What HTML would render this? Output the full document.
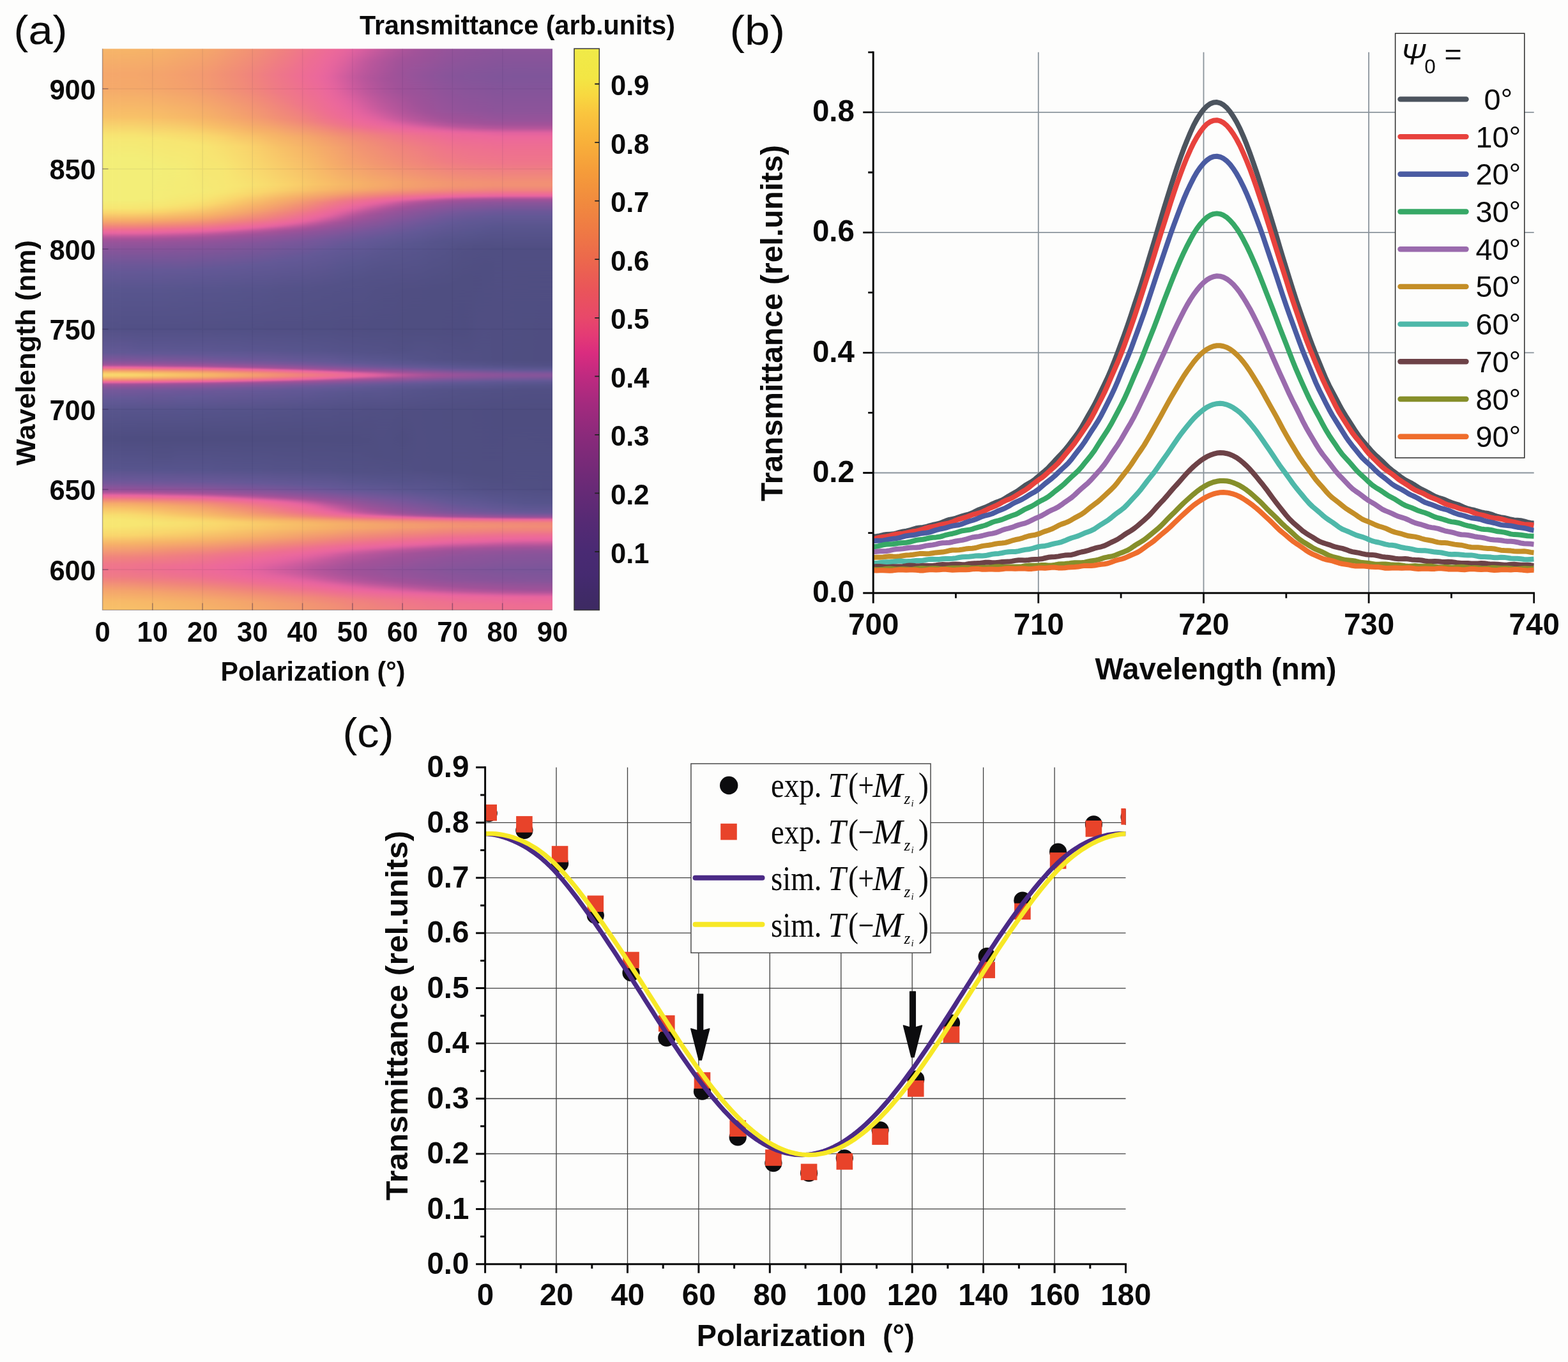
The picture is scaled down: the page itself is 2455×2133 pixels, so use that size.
<!DOCTYPE html>
<html lang="en">
<head>
<meta charset="utf-8">
<title>Transmittance figure</title>
<style>
html,body{margin:0;padding:0;background:#fdfdfc;}
body{width:2455px;height:2133px;overflow:hidden;}
svg{display:block;}
text{font-family:"Liberation Sans",sans-serif;fill:#0a0a0a;white-space:pre;}
.b{font-weight:bold;}
.s{font-family:"Liberation Serif",serif;}
.i{font-style:italic;}
</style>
</head>
<body>
<svg width="2455" height="2133" viewBox="0 0 2455 2133">
<rect width="2455" height="2133" fill="#fdfdfc"/>
<defs>
<linearGradient id="h0" x1="0" y1="0" x2="0" y2="1"><stop offset="0" stop-color="#f6b568"/><stop offset=".0443" stop-color="#f5a76b"/><stop offset=".07" stop-color="#f5a96a"/><stop offset=".1214" stop-color="#f8c168"/><stop offset=".1529" stop-color="#f7e371"/><stop offset=".1614" stop-color="#f6e874"/><stop offset=".1943" stop-color="#f3ee78"/><stop offset=".27" stop-color="#f3ee78"/><stop offset=".2843" stop-color="#f7e672"/><stop offset=".2929" stop-color="#f9d46c"/><stop offset=".3043" stop-color="#f6b268"/><stop offset=".3086" stop-color="#f4a46c"/><stop offset=".3157" stop-color="#f18879"/><stop offset=".3229" stop-color="#ee6e92"/><stop offset=".3257" stop-color="#ec699b"/><stop offset=".3286" stop-color="#e564a0"/><stop offset=".3357" stop-color="#b7569b"/><stop offset=".34" stop-color="#a45299"/><stop offset=".3457" stop-color="#97539a"/><stop offset=".3571" stop-color="#88549a"/><stop offset=".3857" stop-color="#6c5798"/><stop offset=".3986" stop-color="#645896"/><stop offset=".43" stop-color="#58558e"/><stop offset=".4971" stop-color="#525086"/><stop offset=".5414" stop-color="#625895"/><stop offset=".5557" stop-color="#7f559a"/><stop offset=".56" stop-color="#90539a"/><stop offset=".5629" stop-color="#a15299"/><stop offset=".5643" stop-color="#b1559a"/><stop offset=".5671" stop-color="#e563a0"/><stop offset=".5686" stop-color="#ed6b98"/><stop offset=".57" stop-color="#ef758b"/><stop offset=".5714" stop-color="#f0857c"/><stop offset=".5743" stop-color="#f4a66b"/><stop offset=".5757" stop-color="#f6b568"/><stop offset=".5786" stop-color="#f9ce6a"/><stop offset=".58" stop-color="#f9d56c"/><stop offset=".5829" stop-color="#f9d46c"/><stop offset=".5857" stop-color="#f8bf68"/><stop offset=".5886" stop-color="#f4a16d"/><stop offset=".59" stop-color="#f29075"/><stop offset=".5929" stop-color="#ee6f91"/><stop offset=".5943" stop-color="#e9669d"/><stop offset=".5971" stop-color="#b1559a"/><stop offset=".5986" stop-color="#9f5299"/><stop offset=".6029" stop-color="#88549a"/><stop offset=".6086" stop-color="#75579a"/><stop offset=".6243" stop-color="#635896"/><stop offset=".6443" stop-color="#57548c"/><stop offset=".6943" stop-color="#4e4d81"/><stop offset=".7486" stop-color="#57548d"/><stop offset=".7686" stop-color="#6b5798"/><stop offset=".7757" stop-color="#78569a"/><stop offset=".7843" stop-color="#90539a"/><stop offset=".7886" stop-color="#a25299"/><stop offset=".7914" stop-color="#b9569b"/><stop offset=".7943" stop-color="#dc609f"/><stop offset=".7957" stop-color="#e8659e"/><stop offset=".7971" stop-color="#ec699a"/><stop offset=".8" stop-color="#ef738d"/><stop offset=".8043" stop-color="#f18b78"/><stop offset=".81" stop-color="#f5a96a"/><stop offset=".8186" stop-color="#f8c268"/><stop offset=".8314" stop-color="#f8df6f"/><stop offset=".84" stop-color="#f7e773"/><stop offset=".8514" stop-color="#f7e672"/><stop offset=".8671" stop-color="#f9d66c"/><stop offset=".8829" stop-color="#f6b168"/><stop offset=".9057" stop-color="#f0847c"/><stop offset=".9186" stop-color="#ef768a"/><stop offset=".9271" stop-color="#ef748c"/><stop offset=".94" stop-color="#ef7a86"/><stop offset=".9471" stop-color="#f0857c"/><stop offset=".9643" stop-color="#f4a36c"/><stop offset=".9843" stop-color="#f7ba68"/><stop offset="1" stop-color="#f8c168"/></linearGradient>
<linearGradient id="h1" x1="0" y1="0" x2="0" y2="1"><stop offset="0" stop-color="#f6b568"/><stop offset=".0443" stop-color="#f5a76b"/><stop offset=".07" stop-color="#f5a96a"/><stop offset=".1214" stop-color="#f8c168"/><stop offset=".1529" stop-color="#f7e371"/><stop offset=".1614" stop-color="#f6e874"/><stop offset=".1943" stop-color="#f3ee78"/><stop offset=".27" stop-color="#f3ee78"/><stop offset=".2843" stop-color="#f7e672"/><stop offset=".2929" stop-color="#f9d46c"/><stop offset=".3043" stop-color="#f6b268"/><stop offset=".3086" stop-color="#f4a46c"/><stop offset=".3157" stop-color="#f18879"/><stop offset=".3229" stop-color="#ee6e92"/><stop offset=".3257" stop-color="#ec699b"/><stop offset=".3286" stop-color="#e564a0"/><stop offset=".3357" stop-color="#b7569b"/><stop offset=".34" stop-color="#a45299"/><stop offset=".3457" stop-color="#97539a"/><stop offset=".3571" stop-color="#88549a"/><stop offset=".3857" stop-color="#6c5798"/><stop offset=".3986" stop-color="#645896"/><stop offset=".43" stop-color="#58558e"/><stop offset=".4971" stop-color="#525086"/><stop offset=".5414" stop-color="#625895"/><stop offset=".5557" stop-color="#7f559a"/><stop offset=".56" stop-color="#90539a"/><stop offset=".5629" stop-color="#a15299"/><stop offset=".5643" stop-color="#b1559a"/><stop offset=".5657" stop-color="#c85a9d"/><stop offset=".5671" stop-color="#e463a0"/><stop offset=".5686" stop-color="#ed6a98"/><stop offset=".57" stop-color="#ef748c"/><stop offset=".5714" stop-color="#f0847c"/><stop offset=".5743" stop-color="#f4a66b"/><stop offset=".5757" stop-color="#f6b468"/><stop offset=".5786" stop-color="#f9cd6a"/><stop offset=".58" stop-color="#f9d46c"/><stop offset=".5814" stop-color="#f9d66c"/><stop offset=".5829" stop-color="#f9d36b"/><stop offset=".5857" stop-color="#f8be68"/><stop offset=".5886" stop-color="#f4a16d"/><stop offset=".59" stop-color="#f18f75"/><stop offset=".5929" stop-color="#ee6e92"/><stop offset=".5943" stop-color="#e9669e"/><stop offset=".5971" stop-color="#b1559a"/><stop offset=".5986" stop-color="#9f5299"/><stop offset=".6029" stop-color="#88549a"/><stop offset=".6086" stop-color="#75579a"/><stop offset=".6243" stop-color="#635896"/><stop offset=".6443" stop-color="#57548c"/><stop offset=".6943" stop-color="#4e4d81"/><stop offset=".7486" stop-color="#57548d"/><stop offset=".7686" stop-color="#6b5798"/><stop offset=".7757" stop-color="#78569a"/><stop offset=".7843" stop-color="#90539a"/><stop offset=".7886" stop-color="#a25299"/><stop offset=".7914" stop-color="#b8569b"/><stop offset=".7943" stop-color="#da609f"/><stop offset=".7957" stop-color="#e7659e"/><stop offset=".7971" stop-color="#ec699a"/><stop offset=".8" stop-color="#ef738d"/><stop offset=".8043" stop-color="#f18a78"/><stop offset=".81" stop-color="#f5a96b"/><stop offset=".8186" stop-color="#f8c168"/><stop offset=".83" stop-color="#f8dc6e"/><stop offset=".8386" stop-color="#f7e672"/><stop offset=".85" stop-color="#f7e772"/><stop offset=".8671" stop-color="#f9d66c"/><stop offset=".8829" stop-color="#f6b068"/><stop offset=".9057" stop-color="#f0837d"/><stop offset=".9186" stop-color="#ef768a"/><stop offset=".9271" stop-color="#ef738d"/><stop offset=".94" stop-color="#ef7a86"/><stop offset=".9471" stop-color="#f0847c"/><stop offset=".9657" stop-color="#f4a46c"/><stop offset=".9843" stop-color="#f7ba68"/><stop offset="1" stop-color="#f8c168"/></linearGradient>
<linearGradient id="h2" x1="0" y1="0" x2="0" y2="1"><stop offset="0" stop-color="#f6b568"/><stop offset=".0443" stop-color="#f5a76b"/><stop offset=".07" stop-color="#f5a96a"/><stop offset=".1214" stop-color="#f8c168"/><stop offset=".1529" stop-color="#f7e371"/><stop offset=".1614" stop-color="#f6e874"/><stop offset=".1943" stop-color="#f3ee78"/><stop offset=".27" stop-color="#f3ee78"/><stop offset=".2843" stop-color="#f7e672"/><stop offset=".2929" stop-color="#f9d46c"/><stop offset=".3043" stop-color="#f6b268"/><stop offset=".3086" stop-color="#f4a46c"/><stop offset=".3157" stop-color="#f18879"/><stop offset=".3229" stop-color="#ee6e92"/><stop offset=".3257" stop-color="#ec699b"/><stop offset=".3286" stop-color="#e564a0"/><stop offset=".3357" stop-color="#b7569b"/><stop offset=".34" stop-color="#a45299"/><stop offset=".3457" stop-color="#97539a"/><stop offset=".3571" stop-color="#88549a"/><stop offset=".3857" stop-color="#6c5798"/><stop offset=".3986" stop-color="#645896"/><stop offset=".43" stop-color="#58558e"/><stop offset=".4971" stop-color="#525086"/><stop offset=".5414" stop-color="#625895"/><stop offset=".5557" stop-color="#7f559a"/><stop offset=".56" stop-color="#8f539a"/><stop offset=".5629" stop-color="#a05299"/><stop offset=".5643" stop-color="#b0559a"/><stop offset=".5657" stop-color="#c75a9d"/><stop offset=".5671" stop-color="#e463a0"/><stop offset=".5686" stop-color="#ed6a98"/><stop offset=".57" stop-color="#ef748c"/><stop offset=".5714" stop-color="#f0847c"/><stop offset=".5743" stop-color="#f4a56b"/><stop offset=".5757" stop-color="#f6b368"/><stop offset=".5786" stop-color="#f9cc6a"/><stop offset=".58" stop-color="#f9d36b"/><stop offset=".5814" stop-color="#f9d56c"/><stop offset=".5829" stop-color="#f9d26b"/><stop offset=".5857" stop-color="#f7bd68"/><stop offset=".5886" stop-color="#f4a06d"/><stop offset=".59" stop-color="#f18e76"/><stop offset=".5929" stop-color="#ee6e92"/><stop offset=".5943" stop-color="#e8669e"/><stop offset=".5971" stop-color="#b0559a"/><stop offset=".5986" stop-color="#9f5299"/><stop offset=".6029" stop-color="#88549a"/><stop offset=".6086" stop-color="#75579a"/><stop offset=".6243" stop-color="#635896"/><stop offset=".6443" stop-color="#57548c"/><stop offset=".6943" stop-color="#4e4d81"/><stop offset=".7486" stop-color="#57548d"/><stop offset=".7686" stop-color="#6b5798"/><stop offset=".7757" stop-color="#78569a"/><stop offset=".7843" stop-color="#90539a"/><stop offset=".7886" stop-color="#a15299"/><stop offset=".7914" stop-color="#b8569b"/><stop offset=".7957" stop-color="#e7659f"/><stop offset=".7971" stop-color="#ec699b"/><stop offset=".8" stop-color="#ee738d"/><stop offset=".8043" stop-color="#f18a79"/><stop offset=".81" stop-color="#f5a86b"/><stop offset=".8186" stop-color="#f8c068"/><stop offset=".83" stop-color="#f8db6e"/><stop offset=".84" stop-color="#f7e672"/><stop offset=".85" stop-color="#f7e672"/><stop offset=".8671" stop-color="#f9d56c"/><stop offset=".8814" stop-color="#f6b368"/><stop offset=".9057" stop-color="#f0837d"/><stop offset=".9186" stop-color="#ef768a"/><stop offset=".9271" stop-color="#ef738d"/><stop offset=".94" stop-color="#ef7a86"/><stop offset=".9471" stop-color="#f0847c"/><stop offset=".9657" stop-color="#f4a46c"/><stop offset=".9843" stop-color="#f7b968"/><stop offset="1" stop-color="#f8c168"/></linearGradient>
<linearGradient id="h3" x1="0" y1="0" x2="0" y2="1"><stop offset="0" stop-color="#f6b468"/><stop offset=".0443" stop-color="#f5a76b"/><stop offset=".07" stop-color="#f5a96a"/><stop offset=".1214" stop-color="#f8c168"/><stop offset=".1529" stop-color="#f7e371"/><stop offset=".1614" stop-color="#f6e873"/><stop offset=".1943" stop-color="#f3ee78"/><stop offset=".27" stop-color="#f3ee78"/><stop offset=".2843" stop-color="#f7e572"/><stop offset=".2929" stop-color="#f9d46c"/><stop offset=".3043" stop-color="#f6b168"/><stop offset=".3086" stop-color="#f4a46c"/><stop offset=".3157" stop-color="#f18879"/><stop offset=".3229" stop-color="#ee6e92"/><stop offset=".3257" stop-color="#ec699b"/><stop offset=".3286" stop-color="#e564a0"/><stop offset=".3357" stop-color="#b7569b"/><stop offset=".34" stop-color="#a45299"/><stop offset=".3457" stop-color="#97539a"/><stop offset=".3571" stop-color="#88549a"/><stop offset=".3857" stop-color="#6c5798"/><stop offset=".3986" stop-color="#645896"/><stop offset=".43" stop-color="#58558e"/><stop offset=".4971" stop-color="#525086"/><stop offset=".5343" stop-color="#5c5691"/><stop offset=".5429" stop-color="#635896"/><stop offset=".5529" stop-color="#76569a"/><stop offset=".5571" stop-color="#83559a"/><stop offset=".5614" stop-color="#96539a"/><stop offset=".5629" stop-color="#9f5299"/><stop offset=".5643" stop-color="#ae549a"/><stop offset=".5657" stop-color="#c3599d"/><stop offset=".5671" stop-color="#e062a0"/><stop offset=".5686" stop-color="#ec699a"/><stop offset=".57" stop-color="#ee728e"/><stop offset=".5714" stop-color="#f0817f"/><stop offset=".5743" stop-color="#f4a36c"/><stop offset=".5757" stop-color="#f6b168"/><stop offset=".5786" stop-color="#f8c969"/><stop offset=".58" stop-color="#f9d06b"/><stop offset=".5814" stop-color="#f9d26b"/><stop offset=".5829" stop-color="#f9cf6b"/><stop offset=".5857" stop-color="#f7bb68"/><stop offset=".5886" stop-color="#f39e6e"/><stop offset=".59" stop-color="#f18c77"/><stop offset=".5914" stop-color="#ef7b85"/><stop offset=".5929" stop-color="#ee6d93"/><stop offset=".5943" stop-color="#e7659f"/><stop offset=".5971" stop-color="#ae549a"/><stop offset=".5986" stop-color="#9d5299"/><stop offset=".6029" stop-color="#87549a"/><stop offset=".6086" stop-color="#74579a"/><stop offset=".6229" stop-color="#645896"/><stop offset=".6443" stop-color="#57548c"/><stop offset=".6943" stop-color="#4e4d81"/><stop offset=".7486" stop-color="#57548d"/><stop offset=".7686" stop-color="#6a5898"/><stop offset=".7757" stop-color="#77569a"/><stop offset=".7843" stop-color="#8f539a"/><stop offset=".7886" stop-color="#a05299"/><stop offset=".7914" stop-color="#b5559b"/><stop offset=".7957" stop-color="#e5649f"/><stop offset=".7971" stop-color="#ec689c"/><stop offset=".8" stop-color="#ee718f"/><stop offset=".8043" stop-color="#f0877a"/><stop offset=".81" stop-color="#f4a56b"/><stop offset=".8143" stop-color="#f6b368"/><stop offset=".82" stop-color="#f8c068"/><stop offset=".83" stop-color="#f9d86d"/><stop offset=".8414" stop-color="#f7e672"/><stop offset=".8486" stop-color="#f7e672"/><stop offset=".8657" stop-color="#f9d66c"/><stop offset=".8814" stop-color="#f6b268"/><stop offset=".9057" stop-color="#f0827e"/><stop offset=".9186" stop-color="#ef748c"/><stop offset=".9286" stop-color="#ee728e"/><stop offset=".94" stop-color="#ef7888"/><stop offset=".9486" stop-color="#f0857c"/><stop offset=".9657" stop-color="#f4a26c"/><stop offset=".9843" stop-color="#f7b868"/><stop offset="1" stop-color="#f8bf68"/></linearGradient>
<linearGradient id="h4" x1="0" y1="0" x2="0" y2="1"><stop offset="0" stop-color="#f6b368"/><stop offset=".0457" stop-color="#f4a56b"/><stop offset=".07" stop-color="#f5a86b"/><stop offset=".1214" stop-color="#f8c068"/><stop offset=".16" stop-color="#f7e773"/><stop offset=".2014" stop-color="#f3ee78"/><stop offset=".2671" stop-color="#f3ee78"/><stop offset=".2843" stop-color="#f7e471"/><stop offset=".2914" stop-color="#f9d66c"/><stop offset=".3043" stop-color="#f6b069"/><stop offset=".3086" stop-color="#f4a26c"/><stop offset=".3157" stop-color="#f0877a"/><stop offset=".3214" stop-color="#ee728e"/><stop offset=".3257" stop-color="#ec689c"/><stop offset=".3286" stop-color="#e463a0"/><stop offset=".3343" stop-color="#bd579c"/><stop offset=".34" stop-color="#a35299"/><stop offset=".3471" stop-color="#94539a"/><stop offset=".3571" stop-color="#88549a"/><stop offset=".3857" stop-color="#6b5798"/><stop offset=".3986" stop-color="#635896"/><stop offset=".43" stop-color="#58558e"/><stop offset=".4971" stop-color="#525086"/><stop offset=".5343" stop-color="#5c5691"/><stop offset=".5429" stop-color="#635896"/><stop offset=".5529" stop-color="#76579a"/><stop offset=".5571" stop-color="#82559a"/><stop offset=".5614" stop-color="#95539a"/><stop offset=".5643" stop-color="#ab549a"/><stop offset=".5657" stop-color="#c0589c"/><stop offset=".5671" stop-color="#dc609f"/><stop offset=".5686" stop-color="#ec689b"/><stop offset=".57" stop-color="#ee718f"/><stop offset=".5729" stop-color="#f29075"/><stop offset=".5743" stop-color="#f4a06d"/><stop offset=".5771" stop-color="#f7bb68"/><stop offset=".58" stop-color="#f9cd6a"/><stop offset=".5814" stop-color="#f9cf6b"/><stop offset=".5829" stop-color="#f8cb6a"/><stop offset=".5857" stop-color="#f7b868"/><stop offset=".5886" stop-color="#f39c6f"/><stop offset=".59" stop-color="#f18a78"/><stop offset=".5929" stop-color="#ed6c95"/><stop offset=".5943" stop-color="#e6649f"/><stop offset=".5957" stop-color="#c65a9d"/><stop offset=".5971" stop-color="#ac549a"/><stop offset=".5986" stop-color="#9c5299"/><stop offset=".6029" stop-color="#86549a"/><stop offset=".6086" stop-color="#73579a"/><stop offset=".6143" stop-color="#6b5798"/><stop offset=".6429" stop-color="#57548d"/><stop offset=".6943" stop-color="#4e4d80"/><stop offset=".7486" stop-color="#57548c"/><stop offset=".7686" stop-color="#6a5898"/><stop offset=".7757" stop-color="#76569a"/><stop offset=".7843" stop-color="#8e539a"/><stop offset=".7886" stop-color="#9e5299"/><stop offset=".7914" stop-color="#b2559a"/><stop offset=".7957" stop-color="#e363a0"/><stop offset=".7971" stop-color="#ea679d"/><stop offset=".8" stop-color="#ee6f91"/><stop offset=".8043" stop-color="#f0857b"/><stop offset=".81" stop-color="#f4a26c"/><stop offset=".8143" stop-color="#f6b068"/><stop offset=".8214" stop-color="#f8c068"/><stop offset=".8314" stop-color="#f9d76c"/><stop offset=".8414" stop-color="#f7e471"/><stop offset=".8471" stop-color="#f7e672"/><stop offset=".8657" stop-color="#f9d46c"/><stop offset=".88" stop-color="#f6b368"/><stop offset=".8886" stop-color="#f4a16d"/><stop offset=".9057" stop-color="#f08080"/><stop offset=".9186" stop-color="#ef738d"/><stop offset=".9286" stop-color="#ee718f"/><stop offset=".9414" stop-color="#ef7987"/><stop offset=".95" stop-color="#f0857b"/><stop offset=".9671" stop-color="#f4a36c"/><stop offset=".9843" stop-color="#f7b768"/><stop offset="1" stop-color="#f8be68"/></linearGradient>
<linearGradient id="h5" x1="0" y1="0" x2="0" y2="1"><stop offset="0" stop-color="#f6b268"/><stop offset=".0457" stop-color="#f4a46c"/><stop offset=".07" stop-color="#f4a66b"/><stop offset=".1229" stop-color="#f8bf68"/><stop offset=".16" stop-color="#f7e672"/><stop offset=".21" stop-color="#f3ee78"/><stop offset=".2671" stop-color="#f4ed77"/><stop offset=".28" stop-color="#f7e773"/><stop offset=".2843" stop-color="#f8e170"/><stop offset=".2914" stop-color="#f9d36b"/><stop offset=".3029" stop-color="#f6b268"/><stop offset=".3086" stop-color="#f4a06d"/><stop offset=".3157" stop-color="#f0857b"/><stop offset=".3214" stop-color="#ee7090"/><stop offset=".3243" stop-color="#ed6a99"/><stop offset=".3286" stop-color="#e162a0"/><stop offset=".3343" stop-color="#bb579b"/><stop offset=".3386" stop-color="#a75399"/><stop offset=".3443" stop-color="#98539a"/><stop offset=".3543" stop-color="#8a549a"/><stop offset=".3943" stop-color="#655897"/><stop offset=".43" stop-color="#58558e"/><stop offset=".4971" stop-color="#525086"/><stop offset=".5343" stop-color="#5c5691"/><stop offset=".5429" stop-color="#625895"/><stop offset=".5557" stop-color="#7c569a"/><stop offset=".5614" stop-color="#93539a"/><stop offset=".5643" stop-color="#a8539a"/><stop offset=".5657" stop-color="#bc579b"/><stop offset=".5671" stop-color="#d75f9f"/><stop offset=".5686" stop-color="#eb679d"/><stop offset=".57" stop-color="#ee6f91"/><stop offset=".5729" stop-color="#f18d77"/><stop offset=".5743" stop-color="#f39d6f"/><stop offset=".5771" stop-color="#f7b868"/><stop offset=".58" stop-color="#f8c969"/><stop offset=".5814" stop-color="#f8cb6a"/><stop offset=".5829" stop-color="#f8c769"/><stop offset=".5857" stop-color="#f6b568"/><stop offset=".5886" stop-color="#f39970"/><stop offset=".59" stop-color="#f1887a"/><stop offset=".5929" stop-color="#ed6b96"/><stop offset=".5943" stop-color="#e463a0"/><stop offset=".5957" stop-color="#c2599c"/><stop offset=".5971" stop-color="#a9539a"/><stop offset=".5986" stop-color="#9b5299"/><stop offset=".6" stop-color="#92539a"/><stop offset=".6043" stop-color="#80559a"/><stop offset=".6086" stop-color="#73579a"/><stop offset=".6143" stop-color="#6a5898"/><stop offset=".6429" stop-color="#57548c"/><stop offset=".6943" stop-color="#4e4d80"/><stop offset=".7271" stop-color="#525085"/><stop offset=".75" stop-color="#57548d"/><stop offset=".77" stop-color="#6b5798"/><stop offset=".7757" stop-color="#75579a"/><stop offset=".7843" stop-color="#8c549a"/><stop offset=".7886" stop-color="#9d5299"/><stop offset=".7914" stop-color="#af549a"/><stop offset=".7929" stop-color="#bd579c"/><stop offset=".7957" stop-color="#de619f"/><stop offset=".7971" stop-color="#e9669e"/><stop offset=".8" stop-color="#ee6e93"/><stop offset=".8043" stop-color="#f0827e"/><stop offset=".81" stop-color="#f49f6e"/><stop offset=".8171" stop-color="#f6b368"/><stop offset=".8329" stop-color="#f9d66c"/><stop offset=".8414" stop-color="#f7e271"/><stop offset=".8471" stop-color="#f7e471"/><stop offset=".8657" stop-color="#f9d26b"/><stop offset=".88" stop-color="#f6b168"/><stop offset=".8943" stop-color="#f29373"/><stop offset=".9057" stop-color="#f07f81"/><stop offset=".92" stop-color="#ee718f"/><stop offset=".9286" stop-color="#ee7090"/><stop offset=".9429" stop-color="#ef7987"/><stop offset=".9514" stop-color="#f0867b"/><stop offset=".9686" stop-color="#f4a36c"/><stop offset=".9857" stop-color="#f7b668"/><stop offset="1" stop-color="#f7bd68"/></linearGradient>
<linearGradient id="h6" x1="0" y1="0" x2="0" y2="1"><stop offset="0" stop-color="#f6b069"/><stop offset=".0457" stop-color="#f4a26d"/><stop offset=".07" stop-color="#f4a46c"/><stop offset=".1229" stop-color="#f7bd68"/><stop offset=".1514" stop-color="#f8dd6f"/><stop offset=".1629" stop-color="#f7e672"/><stop offset=".2129" stop-color="#f3ed77"/><stop offset=".2629" stop-color="#f4ec77"/><stop offset=".2771" stop-color="#f6e773"/><stop offset=".2829" stop-color="#f8e170"/><stop offset=".29" stop-color="#f9d36b"/><stop offset=".3029" stop-color="#f6af69"/><stop offset=".3071" stop-color="#f4a26c"/><stop offset=".3143" stop-color="#f18879"/><stop offset=".3214" stop-color="#ee6f91"/><stop offset=".3243" stop-color="#ec699a"/><stop offset=".3271" stop-color="#e5649f"/><stop offset=".3343" stop-color="#b8569b"/><stop offset=".3386" stop-color="#a45299"/><stop offset=".3457" stop-color="#94539a"/><stop offset=".3557" stop-color="#88549a"/><stop offset=".3843" stop-color="#6c5798"/><stop offset=".3957" stop-color="#645896"/><stop offset=".43" stop-color="#58558d"/><stop offset=".4971" stop-color="#525086"/><stop offset=".5343" stop-color="#5c5691"/><stop offset=".5429" stop-color="#625895"/><stop offset=".5557" stop-color="#7b569a"/><stop offset=".5614" stop-color="#92539a"/><stop offset=".5643" stop-color="#a55399"/><stop offset=".5657" stop-color="#b7569b"/><stop offset=".5686" stop-color="#e9669e"/><stop offset=".57" stop-color="#ee6d93"/><stop offset=".5729" stop-color="#f18a78"/><stop offset=".5757" stop-color="#f5a96b"/><stop offset=".5786" stop-color="#f8be68"/><stop offset=".58" stop-color="#f8c468"/><stop offset=".5814" stop-color="#f8c669"/><stop offset=".5829" stop-color="#f8c368"/><stop offset=".5857" stop-color="#f6b268"/><stop offset=".5886" stop-color="#f29672"/><stop offset=".59" stop-color="#f0857b"/><stop offset=".5929" stop-color="#ed6a98"/><stop offset=".5943" stop-color="#e062a0"/><stop offset=".5957" stop-color="#be589c"/><stop offset=".5971" stop-color="#a65399"/><stop offset=".6" stop-color="#90539a"/><stop offset=".6043" stop-color="#7f559a"/><stop offset=".6086" stop-color="#72579a"/><stop offset=".6143" stop-color="#6a5898"/><stop offset=".6429" stop-color="#57548c"/><stop offset=".6943" stop-color="#4e4d80"/><stop offset=".7271" stop-color="#525085"/><stop offset=".75" stop-color="#57548d"/><stop offset=".77" stop-color="#6a5898"/><stop offset=".7771" stop-color="#78569a"/><stop offset=".7871" stop-color="#95539a"/><stop offset=".79" stop-color="#a15299"/><stop offset=".7914" stop-color="#ac549a"/><stop offset=".7929" stop-color="#b8569b"/><stop offset=".7971" stop-color="#e6659f"/><stop offset=".7986" stop-color="#ec699b"/><stop offset=".8014" stop-color="#ee718f"/><stop offset=".8071" stop-color="#f18e76"/><stop offset=".8114" stop-color="#f4a16d"/><stop offset=".8143" stop-color="#f5a96a"/><stop offset=".8257" stop-color="#f8c168"/><stop offset=".8343" stop-color="#f9d56c"/><stop offset=".8443" stop-color="#f7e271"/><stop offset=".85" stop-color="#f8e170"/><stop offset=".8629" stop-color="#f9d46c"/><stop offset=".8786" stop-color="#f6b368"/><stop offset=".8929" stop-color="#f29373"/><stop offset=".9043" stop-color="#f07f81"/><stop offset=".9229" stop-color="#ee6e92"/><stop offset=".9329" stop-color="#ee6f91"/><stop offset=".9414" stop-color="#ef768a"/><stop offset=".9514" stop-color="#f0847c"/><stop offset=".97" stop-color="#f4a36c"/><stop offset=".9857" stop-color="#f6b568"/><stop offset="1" stop-color="#f7bb68"/></linearGradient>
<linearGradient id="h7" x1="0" y1="0" x2="0" y2="1"><stop offset="0" stop-color="#f5ae69"/><stop offset=".0457" stop-color="#f4a06d"/><stop offset=".07" stop-color="#f4a26c"/><stop offset=".1229" stop-color="#f7bb68"/><stop offset=".1529" stop-color="#f8dc6e"/><stop offset=".1657" stop-color="#f7e672"/><stop offset=".2143" stop-color="#f4ed77"/><stop offset=".2586" stop-color="#f4ec76"/><stop offset=".2757" stop-color="#f7e672"/><stop offset=".2814" stop-color="#f8e070"/><stop offset=".2871" stop-color="#f9d66c"/><stop offset=".3014" stop-color="#f6b168"/><stop offset=".3071" stop-color="#f4a06d"/><stop offset=".3143" stop-color="#f0867b"/><stop offset=".3214" stop-color="#ee6e93"/><stop offset=".3243" stop-color="#ec689c"/><stop offset=".3271" stop-color="#e463a0"/><stop offset=".3329" stop-color="#bd579c"/><stop offset=".3386" stop-color="#a25299"/><stop offset=".3457" stop-color="#93539a"/><stop offset=".3557" stop-color="#87549a"/><stop offset=".3957" stop-color="#645896"/><stop offset=".43" stop-color="#57558d"/><stop offset=".4971" stop-color="#525086"/><stop offset=".5343" stop-color="#5b5690"/><stop offset=".5429" stop-color="#615895"/><stop offset=".5557" stop-color="#7a569a"/><stop offset=".5614" stop-color="#90539a"/><stop offset=".5643" stop-color="#a25299"/><stop offset=".5657" stop-color="#b4559b"/><stop offset=".5686" stop-color="#e7659f"/><stop offset=".5714" stop-color="#ef7888"/><stop offset=".5729" stop-color="#f0887a"/><stop offset=".5757" stop-color="#f4a56b"/><stop offset=".5786" stop-color="#f7bb68"/><stop offset=".58" stop-color="#f8c068"/><stop offset=".5829" stop-color="#f8bf68"/><stop offset=".5857" stop-color="#f6af69"/><stop offset=".5886" stop-color="#f29373"/><stop offset=".59" stop-color="#f0837d"/><stop offset=".5914" stop-color="#ef738d"/><stop offset=".5929" stop-color="#ec699a"/><stop offset=".5943" stop-color="#db609f"/><stop offset=".5957" stop-color="#b9569b"/><stop offset=".5971" stop-color="#a35299"/><stop offset=".6" stop-color="#8f539a"/><stop offset=".6057" stop-color="#79569a"/><stop offset=".61" stop-color="#6e5799"/><stop offset=".6214" stop-color="#635896"/><stop offset=".6414" stop-color="#57548d"/><stop offset=".6943" stop-color="#4e4d80"/><stop offset=".75" stop-color="#57548d"/><stop offset=".7714" stop-color="#6c5798"/><stop offset=".78" stop-color="#7e569a"/><stop offset=".7886" stop-color="#99539a"/><stop offset=".79" stop-color="#a05299"/><stop offset=".7929" stop-color="#b4559b"/><stop offset=".7971" stop-color="#e463a0"/><stop offset=".7986" stop-color="#eb679d"/><stop offset=".8014" stop-color="#ee6f91"/><stop offset=".8071" stop-color="#f18b78"/><stop offset=".8143" stop-color="#f4a66b"/><stop offset=".8286" stop-color="#f8c368"/><stop offset=".8371" stop-color="#f9d76c"/><stop offset=".8443" stop-color="#f8e170"/><stop offset=".85" stop-color="#f8df70"/><stop offset=".8614" stop-color="#f9d36b"/><stop offset=".8686" stop-color="#f8c869"/><stop offset=".8786" stop-color="#f6b168"/><stop offset=".8914" stop-color="#f29472"/><stop offset=".9029" stop-color="#f07f81"/><stop offset=".9214" stop-color="#ee6e93"/><stop offset=".9314" stop-color="#ee6e93"/><stop offset=".94" stop-color="#ee738d"/><stop offset=".9529" stop-color="#f0847c"/><stop offset=".97" stop-color="#f4a16d"/><stop offset=".9857" stop-color="#f6b368"/><stop offset="1" stop-color="#f7b968"/></linearGradient>
<linearGradient id="h8" x1="0" y1="0" x2="0" y2="1"><stop offset="0" stop-color="#f5ab6a"/><stop offset=".0457" stop-color="#f39d6e"/><stop offset=".07" stop-color="#f4a06d"/><stop offset=".1229" stop-color="#f7b868"/><stop offset=".1529" stop-color="#f8da6e"/><stop offset=".1686" stop-color="#f7e672"/><stop offset=".2143" stop-color="#f4ec76"/><stop offset=".2571" stop-color="#f4eb76"/><stop offset=".2729" stop-color="#f7e672"/><stop offset=".28" stop-color="#f8de6f"/><stop offset=".2857" stop-color="#f9d56c"/><stop offset=".3" stop-color="#f6b168"/><stop offset=".3057" stop-color="#f4a26d"/><stop offset=".3129" stop-color="#f18979"/><stop offset=".32" stop-color="#ee7090"/><stop offset=".3229" stop-color="#ed6a99"/><stop offset=".3271" stop-color="#e062a0"/><stop offset=".3329" stop-color="#b9569b"/><stop offset=".3371" stop-color="#a65399"/><stop offset=".3443" stop-color="#94539a"/><stop offset=".3529" stop-color="#89549a"/><stop offset=".3943" stop-color="#645896"/><stop offset=".43" stop-color="#57548d"/><stop offset=".4971" stop-color="#525086"/><stop offset=".5343" stop-color="#5b5690"/><stop offset=".5429" stop-color="#615795"/><stop offset=".5557" stop-color="#79569a"/><stop offset=".5614" stop-color="#8f539a"/><stop offset=".5643" stop-color="#a05299"/><stop offset=".5657" stop-color="#b0559a"/><stop offset=".5686" stop-color="#e5649f"/><stop offset=".57" stop-color="#ed6b97"/><stop offset=".5729" stop-color="#f0857c"/><stop offset=".5743" stop-color="#f29473"/><stop offset=".5757" stop-color="#f4a26c"/><stop offset=".5786" stop-color="#f7b768"/><stop offset=".58" stop-color="#f7bd68"/><stop offset=".5829" stop-color="#f7bc68"/><stop offset=".5857" stop-color="#f5ac6a"/><stop offset=".5886" stop-color="#f29075"/><stop offset=".5914" stop-color="#ee718f"/><stop offset=".5929" stop-color="#ec689c"/><stop offset=".5943" stop-color="#d65f9f"/><stop offset=".5957" stop-color="#b6569b"/><stop offset=".5971" stop-color="#a15299"/><stop offset=".6" stop-color="#8e539a"/><stop offset=".6057" stop-color="#78569a"/><stop offset=".61" stop-color="#6d5799"/><stop offset=".6214" stop-color="#635896"/><stop offset=".6429" stop-color="#56548c"/><stop offset=".6943" stop-color="#4e4d80"/><stop offset=".75" stop-color="#57548c"/><stop offset=".7714" stop-color="#6b5798"/><stop offset=".78" stop-color="#7d569a"/><stop offset=".7886" stop-color="#97539a"/><stop offset=".7914" stop-color="#a65399"/><stop offset=".7929" stop-color="#b1559a"/><stop offset=".7971" stop-color="#e062a0"/><stop offset=".7986" stop-color="#e9669e"/><stop offset=".8014" stop-color="#ee6d93"/><stop offset=".8071" stop-color="#f0887a"/><stop offset=".8143" stop-color="#f4a26c"/><stop offset=".83" stop-color="#f8c268"/><stop offset=".8386" stop-color="#f9d76c"/><stop offset=".8443" stop-color="#f8df6f"/><stop offset=".85" stop-color="#f8de6f"/><stop offset=".8586" stop-color="#f9d56c"/><stop offset=".8671" stop-color="#f8c869"/><stop offset=".8771" stop-color="#f6b268"/><stop offset=".8914" stop-color="#f29274"/><stop offset=".9029" stop-color="#ef7d83"/><stop offset=".9214" stop-color="#ee6d94"/><stop offset=".9314" stop-color="#ee6d94"/><stop offset=".94" stop-color="#ee718f"/><stop offset=".9543" stop-color="#f0857b"/><stop offset=".9686" stop-color="#f39d6f"/><stop offset=".9843" stop-color="#f6b068"/><stop offset="1" stop-color="#f7b868"/></linearGradient>
<linearGradient id="h9" x1="0" y1="0" x2="0" y2="1"><stop offset="0" stop-color="#f5a96a"/><stop offset=".0457" stop-color="#f39b70"/><stop offset=".0714" stop-color="#f39e6e"/><stop offset=".1229" stop-color="#f6b668"/><stop offset=".1357" stop-color="#f8c268"/><stop offset=".1529" stop-color="#f9d86d"/><stop offset=".1714" stop-color="#f7e672"/><stop offset=".2543" stop-color="#f5eb75"/><stop offset=".27" stop-color="#f7e672"/><stop offset=".2786" stop-color="#f8dd6e"/><stop offset=".2843" stop-color="#f9d46c"/><stop offset=".2986" stop-color="#f6b268"/><stop offset=".3043" stop-color="#f4a36c"/><stop offset=".3129" stop-color="#f0867b"/><stop offset=".32" stop-color="#ee6e92"/><stop offset=".3229" stop-color="#ec699b"/><stop offset=".3257" stop-color="#e563a0"/><stop offset=".3314" stop-color="#be589c"/><stop offset=".3371" stop-color="#a35299"/><stop offset=".3443" stop-color="#93539a"/><stop offset=".3543" stop-color="#86549a"/><stop offset=".3943" stop-color="#635896"/><stop offset=".43" stop-color="#57548d"/><stop offset=".4971" stop-color="#525085"/><stop offset=".5343" stop-color="#5b5690"/><stop offset=".5429" stop-color="#615794"/><stop offset=".5557" stop-color="#78569a"/><stop offset=".5614" stop-color="#8d539a"/><stop offset=".5643" stop-color="#9e5299"/><stop offset=".5657" stop-color="#ad549a"/><stop offset=".5671" stop-color="#c4599d"/><stop offset=".5686" stop-color="#e162a0"/><stop offset=".57" stop-color="#ed6a99"/><stop offset=".5729" stop-color="#f0827e"/><stop offset=".5757" stop-color="#f39f6e"/><stop offset=".5786" stop-color="#f6b468"/><stop offset=".58" stop-color="#f7b968"/><stop offset=".5829" stop-color="#f7b868"/><stop offset=".5857" stop-color="#f5a96a"/><stop offset=".5886" stop-color="#f18d76"/><stop offset=".5914" stop-color="#ee6f91"/><stop offset=".5929" stop-color="#ea679d"/><stop offset=".5943" stop-color="#d15d9e"/><stop offset=".5957" stop-color="#b3559b"/><stop offset=".5971" stop-color="#9f5299"/><stop offset=".6" stop-color="#8c549a"/><stop offset=".6057" stop-color="#77569a"/><stop offset=".61" stop-color="#6d5799"/><stop offset=".62" stop-color="#635896"/><stop offset=".6429" stop-color="#56548b"/><stop offset=".6943" stop-color="#4e4d80"/><stop offset=".75" stop-color="#57548c"/><stop offset=".7714" stop-color="#6a5898"/><stop offset=".78" stop-color="#7c569a"/><stop offset=".7886" stop-color="#96539a"/><stop offset=".7914" stop-color="#a25299"/><stop offset=".7929" stop-color="#ad549a"/><stop offset=".7986" stop-color="#e7659f"/><stop offset=".8" stop-color="#ec689b"/><stop offset=".8029" stop-color="#ee718f"/><stop offset=".8071" stop-color="#f0847c"/><stop offset=".8114" stop-color="#f29672"/><stop offset=".8157" stop-color="#f4a16d"/><stop offset=".8314" stop-color="#f8c168"/><stop offset=".84" stop-color="#f9d76d"/><stop offset=".8457" stop-color="#f8dd6f"/><stop offset=".8586" stop-color="#f9d36b"/><stop offset=".8671" stop-color="#f8c569"/><stop offset=".8771" stop-color="#f6b069"/><stop offset=".89" stop-color="#f29373"/><stop offset=".9029" stop-color="#ef7b85"/><stop offset=".9214" stop-color="#ed6c95"/><stop offset=".9314" stop-color="#ed6c96"/><stop offset=".94" stop-color="#ee7090"/><stop offset=".9557" stop-color="#f0857b"/><stop offset=".9686" stop-color="#f39b6f"/><stop offset=".9843" stop-color="#f6af69"/><stop offset="1" stop-color="#f7b668"/></linearGradient>
<linearGradient id="h10" x1="0" y1="0" x2="0" y2="1"><stop offset="0" stop-color="#f4a66b"/><stop offset=".0457" stop-color="#f39871"/><stop offset=".0714" stop-color="#f39a70"/><stop offset=".1229" stop-color="#f6b268"/><stop offset=".14" stop-color="#f8c368"/><stop offset=".1543" stop-color="#f9d66c"/><stop offset=".1743" stop-color="#f7e471"/><stop offset=".2529" stop-color="#f5e975"/><stop offset=".2643" stop-color="#f7e672"/><stop offset=".2786" stop-color="#f9d86d"/><stop offset=".2971" stop-color="#f6b168"/><stop offset=".3029" stop-color="#f4a26c"/><stop offset=".31" stop-color="#f18c77"/><stop offset=".3214" stop-color="#ed6a99"/><stop offset=".3229" stop-color="#eb679d"/><stop offset=".3257" stop-color="#e062a0"/><stop offset=".3314" stop-color="#b9569b"/><stop offset=".3357" stop-color="#a55399"/><stop offset=".3429" stop-color="#93539a"/><stop offset=".35" stop-color="#89549a"/><stop offset=".3929" stop-color="#635896"/><stop offset=".43" stop-color="#57548c"/><stop offset=".4971" stop-color="#525085"/><stop offset=".5371" stop-color="#5c5691"/><stop offset=".5457" stop-color="#635896"/><stop offset=".5529" stop-color="#705799"/><stop offset=".5586" stop-color="#80559a"/><stop offset=".5643" stop-color="#9c5299"/><stop offset=".5657" stop-color="#a9539a"/><stop offset=".5671" stop-color="#bd579c"/><stop offset=".5686" stop-color="#da609f"/><stop offset=".57" stop-color="#ec689c"/><stop offset=".5714" stop-color="#ee718f"/><stop offset=".5743" stop-color="#f18d77"/><stop offset=".5757" stop-color="#f39b70"/><stop offset=".5786" stop-color="#f6af69"/><stop offset=".58" stop-color="#f6b568"/><stop offset=".5829" stop-color="#f6b468"/><stop offset=".5857" stop-color="#f4a56c"/><stop offset=".5871" stop-color="#f39871"/><stop offset=".5886" stop-color="#f18a79"/><stop offset=".5914" stop-color="#ee6d93"/><stop offset=".5929" stop-color="#e8659e"/><stop offset=".5957" stop-color="#af549a"/><stop offset=".5971" stop-color="#9d5299"/><stop offset=".6" stop-color="#8b549a"/><stop offset=".6057" stop-color="#75579a"/><stop offset=".61" stop-color="#6c5798"/><stop offset=".6186" stop-color="#635896"/><stop offset=".6429" stop-color="#56538b"/><stop offset=".6943" stop-color="#4e4d80"/><stop offset=".75" stop-color="#56548c"/><stop offset=".7714" stop-color="#695898"/><stop offset=".7814" stop-color="#7e569a"/><stop offset=".79" stop-color="#99539a"/><stop offset=".7914" stop-color="#a05299"/><stop offset=".7943" stop-color="#b4559b"/><stop offset=".7986" stop-color="#e363a0"/><stop offset=".8" stop-color="#ea679d"/><stop offset=".8029" stop-color="#ee6e92"/><stop offset=".8086" stop-color="#f0867b"/><stop offset=".8129" stop-color="#f29572"/><stop offset=".8186" stop-color="#f4a26c"/><stop offset=".8329" stop-color="#f8c068"/><stop offset=".8414" stop-color="#f9d76c"/><stop offset=".8457" stop-color="#f8db6e"/><stop offset=".8557" stop-color="#f9d46c"/><stop offset=".8757" stop-color="#f6b168"/><stop offset=".8886" stop-color="#f29373"/><stop offset=".9029" stop-color="#ef7987"/><stop offset=".9214" stop-color="#ed6b97"/><stop offset=".9329" stop-color="#ed6b97"/><stop offset=".9414" stop-color="#ee6f91"/><stop offset=".95" stop-color="#ef7987"/><stop offset=".9571" stop-color="#f0857b"/><stop offset=".9671" stop-color="#f29672"/><stop offset=".9829" stop-color="#f5ab6a"/><stop offset="1" stop-color="#f6b468"/></linearGradient>
<linearGradient id="h11" x1="0" y1="0" x2="0" y2="1"><stop offset="0" stop-color="#f4a26d"/><stop offset=".0457" stop-color="#f29373"/><stop offset=".0714" stop-color="#f29672"/><stop offset=".1229" stop-color="#f5ae69"/><stop offset=".1414" stop-color="#f8c068"/><stop offset=".1571" stop-color="#f9d56c"/><stop offset=".1743" stop-color="#f8e070"/><stop offset=".2114" stop-color="#f6e773"/><stop offset=".25" stop-color="#f6e874"/><stop offset=".2586" stop-color="#f7e672"/><stop offset=".2743" stop-color="#f9d76c"/><stop offset=".2943" stop-color="#f6b168"/><stop offset=".3014" stop-color="#f4a06d"/><stop offset=".31" stop-color="#f0877a"/><stop offset=".3171" stop-color="#ee718f"/><stop offset=".3214" stop-color="#ec689c"/><stop offset=".3243" stop-color="#e262a0"/><stop offset=".33" stop-color="#ba579b"/><stop offset=".3343" stop-color="#a65399"/><stop offset=".3414" stop-color="#94539a"/><stop offset=".3486" stop-color="#89549a"/><stop offset=".3914" stop-color="#635896"/><stop offset=".43" stop-color="#57548c"/><stop offset=".4971" stop-color="#525085"/><stop offset=".5371" stop-color="#5b5690"/><stop offset=".5457" stop-color="#635896"/><stop offset=".5529" stop-color="#6e5799"/><stop offset=".5586" stop-color="#7d569a"/><stop offset=".5643" stop-color="#99539a"/><stop offset=".5657" stop-color="#a35299"/><stop offset=".5671" stop-color="#b6569b"/><stop offset=".57" stop-color="#e9669e"/><stop offset=".5714" stop-color="#ee6d93"/><stop offset=".5743" stop-color="#f1887a"/><stop offset=".5757" stop-color="#f29572"/><stop offset=".5786" stop-color="#f5aa6a"/><stop offset=".58" stop-color="#f6af69"/><stop offset=".5829" stop-color="#f6af69"/><stop offset=".5843" stop-color="#f5a96a"/><stop offset=".5871" stop-color="#f29373"/><stop offset=".5886" stop-color="#f0857b"/><stop offset=".5914" stop-color="#ed6b96"/><stop offset=".5929" stop-color="#e564a0"/><stop offset=".5943" stop-color="#c4599d"/><stop offset=".5957" stop-color="#aa539a"/><stop offset=".5971" stop-color="#9a5299"/><stop offset=".6" stop-color="#89549a"/><stop offset=".6057" stop-color="#74579a"/><stop offset=".61" stop-color="#6a5898"/><stop offset=".6429" stop-color="#56538b"/><stop offset=".6943" stop-color="#4e4d80"/><stop offset=".75" stop-color="#56538b"/><stop offset=".7714" stop-color="#685897"/><stop offset=".7814" stop-color="#7c569a"/><stop offset=".79" stop-color="#96539a"/><stop offset=".7929" stop-color="#a35299"/><stop offset=".7943" stop-color="#ae549a"/><stop offset=".8" stop-color="#e6649f"/><stop offset=".8014" stop-color="#ec689c"/><stop offset=".8043" stop-color="#ee6f91"/><stop offset=".81" stop-color="#f0867b"/><stop offset=".8186" stop-color="#f39c6f"/><stop offset=".83" stop-color="#f6b368"/><stop offset=".8414" stop-color="#f9d36b"/><stop offset=".8457" stop-color="#f9d86d"/><stop offset=".8514" stop-color="#f9d66c"/><stop offset=".8571" stop-color="#f9cf6b"/><stop offset=".8729" stop-color="#f6b468"/><stop offset=".88" stop-color="#f4a46c"/><stop offset=".8943" stop-color="#f0857c"/><stop offset=".9014" stop-color="#ef7888"/><stop offset=".91" stop-color="#ee6f91"/><stop offset=".9214" stop-color="#ec699a"/><stop offset=".9329" stop-color="#ed6a99"/><stop offset=".9429" stop-color="#ee6e92"/><stop offset=".9514" stop-color="#ef7987"/><stop offset=".9586" stop-color="#f0857c"/><stop offset=".9671" stop-color="#f29373"/><stop offset=".9829" stop-color="#f5a96a"/><stop offset="1" stop-color="#f6b168"/></linearGradient>
<linearGradient id="h12" x1="0" y1="0" x2="0" y2="1"><stop offset="0" stop-color="#f39d6f"/><stop offset=".0457" stop-color="#f18f75"/><stop offset=".0729" stop-color="#f29274"/><stop offset=".1243" stop-color="#f5ab6a"/><stop offset=".14" stop-color="#f7ba68"/><stop offset=".1571" stop-color="#f9d06b"/><stop offset=".1743" stop-color="#f8dc6e"/><stop offset=".2171" stop-color="#f7e672"/><stop offset=".2486" stop-color="#f7e773"/><stop offset=".2571" stop-color="#f7e371"/><stop offset=".27" stop-color="#f9d66c"/><stop offset=".2829" stop-color="#f8c168"/><stop offset=".2957" stop-color="#f5a86b"/><stop offset=".3086" stop-color="#f0867b"/><stop offset=".3157" stop-color="#ee718f"/><stop offset=".32" stop-color="#ec699b"/><stop offset=".3229" stop-color="#e463a0"/><stop offset=".3286" stop-color="#bb579b"/><stop offset=".3343" stop-color="#a15299"/><stop offset=".3414" stop-color="#91539a"/><stop offset=".3486" stop-color="#87549a"/><stop offset=".39" stop-color="#635896"/><stop offset=".4286" stop-color="#56548c"/><stop offset=".4971" stop-color="#515085"/><stop offset=".5371" stop-color="#5b5690"/><stop offset=".5457" stop-color="#625895"/><stop offset=".5543" stop-color="#6f5799"/><stop offset=".5614" stop-color="#87549a"/><stop offset=".5657" stop-color="#9f5299"/><stop offset=".5671" stop-color="#b0559a"/><stop offset=".57" stop-color="#e6649f"/><stop offset=".5714" stop-color="#ed6b96"/><stop offset=".5743" stop-color="#f0837d"/><stop offset=".5786" stop-color="#f4a56c"/><stop offset=".58" stop-color="#f5aa6a"/><stop offset=".5829" stop-color="#f5a96a"/><stop offset=".5843" stop-color="#f4a46c"/><stop offset=".5871" stop-color="#f18e76"/><stop offset=".59" stop-color="#ef738d"/><stop offset=".5914" stop-color="#ed6a99"/><stop offset=".5929" stop-color="#de619f"/><stop offset=".5943" stop-color="#bc579c"/><stop offset=".5957" stop-color="#a55299"/><stop offset=".5971" stop-color="#97539a"/><stop offset=".6" stop-color="#87549a"/><stop offset=".6057" stop-color="#72579a"/><stop offset=".61" stop-color="#695898"/><stop offset=".6429" stop-color="#55538a"/><stop offset=".6943" stop-color="#4e4d80"/><stop offset=".75" stop-color="#56538b"/><stop offset=".7729" stop-color="#695898"/><stop offset=".7814" stop-color="#7a569a"/><stop offset=".79" stop-color="#93539a"/><stop offset=".7943" stop-color="#a8539a"/><stop offset=".7971" stop-color="#c1589c"/><stop offset=".8" stop-color="#e062a0"/><stop offset=".8029" stop-color="#ec699a"/><stop offset=".8057" stop-color="#ee718f"/><stop offset=".8114" stop-color="#f0857b"/><stop offset=".8186" stop-color="#f29572"/><stop offset=".8329" stop-color="#f6b468"/><stop offset=".8414" stop-color="#f9cf6b"/><stop offset=".8457" stop-color="#f9d56c"/><stop offset=".8557" stop-color="#f9ce6a"/><stop offset=".8714" stop-color="#f6b468"/><stop offset=".8786" stop-color="#f4a46c"/><stop offset=".8929" stop-color="#f0847c"/><stop offset=".9" stop-color="#ef7789"/><stop offset=".9086" stop-color="#ee6e92"/><stop offset=".9214" stop-color="#ec689c"/><stop offset=".9343" stop-color="#ec689b"/><stop offset=".9443" stop-color="#ee6e93"/><stop offset=".96" stop-color="#f0847c"/><stop offset=".97" stop-color="#f29572"/><stop offset=".9843" stop-color="#f5a86b"/><stop offset="1" stop-color="#f6af69"/></linearGradient>
<linearGradient id="h13" x1="0" y1="0" x2="0" y2="1"><stop offset="0" stop-color="#f39871"/><stop offset=".0457" stop-color="#f18b78"/><stop offset=".0743" stop-color="#f18e76"/><stop offset=".1243" stop-color="#f4a66b"/><stop offset=".15" stop-color="#f8c168"/><stop offset=".1729" stop-color="#f9d86d"/><stop offset=".2443" stop-color="#f7e572"/><stop offset=".2543" stop-color="#f8e170"/><stop offset=".2643" stop-color="#f9d76c"/><stop offset=".2786" stop-color="#f8c068"/><stop offset=".2943" stop-color="#f4a56c"/><stop offset=".3071" stop-color="#f0857b"/><stop offset=".3143" stop-color="#ee718f"/><stop offset=".3186" stop-color="#ec699b"/><stop offset=".3214" stop-color="#e564a0"/><stop offset=".3271" stop-color="#bc579c"/><stop offset=".3329" stop-color="#a25299"/><stop offset=".34" stop-color="#91539a"/><stop offset=".3486" stop-color="#85559a"/><stop offset=".3886" stop-color="#635896"/><stop offset=".4286" stop-color="#56548b"/><stop offset=".4971" stop-color="#515085"/><stop offset=".5371" stop-color="#5a5690"/><stop offset=".5471" stop-color="#635896"/><stop offset=".5543" stop-color="#6e5799"/><stop offset=".56" stop-color="#7f559a"/><stop offset=".5657" stop-color="#9c5299"/><stop offset=".5671" stop-color="#aa539a"/><stop offset=".5686" stop-color="#c0589c"/><stop offset=".57" stop-color="#df61a0"/><stop offset=".5714" stop-color="#ec699a"/><stop offset=".5729" stop-color="#ee728e"/><stop offset=".5757" stop-color="#f18b78"/><stop offset=".5786" stop-color="#f49f6e"/><stop offset=".58" stop-color="#f4a56c"/><stop offset=".5829" stop-color="#f4a46c"/><stop offset=".5843" stop-color="#f39e6e"/><stop offset=".5871" stop-color="#f18a79"/><stop offset=".59" stop-color="#ee7090"/><stop offset=".5914" stop-color="#eb689c"/><stop offset=".5929" stop-color="#d65e9f"/><stop offset=".5943" stop-color="#b6569b"/><stop offset=".5957" stop-color="#a15299"/><stop offset=".5986" stop-color="#8c549a"/><stop offset=".6043" stop-color="#75579a"/><stop offset=".61" stop-color="#685897"/><stop offset=".6429" stop-color="#55538a"/><stop offset=".6943" stop-color="#4e4d80"/><stop offset=".75" stop-color="#55538a"/><stop offset=".7729" stop-color="#685897"/><stop offset=".7829" stop-color="#7b569a"/><stop offset=".7914" stop-color="#96539a"/><stop offset=".7943" stop-color="#a25299"/><stop offset=".7971" stop-color="#b8569b"/><stop offset=".8014" stop-color="#e563a0"/><stop offset=".8029" stop-color="#ea679d"/><stop offset=".8057" stop-color="#ee6d93"/><stop offset=".8129" stop-color="#f0847c"/><stop offset=".82" stop-color="#f29274"/><stop offset=".8343" stop-color="#f6b368"/><stop offset=".8429" stop-color="#f9ce6a"/><stop offset=".8471" stop-color="#f9d26b"/><stop offset=".8557" stop-color="#f8ca6a"/><stop offset=".87" stop-color="#f6b368"/><stop offset=".8771" stop-color="#f4a46c"/><stop offset=".8914" stop-color="#f0847c"/><stop offset=".9" stop-color="#ef758b"/><stop offset=".9057" stop-color="#ee6e92"/><stop offset=".9229" stop-color="#e9669d"/><stop offset=".9371" stop-color="#ec689c"/><stop offset=".9471" stop-color="#ee6e92"/><stop offset=".9614" stop-color="#f0837d"/><stop offset=".9714" stop-color="#f29473"/><stop offset=".9843" stop-color="#f4a56b"/><stop offset="1" stop-color="#f5ad69"/></linearGradient>
<linearGradient id="h14" x1="0" y1="0" x2="0" y2="1"><stop offset="0" stop-color="#f29473"/><stop offset=".0457" stop-color="#f0867b"/><stop offset=".0743" stop-color="#f18a79"/><stop offset=".1229" stop-color="#f4a06d"/><stop offset=".1429" stop-color="#f6b368"/><stop offset=".1571" stop-color="#f8c569"/><stop offset=".1743" stop-color="#f9d46c"/><stop offset=".2443" stop-color="#f7e271"/><stop offset=".26" stop-color="#f9d76c"/><stop offset=".2729" stop-color="#f8c168"/><stop offset=".2914" stop-color="#f4a46c"/><stop offset=".3057" stop-color="#f0837d"/><stop offset=".3171" stop-color="#ec699b"/><stop offset=".32" stop-color="#e5649f"/><stop offset=".3257" stop-color="#bc579c"/><stop offset=".3314" stop-color="#a25299"/><stop offset=".3386" stop-color="#91539a"/><stop offset=".3471" stop-color="#84559a"/><stop offset=".3871" stop-color="#635896"/><stop offset=".4286" stop-color="#56538b"/><stop offset=".4971" stop-color="#515085"/><stop offset=".5371" stop-color="#5a558f"/><stop offset=".5471" stop-color="#625895"/><stop offset=".5543" stop-color="#6c5798"/><stop offset=".56" stop-color="#7d569a"/><stop offset=".5657" stop-color="#99539a"/><stop offset=".5671" stop-color="#a45299"/><stop offset=".5686" stop-color="#b8569b"/><stop offset=".57" stop-color="#d55e9f"/><stop offset=".5714" stop-color="#eb679d"/><stop offset=".5729" stop-color="#ee6e92"/><stop offset=".5757" stop-color="#f0867b"/><stop offset=".5771" stop-color="#f29174"/><stop offset=".58" stop-color="#f49f6e"/><stop offset=".5829" stop-color="#f39f6e"/><stop offset=".5843" stop-color="#f39970"/><stop offset=".5871" stop-color="#f0857b"/><stop offset=".59" stop-color="#ee6d94"/><stop offset=".5914" stop-color="#e8669e"/><stop offset=".5943" stop-color="#b0559a"/><stop offset=".5957" stop-color="#9d5299"/><stop offset=".5971" stop-color="#92539a"/><stop offset=".6" stop-color="#83559a"/><stop offset=".6043" stop-color="#73579a"/><stop offset=".61" stop-color="#675897"/><stop offset=".6429" stop-color="#55538a"/><stop offset=".6943" stop-color="#4e4d80"/><stop offset=".75" stop-color="#55538a"/><stop offset=".7729" stop-color="#665897"/><stop offset=".7829" stop-color="#79569a"/><stop offset=".7914" stop-color="#93539a"/><stop offset=".7957" stop-color="#a75399"/><stop offset=".7986" stop-color="#be589c"/><stop offset=".8029" stop-color="#e6649f"/><stop offset=".8043" stop-color="#ec689c"/><stop offset=".8071" stop-color="#ee6e93"/><stop offset=".8157" stop-color="#f0847c"/><stop offset=".83" stop-color="#f4a26d"/><stop offset=".8357" stop-color="#f6b368"/><stop offset=".8429" stop-color="#f8ca6a"/><stop offset=".8471" stop-color="#f9cf6b"/><stop offset=".8543" stop-color="#f8c969"/><stop offset=".8686" stop-color="#f6b368"/><stop offset=".8757" stop-color="#f4a46c"/><stop offset=".89" stop-color="#f0847c"/><stop offset=".8986" stop-color="#ef748c"/><stop offset=".9143" stop-color="#ec689c"/><stop offset=".9229" stop-color="#e7659f"/><stop offset=".9329" stop-color="#e7659e"/><stop offset=".94" stop-color="#ec689c"/><stop offset=".9486" stop-color="#ee6e93"/><stop offset=".9643" stop-color="#f0857b"/><stop offset=".9729" stop-color="#f29373"/><stop offset=".9843" stop-color="#f4a36c"/><stop offset="1" stop-color="#f5aa6a"/></linearGradient>
<linearGradient id="h15" x1="0" y1="0" x2="0" y2="1"><stop offset="0" stop-color="#f18f76"/><stop offset=".0471" stop-color="#f0817f"/><stop offset=".0757" stop-color="#f0857b"/><stop offset=".1229" stop-color="#f39b70"/><stop offset=".1457" stop-color="#f6b268"/><stop offset=".1557" stop-color="#f8bf68"/><stop offset=".1743" stop-color="#f9ce6a"/><stop offset=".2429" stop-color="#f8df6f"/><stop offset=".2571" stop-color="#f9d66c"/><stop offset=".2786" stop-color="#f6b268"/><stop offset=".2886" stop-color="#f4a26c"/><stop offset=".3029" stop-color="#f0847c"/><stop offset=".3114" stop-color="#ee6f91"/><stop offset=".3157" stop-color="#ec689b"/><stop offset=".3186" stop-color="#e5649f"/><stop offset=".3243" stop-color="#bc579c"/><stop offset=".33" stop-color="#a15299"/><stop offset=".3386" stop-color="#8e539a"/><stop offset=".3486" stop-color="#80559a"/><stop offset=".3857" stop-color="#625895"/><stop offset=".4286" stop-color="#56538b"/><stop offset=".4971" stop-color="#514f84"/><stop offset=".5371" stop-color="#59558f"/><stop offset=".5543" stop-color="#6b5798"/><stop offset=".5614" stop-color="#80559a"/><stop offset=".5643" stop-color="#8d549a"/><stop offset=".5671" stop-color="#a05299"/><stop offset=".5686" stop-color="#b1559a"/><stop offset=".5714" stop-color="#e7659f"/><stop offset=".5729" stop-color="#ed6c96"/><stop offset=".5757" stop-color="#f0817f"/><stop offset=".5771" stop-color="#f18c77"/><stop offset=".58" stop-color="#f39a70"/><stop offset=".5829" stop-color="#f39970"/><stop offset=".5857" stop-color="#f18b78"/><stop offset=".59" stop-color="#ed6b97"/><stop offset=".5914" stop-color="#e563a0"/><stop offset=".5929" stop-color="#c5599d"/><stop offset=".5943" stop-color="#aa539a"/><stop offset=".5957" stop-color="#9a5299"/><stop offset=".5971" stop-color="#8f539a"/><stop offset=".6" stop-color="#80559a"/><stop offset=".6043" stop-color="#71579a"/><stop offset=".61" stop-color="#655897"/><stop offset=".6429" stop-color="#555289"/><stop offset=".6943" stop-color="#4e4d80"/><stop offset=".75" stop-color="#55538a"/><stop offset=".7729" stop-color="#655897"/><stop offset=".7829" stop-color="#77569a"/><stop offset=".7929" stop-color="#95539a"/><stop offset=".7971" stop-color="#aa549a"/><stop offset=".8" stop-color="#c2599c"/><stop offset=".8029" stop-color="#de619f"/><stop offset=".8043" stop-color="#e7659e"/><stop offset=".8057" stop-color="#ec689c"/><stop offset=".8086" stop-color="#ee6e93"/><stop offset=".8186" stop-color="#f0837d"/><stop offset=".8271" stop-color="#f29373"/><stop offset=".8329" stop-color="#f4a46c"/><stop offset=".8429" stop-color="#f8c669"/><stop offset=".8471" stop-color="#f8cb6a"/><stop offset=".8543" stop-color="#f8c669"/><stop offset=".8671" stop-color="#f6b268"/><stop offset=".8743" stop-color="#f4a46c"/><stop offset=".8871" stop-color="#f0877a"/><stop offset=".8986" stop-color="#ee718f"/><stop offset=".9114" stop-color="#ec689c"/><stop offset=".9229" stop-color="#e463a0"/><stop offset=".9286" stop-color="#e363a0"/><stop offset=".9414" stop-color="#eb679d"/><stop offset=".9514" stop-color="#ee6e92"/><stop offset=".9657" stop-color="#f0847c"/><stop offset=".9743" stop-color="#f29373"/><stop offset=".9857" stop-color="#f4a16d"/><stop offset="1" stop-color="#f5a86b"/></linearGradient>
<linearGradient id="h16" x1="0" y1="0" x2="0" y2="1"><stop offset="0" stop-color="#f18979"/><stop offset=".0471" stop-color="#ef7c84"/><stop offset=".0757" stop-color="#f08080"/><stop offset=".1229" stop-color="#f29572"/><stop offset=".1486" stop-color="#f6b168"/><stop offset=".1743" stop-color="#f8c869"/><stop offset=".2429" stop-color="#f8db6e"/><stop offset=".2543" stop-color="#f9d46c"/><stop offset=".2729" stop-color="#f6b368"/><stop offset=".2843" stop-color="#f4a26c"/><stop offset=".3" stop-color="#f0847c"/><stop offset=".3143" stop-color="#eb689c"/><stop offset=".3171" stop-color="#e463a0"/><stop offset=".3229" stop-color="#bb579b"/><stop offset=".3271" stop-color="#a65399"/><stop offset=".3357" stop-color="#90539a"/><stop offset=".3457" stop-color="#80559a"/><stop offset=".3829" stop-color="#635896"/><stop offset=".4286" stop-color="#55538a"/><stop offset=".4971" stop-color="#514f84"/><stop offset=".5371" stop-color="#59558e"/><stop offset=".5543" stop-color="#695898"/><stop offset=".5614" stop-color="#7d569a"/><stop offset=".5671" stop-color="#9c5299"/><stop offset=".5686" stop-color="#aa539a"/><stop offset=".57" stop-color="#c1599c"/><stop offset=".5714" stop-color="#e062a0"/><stop offset=".5729" stop-color="#ec699a"/><stop offset=".5771" stop-color="#f0867b"/><stop offset=".58" stop-color="#f29373"/><stop offset=".5829" stop-color="#f29373"/><stop offset=".5857" stop-color="#f0867b"/><stop offset=".59" stop-color="#ec699b"/><stop offset=".5914" stop-color="#dc609f"/><stop offset=".5929" stop-color="#bb579b"/><stop offset=".5943" stop-color="#a45299"/><stop offset=".5971" stop-color="#8d549a"/><stop offset=".6" stop-color="#7e559a"/><stop offset=".6043" stop-color="#705799"/><stop offset=".61" stop-color="#645896"/><stop offset=".6429" stop-color="#545289"/><stop offset=".6943" stop-color="#4e4d80"/><stop offset=".75" stop-color="#555289"/><stop offset=".7743" stop-color="#665897"/><stop offset=".7843" stop-color="#78569a"/><stop offset=".7943" stop-color="#97539a"/><stop offset=".7971" stop-color="#a35299"/><stop offset=".8" stop-color="#b7569b"/><stop offset=".8043" stop-color="#e062a0"/><stop offset=".8071" stop-color="#ec689c"/><stop offset=".8086" stop-color="#ed6b98"/><stop offset=".8143" stop-color="#ef758b"/><stop offset=".8257" stop-color="#f18a79"/><stop offset=".8343" stop-color="#f4a36c"/><stop offset=".8414" stop-color="#f8be68"/><stop offset=".8471" stop-color="#f8c869"/><stop offset=".8557" stop-color="#f8c068"/><stop offset=".8729" stop-color="#f4a46c"/><stop offset=".8857" stop-color="#f0867b"/><stop offset=".8986" stop-color="#ee6e92"/><stop offset=".9086" stop-color="#eb689c"/><stop offset=".9243" stop-color="#dc609f"/><stop offset=".9314" stop-color="#dd619f"/><stop offset=".94" stop-color="#e6659f"/><stop offset=".9529" stop-color="#ee6e93"/><stop offset=".9671" stop-color="#f0847c"/><stop offset=".9757" stop-color="#f29274"/><stop offset=".9871" stop-color="#f49f6e"/><stop offset="1" stop-color="#f4a56c"/></linearGradient>
<linearGradient id="h17" x1="0" y1="0" x2="0" y2="1"><stop offset="0" stop-color="#f0847c"/><stop offset=".0457" stop-color="#ef7789"/><stop offset=".0771" stop-color="#ef7b85"/><stop offset=".1243" stop-color="#f29075"/><stop offset=".1529" stop-color="#f6b268"/><stop offset=".1771" stop-color="#f8c368"/><stop offset=".2429" stop-color="#f9d76d"/><stop offset=".2529" stop-color="#f9d06b"/><stop offset=".2686" stop-color="#f6b368"/><stop offset=".28" stop-color="#f4a16d"/><stop offset=".2957" stop-color="#f0857b"/><stop offset=".3114" stop-color="#ec699b"/><stop offset=".3157" stop-color="#e162a0"/><stop offset=".3214" stop-color="#b9569b"/><stop offset=".3257" stop-color="#a45299"/><stop offset=".3343" stop-color="#8f539a"/><stop offset=".3457" stop-color="#7d569a"/><stop offset=".38" stop-color="#635896"/><stop offset=".4286" stop-color="#555289"/><stop offset=".4971" stop-color="#514f84"/><stop offset=".5386" stop-color="#59558e"/><stop offset=".5557" stop-color="#6a5898"/><stop offset=".5614" stop-color="#7b569a"/><stop offset=".5671" stop-color="#98539a"/><stop offset=".5686" stop-color="#a35299"/><stop offset=".57" stop-color="#b7569b"/><stop offset=".5714" stop-color="#d55e9f"/><stop offset=".5729" stop-color="#ea679d"/><stop offset=".5771" stop-color="#f0817f"/><stop offset=".5786" stop-color="#f18979"/><stop offset=".58" stop-color="#f18e76"/><stop offset=".5829" stop-color="#f18d76"/><stop offset=".5857" stop-color="#f08080"/><stop offset=".59" stop-color="#e9669d"/><stop offset=".5914" stop-color="#d25d9e"/><stop offset=".5929" stop-color="#b4559b"/><stop offset=".5943" stop-color="#9f5299"/><stop offset=".5971" stop-color="#8a549a"/><stop offset=".6" stop-color="#7c569a"/><stop offset=".6086" stop-color="#655896"/><stop offset=".6429" stop-color="#545288"/><stop offset=".6943" stop-color="#4e4d80"/><stop offset=".75" stop-color="#545289"/><stop offset=".7743" stop-color="#645896"/><stop offset=".7843" stop-color="#76579a"/><stop offset=".7943" stop-color="#93539a"/><stop offset=".7971" stop-color="#9e5299"/><stop offset=".8" stop-color="#af549a"/><stop offset=".8057" stop-color="#e062a0"/><stop offset=".8086" stop-color="#ec689c"/><stop offset=".81" stop-color="#ed6a99"/><stop offset=".8271" stop-color="#f0867b"/><stop offset=".8357" stop-color="#f4a46c"/><stop offset=".8414" stop-color="#f7ba68"/><stop offset=".8471" stop-color="#f8c468"/><stop offset=".8557" stop-color="#f7be68"/><stop offset=".8714" stop-color="#f4a46c"/><stop offset=".8843" stop-color="#f0867b"/><stop offset=".8957" stop-color="#ee6f91"/><stop offset=".9057" stop-color="#eb689c"/><stop offset=".9143" stop-color="#e463a0"/><stop offset=".9243" stop-color="#d45e9f"/><stop offset=".9329" stop-color="#d75f9f"/><stop offset=".94" stop-color="#e363a0"/><stop offset=".9486" stop-color="#ec699b"/><stop offset=".9614" stop-color="#ef7789"/><stop offset=".97" stop-color="#f0857b"/><stop offset=".9771" stop-color="#f29174"/><stop offset=".9871" stop-color="#f39c6f"/><stop offset="1" stop-color="#f4a26c"/></linearGradient>
<linearGradient id="h18" x1="0" y1="0" x2="0" y2="1"><stop offset="0" stop-color="#f07f81"/><stop offset=".0471" stop-color="#ee738d"/><stop offset=".0829" stop-color="#ef7888"/><stop offset=".1257" stop-color="#f18c77"/><stop offset=".1586" stop-color="#f6b268"/><stop offset=".1757" stop-color="#f7bd68"/><stop offset=".2429" stop-color="#f9d36b"/><stop offset=".2529" stop-color="#f8cb6a"/><stop offset=".2657" stop-color="#f6b268"/><stop offset=".2814" stop-color="#f29771"/><stop offset=".2929" stop-color="#f0837d"/><stop offset=".3086" stop-color="#ec699a"/><stop offset=".3129" stop-color="#e463a0"/><stop offset=".32" stop-color="#b7569b"/><stop offset=".3243" stop-color="#a25299"/><stop offset=".3314" stop-color="#91539a"/><stop offset=".3457" stop-color="#7a569a"/><stop offset=".3786" stop-color="#625896"/><stop offset=".4271" stop-color="#555289"/><stop offset=".4971" stop-color="#514f84"/><stop offset=".5386" stop-color="#58558e"/><stop offset=".5557" stop-color="#685897"/><stop offset=".5614" stop-color="#78569a"/><stop offset=".5671" stop-color="#94539a"/><stop offset=".5686" stop-color="#9e5299"/><stop offset=".57" stop-color="#b0549a"/><stop offset=".5729" stop-color="#e6649f"/><stop offset=".5743" stop-color="#ed6b98"/><stop offset=".5786" stop-color="#f0837d"/><stop offset=".58" stop-color="#f1887a"/><stop offset=".5829" stop-color="#f0887a"/><stop offset=".5843" stop-color="#f0837d"/><stop offset=".5886" stop-color="#ed6a98"/><stop offset=".59" stop-color="#e5649f"/><stop offset=".5929" stop-color="#ad549a"/><stop offset=".5943" stop-color="#9c5299"/><stop offset=".5957" stop-color="#90539a"/><stop offset=".5986" stop-color="#80559a"/><stop offset=".6029" stop-color="#705799"/><stop offset=".6086" stop-color="#635896"/><stop offset=".6429" stop-color="#545288"/><stop offset=".6943" stop-color="#4e4d80"/><stop offset=".75" stop-color="#545288"/><stop offset=".7757" stop-color="#655896"/><stop offset=".7857" stop-color="#76569a"/><stop offset=".7957" stop-color="#94539a"/><stop offset=".7986" stop-color="#9f5299"/><stop offset=".8014" stop-color="#b0559a"/><stop offset=".8071" stop-color="#df61a0"/><stop offset=".8086" stop-color="#e6649f"/><stop offset=".8114" stop-color="#ec699b"/><stop offset=".8229" stop-color="#ef7789"/><stop offset=".8271" stop-color="#f08080"/><stop offset=".8329" stop-color="#f29274"/><stop offset=".8414" stop-color="#f7b768"/><stop offset=".8471" stop-color="#f8c068"/><stop offset=".8543" stop-color="#f7bd68"/><stop offset=".87" stop-color="#f4a36c"/><stop offset=".8829" stop-color="#f0867b"/><stop offset=".8943" stop-color="#ee6f91"/><stop offset=".9014" stop-color="#ec699b"/><stop offset=".91" stop-color="#e563a0"/><stop offset=".9229" stop-color="#ce5c9e"/><stop offset=".9329" stop-color="#cf5c9e"/><stop offset=".9429" stop-color="#e363a0"/><stop offset=".95" stop-color="#ec689c"/><stop offset=".9614" stop-color="#ef748c"/><stop offset=".9771" stop-color="#f18f76"/><stop offset=".9886" stop-color="#f39b70"/><stop offset="1" stop-color="#f49f6e"/></linearGradient>
<linearGradient id="h19" x1="0" y1="0" x2="0" y2="1"><stop offset="0" stop-color="#ef7987"/><stop offset=".0486" stop-color="#ee6e92"/><stop offset=".0986" stop-color="#ef7888"/><stop offset=".1286" stop-color="#f18979"/><stop offset=".1571" stop-color="#f5ac6a"/><stop offset=".1757" stop-color="#f7b868"/><stop offset=".2429" stop-color="#f9ce6a"/><stop offset=".2529" stop-color="#f8c569"/><stop offset=".2629" stop-color="#f6b168"/><stop offset=".2786" stop-color="#f29373"/><stop offset=".2871" stop-color="#f0857b"/><stop offset=".3071" stop-color="#eb679d"/><stop offset=".31" stop-color="#e564a0"/><stop offset=".3171" stop-color="#bc579b"/><stop offset=".3229" stop-color="#a15299"/><stop offset=".33" stop-color="#90539a"/><stop offset=".3443" stop-color="#79569a"/><stop offset=".3743" stop-color="#635896"/><stop offset=".4271" stop-color="#545289"/><stop offset=".4971" stop-color="#514f84"/><stop offset=".5386" stop-color="#57558d"/><stop offset=".5557" stop-color="#665897"/><stop offset=".5629" stop-color="#7b569a"/><stop offset=".5686" stop-color="#9a5299"/><stop offset=".57" stop-color="#a8539a"/><stop offset=".5714" stop-color="#bf589c"/><stop offset=".5729" stop-color="#dc619f"/><stop offset=".5743" stop-color="#ec689c"/><stop offset=".5786" stop-color="#ef7d83"/><stop offset=".58" stop-color="#f0827e"/><stop offset=".5829" stop-color="#f0827e"/><stop offset=".5857" stop-color="#ef768a"/><stop offset=".5886" stop-color="#ec689c"/><stop offset=".59" stop-color="#dc609f"/><stop offset=".5914" stop-color="#bd579c"/><stop offset=".5929" stop-color="#a65399"/><stop offset=".5957" stop-color="#8d549a"/><stop offset=".5986" stop-color="#7d569a"/><stop offset=".6029" stop-color="#6e5799"/><stop offset=".6086" stop-color="#625895"/><stop offset=".6429" stop-color="#535188"/><stop offset=".6943" stop-color="#4e4d80"/><stop offset=".75" stop-color="#545288"/><stop offset=".7757" stop-color="#635896"/><stop offset=".7857" stop-color="#74579a"/><stop offset=".7957" stop-color="#90539a"/><stop offset=".8014" stop-color="#a75399"/><stop offset=".81" stop-color="#e563a0"/><stop offset=".8143" stop-color="#ec699b"/><stop offset=".8214" stop-color="#ee6f91"/><stop offset=".8271" stop-color="#ef7987"/><stop offset=".8329" stop-color="#f18c77"/><stop offset=".8386" stop-color="#f5a76b"/><stop offset=".8429" stop-color="#f7b768"/><stop offset=".8471" stop-color="#f7bd68"/><stop offset=".8557" stop-color="#f7b868"/><stop offset=".8714" stop-color="#f39c6f"/><stop offset=".8814" stop-color="#f0867b"/><stop offset=".89" stop-color="#ef738d"/><stop offset=".9" stop-color="#ec689c"/><stop offset=".9071" stop-color="#e463a0"/><stop offset=".9186" stop-color="#cd5c9e"/><stop offset=".9243" stop-color="#c55a9d"/><stop offset=".9343" stop-color="#c95b9d"/><stop offset=".94" stop-color="#d45e9f"/><stop offset=".9457" stop-color="#e363a0"/><stop offset=".9529" stop-color="#ec699b"/><stop offset=".9629" stop-color="#ee738d"/><stop offset=".9771" stop-color="#f18c77"/><stop offset=".9886" stop-color="#f39871"/><stop offset="1" stop-color="#f39c6f"/></linearGradient>
<linearGradient id="h20" x1="0" y1="0" x2="0" y2="1"><stop offset="0" stop-color="#ef748c"/><stop offset=".02" stop-color="#ee6e92"/><stop offset=".05" stop-color="#ed6b97"/><stop offset=".08" stop-color="#ee6e92"/><stop offset=".1071" stop-color="#ef768a"/><stop offset=".13" stop-color="#f0847c"/><stop offset=".1557" stop-color="#f4a66b"/><stop offset=".1757" stop-color="#f6b268"/><stop offset=".2414" stop-color="#f8c969"/><stop offset=".2529" stop-color="#f8c068"/><stop offset=".2657" stop-color="#f4a46c"/><stop offset=".2729" stop-color="#f29473"/><stop offset=".2829" stop-color="#f0847c"/><stop offset=".2957" stop-color="#ee6f91"/><stop offset=".3029" stop-color="#ec689c"/><stop offset=".3071" stop-color="#e463a0"/><stop offset=".3157" stop-color="#b6569b"/><stop offset=".32" stop-color="#a35299"/><stop offset=".3271" stop-color="#90539a"/><stop offset=".3429" stop-color="#77569a"/><stop offset=".3714" stop-color="#635896"/><stop offset=".4271" stop-color="#545288"/><stop offset=".4971" stop-color="#504f83"/><stop offset=".5386" stop-color="#57548c"/><stop offset=".5557" stop-color="#645896"/><stop offset=".5629" stop-color="#78569a"/><stop offset=".5686" stop-color="#95539a"/><stop offset=".57" stop-color="#a05299"/><stop offset=".5714" stop-color="#b4559b"/><stop offset=".5743" stop-color="#e7659f"/><stop offset=".5757" stop-color="#ed6b97"/><stop offset=".58" stop-color="#ef7c84"/><stop offset=".5829" stop-color="#ef7c84"/><stop offset=".5871" stop-color="#ed6b97"/><stop offset=".5886" stop-color="#e7659e"/><stop offset=".5914" stop-color="#b4559b"/><stop offset=".5929" stop-color="#a05299"/><stop offset=".5971" stop-color="#82559a"/><stop offset=".6014" stop-color="#705799"/><stop offset=".6071" stop-color="#635896"/><stop offset=".6414" stop-color="#535188"/><stop offset=".6943" stop-color="#4e4d80"/><stop offset=".75" stop-color="#535187"/><stop offset=".7771" stop-color="#635896"/><stop offset=".7871" stop-color="#74579a"/><stop offset=".7971" stop-color="#90539a"/><stop offset=".8029" stop-color="#a75399"/><stop offset=".8114" stop-color="#de619f"/><stop offset=".8129" stop-color="#e563a0"/><stop offset=".8171" stop-color="#ec689c"/><stop offset=".8243" stop-color="#ee6e92"/><stop offset=".8286" stop-color="#ef7789"/><stop offset=".8329" stop-color="#f0867b"/><stop offset=".8386" stop-color="#f4a26c"/><stop offset=".8429" stop-color="#f6b468"/><stop offset=".8471" stop-color="#f7ba68"/><stop offset=".8557" stop-color="#f6b568"/><stop offset=".8729" stop-color="#f29572"/><stop offset=".88" stop-color="#f0857b"/><stop offset=".89" stop-color="#ee7090"/><stop offset=".8971" stop-color="#ec689c"/><stop offset=".9043" stop-color="#e363a0"/><stop offset=".9171" stop-color="#c75a9d"/><stop offset=".9243" stop-color="#bd579c"/><stop offset=".93" stop-color="#bd579c"/><stop offset=".9357" stop-color="#c3599d"/><stop offset=".9414" stop-color="#cf5c9e"/><stop offset=".9486" stop-color="#e463a0"/><stop offset=".9543" stop-color="#ec689c"/><stop offset=".9629" stop-color="#ee7090"/><stop offset=".9771" stop-color="#f18979"/><stop offset=".9886" stop-color="#f29572"/><stop offset="1" stop-color="#f39970"/></linearGradient>
<linearGradient id="h21" x1="0" y1="0" x2="0" y2="1"><stop offset="0" stop-color="#ee6f91"/><stop offset=".05" stop-color="#ec689c"/><stop offset=".1071" stop-color="#ee718f"/><stop offset=".1286" stop-color="#ef7c84"/><stop offset=".1471" stop-color="#f29473"/><stop offset=".1586" stop-color="#f4a26c"/><stop offset=".1757" stop-color="#f5ad69"/><stop offset=".2414" stop-color="#f8c368"/><stop offset=".2514" stop-color="#f7bc68"/><stop offset=".2629" stop-color="#f4a46c"/><stop offset=".2743" stop-color="#f18979"/><stop offset=".2914" stop-color="#ee6e92"/><stop offset=".2986" stop-color="#ec689c"/><stop offset=".3043" stop-color="#e062a0"/><stop offset=".3114" stop-color="#bb579b"/><stop offset=".3171" stop-color="#a45299"/><stop offset=".3257" stop-color="#8e539a"/><stop offset=".3414" stop-color="#75579a"/><stop offset=".3657" stop-color="#635896"/><stop offset=".4257" stop-color="#545188"/><stop offset=".4971" stop-color="#504f83"/><stop offset=".5386" stop-color="#56548c"/><stop offset=".5571" stop-color="#655896"/><stop offset=".5629" stop-color="#74579a"/><stop offset=".5686" stop-color="#90539a"/><stop offset=".5714" stop-color="#aa539a"/><stop offset=".5743" stop-color="#dd619f"/><stop offset=".5757" stop-color="#eb679c"/><stop offset=".58" stop-color="#ef768a"/><stop offset=".5829" stop-color="#ef768a"/><stop offset=".5871" stop-color="#ec689c"/><stop offset=".5886" stop-color="#df62a0"/><stop offset=".5914" stop-color="#ab549a"/><stop offset=".5929" stop-color="#9b5299"/><stop offset=".5957" stop-color="#86549a"/><stop offset=".6" stop-color="#72579a"/><stop offset=".6057" stop-color="#645896"/><stop offset=".6129" stop-color="#5d5692"/><stop offset=".6414" stop-color="#535187"/><stop offset=".6943" stop-color="#4e4d80"/><stop offset=".7514" stop-color="#535187"/><stop offset=".7786" stop-color="#635896"/><stop offset=".7871" stop-color="#71579a"/><stop offset=".7986" stop-color="#90539a"/><stop offset=".8043" stop-color="#a45299"/><stop offset=".8114" stop-color="#cd5c9e"/><stop offset=".8157" stop-color="#e162a0"/><stop offset=".8229" stop-color="#ec699b"/><stop offset=".8271" stop-color="#ee6d93"/><stop offset=".8314" stop-color="#ef7987"/><stop offset=".8343" stop-color="#f0867b"/><stop offset=".84" stop-color="#f4a56b"/><stop offset=".8443" stop-color="#f6b368"/><stop offset=".8486" stop-color="#f7b768"/><stop offset=".8557" stop-color="#f6b168"/><stop offset=".8714" stop-color="#f29472"/><stop offset=".8786" stop-color="#f0857c"/><stop offset=".8871" stop-color="#ee728e"/><stop offset=".8943" stop-color="#ec699b"/><stop offset=".9014" stop-color="#e262a0"/><stop offset=".9086" stop-color="#d05d9e"/><stop offset=".9214" stop-color="#b8569b"/><stop offset=".9286" stop-color="#b5559b"/><stop offset=".9357" stop-color="#ba579b"/><stop offset=".9443" stop-color="#cd5c9e"/><stop offset=".9514" stop-color="#e463a0"/><stop offset=".9571" stop-color="#ec689b"/><stop offset=".9643" stop-color="#ee6f91"/><stop offset=".9771" stop-color="#f0867b"/><stop offset=".9886" stop-color="#f29174"/><stop offset="1" stop-color="#f29672"/></linearGradient>
<linearGradient id="h22" x1="0" y1="0" x2="0" y2="1"><stop offset="0" stop-color="#ed6b96"/><stop offset=".0186" stop-color="#ec689c"/><stop offset=".0514" stop-color="#e6659f"/><stop offset=".0829" stop-color="#ec689c"/><stop offset=".1143" stop-color="#ee6e92"/><stop offset=".1314" stop-color="#ef7888"/><stop offset=".15" stop-color="#f29273"/><stop offset=".16" stop-color="#f39d6e"/><stop offset=".1757" stop-color="#f5a76b"/><stop offset=".2043" stop-color="#f6af69"/><stop offset=".2414" stop-color="#f8bf68"/><stop offset=".2514" stop-color="#f7b768"/><stop offset=".2614" stop-color="#f4a16d"/><stop offset=".2743" stop-color="#f08080"/><stop offset=".2857" stop-color="#ee6f91"/><stop offset=".2943" stop-color="#ea679d"/><stop offset=".2986" stop-color="#e463a0"/><stop offset=".3086" stop-color="#b7569b"/><stop offset=".3143" stop-color="#a25299"/><stop offset=".3257" stop-color="#89549a"/><stop offset=".34" stop-color="#73579a"/><stop offset=".3614" stop-color="#635896"/><stop offset=".4257" stop-color="#535187"/><stop offset=".4971" stop-color="#504f83"/><stop offset=".5386" stop-color="#56538b"/><stop offset=".5571" stop-color="#635896"/><stop offset=".5643" stop-color="#76569a"/><stop offset=".57" stop-color="#95539a"/><stop offset=".5714" stop-color="#a15299"/><stop offset=".5729" stop-color="#b5559b"/><stop offset=".5757" stop-color="#e6649f"/><stop offset=".5771" stop-color="#ec699a"/><stop offset=".58" stop-color="#ee7090"/><stop offset=".5829" stop-color="#ee7090"/><stop offset=".5857" stop-color="#ed6a99"/><stop offset=".5871" stop-color="#e7659f"/><stop offset=".5914" stop-color="#a25299"/><stop offset=".5957" stop-color="#83559a"/><stop offset=".6" stop-color="#6f5799"/><stop offset=".6057" stop-color="#625895"/><stop offset=".6129" stop-color="#5c5691"/><stop offset=".6414" stop-color="#535187"/><stop offset=".6957" stop-color="#4e4d80"/><stop offset=".7514" stop-color="#535187"/><stop offset=".78" stop-color="#635896"/><stop offset=".7886" stop-color="#71579a"/><stop offset=".8" stop-color="#8f539a"/><stop offset=".8071" stop-color="#a75399"/><stop offset=".82" stop-color="#df61a0"/><stop offset=".8257" stop-color="#eb689c"/><stop offset=".83" stop-color="#ee6e92"/><stop offset=".8329" stop-color="#ef7987"/><stop offset=".8371" stop-color="#f28f75"/><stop offset=".8414" stop-color="#f5a76b"/><stop offset=".8471" stop-color="#f6b368"/><stop offset=".8543" stop-color="#f6b068"/><stop offset=".8629" stop-color="#f4a26c"/><stop offset=".8757" stop-color="#f0877a"/><stop offset=".8871" stop-color="#ee6f91"/><stop offset=".8929" stop-color="#ec689c"/><stop offset=".8986" stop-color="#e262a0"/><stop offset=".91" stop-color="#c4599d"/><stop offset=".9229" stop-color="#b0559a"/><stop offset=".93" stop-color="#af549a"/><stop offset=".9386" stop-color="#b7569b"/><stop offset=".9457" stop-color="#c85a9d"/><stop offset=".9543" stop-color="#e564a0"/><stop offset=".9586" stop-color="#eb679c"/><stop offset=".9657" stop-color="#ee6e92"/><stop offset=".9786" stop-color="#f0847c"/><stop offset=".99" stop-color="#f18f75"/><stop offset="1" stop-color="#f29373"/></linearGradient>
<linearGradient id="h23" x1="0" y1="0" x2="0" y2="1"><stop offset="0" stop-color="#ec689b"/><stop offset=".05" stop-color="#db609f"/><stop offset=".1014" stop-color="#ec689c"/><stop offset=".1229" stop-color="#ee6d93"/><stop offset=".1371" stop-color="#ef7987"/><stop offset=".1457" stop-color="#f0857b"/><stop offset=".1571" stop-color="#f29572"/><stop offset=".1757" stop-color="#f4a26d"/><stop offset=".2043" stop-color="#f5aa6a"/><stop offset=".2414" stop-color="#f7ba68"/><stop offset=".25" stop-color="#f6b468"/><stop offset=".2586" stop-color="#f4a36c"/><stop offset=".2686" stop-color="#f0857b"/><stop offset=".2729" stop-color="#ef7a86"/><stop offset=".2886" stop-color="#eb679d"/><stop offset=".2943" stop-color="#e062a0"/><stop offset=".31" stop-color="#a45299"/><stop offset=".3229" stop-color="#89549a"/><stop offset=".3343" stop-color="#77569a"/><stop offset=".3443" stop-color="#6b5798"/><stop offset=".3557" stop-color="#635896"/><stop offset=".3886" stop-color="#59558f"/><stop offset=".4243" stop-color="#535187"/><stop offset=".4971" stop-color="#504e83"/><stop offset=".5386" stop-color="#55538a"/><stop offset=".5586" stop-color="#635896"/><stop offset=".5643" stop-color="#73579a"/><stop offset=".57" stop-color="#90539a"/><stop offset=".5729" stop-color="#aa539a"/><stop offset=".5757" stop-color="#d95f9f"/><stop offset=".5771" stop-color="#e8669e"/><stop offset=".58" stop-color="#ed6c95"/><stop offset=".5829" stop-color="#ed6c95"/><stop offset=".5857" stop-color="#e9669d"/><stop offset=".5871" stop-color="#dd619f"/><stop offset=".59" stop-color="#ad549a"/><stop offset=".5914" stop-color="#9d5299"/><stop offset=".5943" stop-color="#88549a"/><stop offset=".5986" stop-color="#71579a"/><stop offset=".6043" stop-color="#635896"/><stop offset=".6129" stop-color="#5b5690"/><stop offset=".6414" stop-color="#525086"/><stop offset=".6957" stop-color="#4e4d80"/><stop offset=".7514" stop-color="#525186"/><stop offset=".7814" stop-color="#635896"/><stop offset=".79" stop-color="#71579a"/><stop offset=".8029" stop-color="#91539a"/><stop offset=".8086" stop-color="#a25299"/><stop offset=".8214" stop-color="#d25d9e"/><stop offset=".8257" stop-color="#e563a0"/><stop offset=".8286" stop-color="#ec689c"/><stop offset=".8314" stop-color="#ee6e93"/><stop offset=".8343" stop-color="#ef7987"/><stop offset=".8371" stop-color="#f18a78"/><stop offset=".8414" stop-color="#f4a36c"/><stop offset=".8443" stop-color="#f5ac6a"/><stop offset=".8471" stop-color="#f6b069"/><stop offset=".8543" stop-color="#f5ad69"/><stop offset=".8629" stop-color="#f39e6e"/><stop offset=".8743" stop-color="#f0867b"/><stop offset=".8857" stop-color="#ee6e92"/><stop offset=".8914" stop-color="#eb689c"/><stop offset=".8957" stop-color="#e363a0"/><stop offset=".9014" stop-color="#cf5c9e"/><stop offset=".9114" stop-color="#b8569b"/><stop offset=".9214" stop-color="#ab549a"/><stop offset=".9271" stop-color="#a8539a"/><stop offset=".9343" stop-color="#ab549a"/><stop offset=".9429" stop-color="#b7569b"/><stop offset=".9486" stop-color="#c75a9d"/><stop offset=".9557" stop-color="#e363a0"/><stop offset=".9614" stop-color="#ec689c"/><stop offset=".9686" stop-color="#ee6f91"/><stop offset=".98" stop-color="#f0837d"/><stop offset=".99" stop-color="#f18c77"/><stop offset="1" stop-color="#f29075"/></linearGradient>
<linearGradient id="h24" x1="0" y1="0" x2="0" y2="1"><stop offset="0" stop-color="#e7659e"/><stop offset=".05" stop-color="#cc5c9e"/><stop offset=".0729" stop-color="#d45e9f"/><stop offset=".0943" stop-color="#e463a0"/><stop offset=".1229" stop-color="#ed6a99"/><stop offset=".1371" stop-color="#ef738d"/><stop offset=".1486" stop-color="#f0847c"/><stop offset=".16" stop-color="#f29274"/><stop offset=".1757" stop-color="#f39c6f"/><stop offset=".2043" stop-color="#f4a46c"/><stop offset=".2414" stop-color="#f6b668"/><stop offset=".25" stop-color="#f6b069"/><stop offset=".2571" stop-color="#f4a16d"/><stop offset=".2657" stop-color="#f0867b"/><stop offset=".2714" stop-color="#ef768a"/><stop offset=".2829" stop-color="#ec689c"/><stop offset=".2886" stop-color="#e162a0"/><stop offset=".2986" stop-color="#ba579b"/><stop offset=".3071" stop-color="#a15299"/><stop offset=".3286" stop-color="#7a569a"/><stop offset=".3486" stop-color="#645896"/><stop offset=".3857" stop-color="#58558e"/><stop offset=".4157" stop-color="#535188"/><stop offset=".4971" stop-color="#504e82"/><stop offset=".54" stop-color="#55528a"/><stop offset=".5543" stop-color="#5c5691"/><stop offset=".56" stop-color="#635896"/><stop offset=".5657" stop-color="#75579a"/><stop offset=".5714" stop-color="#95539a"/><stop offset=".5729" stop-color="#a15299"/><stop offset=".5743" stop-color="#b3559b"/><stop offset=".5771" stop-color="#e062a0"/><stop offset=".5786" stop-color="#e9669e"/><stop offset=".5829" stop-color="#ec699b"/><stop offset=".5857" stop-color="#e363a0"/><stop offset=".59" stop-color="#a45299"/><stop offset=".5929" stop-color="#8d549a"/><stop offset=".5986" stop-color="#6e5799"/><stop offset=".6043" stop-color="#615795"/><stop offset=".6129" stop-color="#5a568f"/><stop offset=".6414" stop-color="#525086"/><stop offset=".6957" stop-color="#4e4d80"/><stop offset=".7529" stop-color="#525186"/><stop offset=".7714" stop-color="#5a558f"/><stop offset=".7843" stop-color="#645896"/><stop offset=".7929" stop-color="#73579a"/><stop offset=".8114" stop-color="#a15299"/><stop offset=".82" stop-color="#ba579b"/><stop offset=".8243" stop-color="#cb5b9e"/><stop offset=".8286" stop-color="#e5649f"/><stop offset=".83" stop-color="#ea679d"/><stop offset=".8343" stop-color="#ef748c"/><stop offset=".8371" stop-color="#f0857c"/><stop offset=".8414" stop-color="#f39f6e"/><stop offset=".8443" stop-color="#f5a86b"/><stop offset=".8471" stop-color="#f5ad69"/><stop offset=".8543" stop-color="#f5aa6a"/><stop offset=".8729" stop-color="#f0867b"/><stop offset=".8843" stop-color="#ee6e92"/><stop offset=".8886" stop-color="#ec699a"/><stop offset=".8943" stop-color="#e062a0"/><stop offset=".9" stop-color="#c95b9d"/><stop offset=".9071" stop-color="#b8569b"/><stop offset=".92" stop-color="#a65399"/><stop offset=".9271" stop-color="#a25299"/><stop offset=".9357" stop-color="#a65399"/><stop offset=".9443" stop-color="#b3559b"/><stop offset=".9486" stop-color="#be589c"/><stop offset=".9586" stop-color="#e463a0"/><stop offset=".9643" stop-color="#ec689b"/><stop offset=".9829" stop-color="#f0837d"/><stop offset="1" stop-color="#f18c77"/></linearGradient>
<linearGradient id="h25" x1="0" y1="0" x2="0" y2="1"><stop offset="0" stop-color="#df61a0"/><stop offset=".0229" stop-color="#cb5b9e"/><stop offset=".05" stop-color="#bf589c"/><stop offset=".0743" stop-color="#c85a9d"/><stop offset=".11" stop-color="#e463a0"/><stop offset=".1257" stop-color="#ec689c"/><stop offset=".1371" stop-color="#ee6e92"/><stop offset=".1514" stop-color="#f0847c"/><stop offset=".1686" stop-color="#f29273"/><stop offset=".2043" stop-color="#f49f6e"/><stop offset=".24" stop-color="#f6b268"/><stop offset=".2471" stop-color="#f6af69"/><stop offset=".2529" stop-color="#f4a76b"/><stop offset=".2629" stop-color="#f18979"/><stop offset=".27" stop-color="#ee738d"/><stop offset=".2786" stop-color="#eb689c"/><stop offset=".2843" stop-color="#e062a0"/><stop offset=".2943" stop-color="#b7569b"/><stop offset=".3014" stop-color="#a45299"/><stop offset=".3129" stop-color="#8e539a"/><stop offset=".33" stop-color="#73579a"/><stop offset=".3457" stop-color="#635896"/><stop offset=".3829" stop-color="#58558e"/><stop offset=".4143" stop-color="#535187"/><stop offset=".4986" stop-color="#504e82"/><stop offset=".54" stop-color="#545289"/><stop offset=".5529" stop-color="#5a5690"/><stop offset=".56" stop-color="#625895"/><stop offset=".5657" stop-color="#71579a"/><stop offset=".57" stop-color="#87549a"/><stop offset=".5729" stop-color="#9b5299"/><stop offset=".5743" stop-color="#a9539a"/><stop offset=".5786" stop-color="#e363a0"/><stop offset=".5814" stop-color="#e9669d"/><stop offset=".5843" stop-color="#e563a0"/><stop offset=".5857" stop-color="#d55e9f"/><stop offset=".5886" stop-color="#ad549a"/><stop offset=".59" stop-color="#9e5299"/><stop offset=".5929" stop-color="#89549a"/><stop offset=".5971" stop-color="#71579a"/><stop offset=".6029" stop-color="#625895"/><stop offset=".6114" stop-color="#5a558f"/><stop offset=".64" stop-color="#525085"/><stop offset=".6957" stop-color="#4e4d80"/><stop offset=".7529" stop-color="#525086"/><stop offset=".7729" stop-color="#5a558f"/><stop offset=".7857" stop-color="#635896"/><stop offset=".7943" stop-color="#73579a"/><stop offset=".8157" stop-color="#a25299"/><stop offset=".8243" stop-color="#bb579b"/><stop offset=".8271" stop-color="#cc5b9e"/><stop offset=".83" stop-color="#e463a0"/><stop offset=".8314" stop-color="#ea679d"/><stop offset=".8343" stop-color="#ee6f91"/><stop offset=".8386" stop-color="#f18a79"/><stop offset=".8429" stop-color="#f4a16d"/><stop offset=".8471" stop-color="#f5aa6a"/><stop offset=".8543" stop-color="#f5a76b"/><stop offset=".8714" stop-color="#f0857b"/><stop offset=".8829" stop-color="#ee6e92"/><stop offset=".8871" stop-color="#ec699b"/><stop offset=".8914" stop-color="#e563a0"/><stop offset=".8971" stop-color="#ca5b9e"/><stop offset=".9029" stop-color="#b9569b"/><stop offset=".9186" stop-color="#a25299"/><stop offset=".9271" stop-color="#9e5299"/><stop offset=".9371" stop-color="#a25299"/><stop offset=".9457" stop-color="#b0549a"/><stop offset=".95" stop-color="#ba579b"/><stop offset=".96" stop-color="#e262a0"/><stop offset=".9657" stop-color="#ec689c"/><stop offset=".9829" stop-color="#f08080"/><stop offset="1" stop-color="#f18a79"/></linearGradient>
<linearGradient id="h26" x1="0" y1="0" x2="0" y2="1"><stop offset="0" stop-color="#d35d9e"/><stop offset=".0229" stop-color="#bf589c"/><stop offset=".0514" stop-color="#b4559b"/><stop offset=".0786" stop-color="#be589c"/><stop offset=".1071" stop-color="#d55e9f"/><stop offset=".12" stop-color="#e463a0"/><stop offset=".1314" stop-color="#ec689c"/><stop offset=".1414" stop-color="#ee6f91"/><stop offset=".1543" stop-color="#f0837d"/><stop offset=".1686" stop-color="#f18e76"/><stop offset=".2043" stop-color="#f39b70"/><stop offset=".24" stop-color="#f5ae69"/><stop offset=".2457" stop-color="#f5ad69"/><stop offset=".2514" stop-color="#f4a66b"/><stop offset=".2614" stop-color="#f18979"/><stop offset=".27" stop-color="#ee6e93"/><stop offset=".2743" stop-color="#ec689c"/><stop offset=".2786" stop-color="#e5649f"/><stop offset=".29" stop-color="#b6569b"/><stop offset=".2971" stop-color="#a35299"/><stop offset=".31" stop-color="#8d549a"/><stop offset=".3271" stop-color="#73579a"/><stop offset=".3429" stop-color="#635896"/><stop offset=".3771" stop-color="#58558e"/><stop offset=".41" stop-color="#535187"/><stop offset=".5" stop-color="#4f4e82"/><stop offset=".5414" stop-color="#545289"/><stop offset=".5543" stop-color="#5a568f"/><stop offset=".5614" stop-color="#625896"/><stop offset=".5671" stop-color="#74579a"/><stop offset=".5714" stop-color="#8c549a"/><stop offset=".5743" stop-color="#a15299"/><stop offset=".5786" stop-color="#d75f9f"/><stop offset=".58" stop-color="#e262a0"/><stop offset=".5814" stop-color="#e564a0"/><stop offset=".5829" stop-color="#e363a0"/><stop offset=".5843" stop-color="#d9609f"/><stop offset=".5886" stop-color="#a65399"/><stop offset=".5914" stop-color="#8f539a"/><stop offset=".5943" stop-color="#7d569a"/><stop offset=".5986" stop-color="#6a5898"/><stop offset=".6043" stop-color="#5f5793"/><stop offset=".6129" stop-color="#58558e"/><stop offset=".6429" stop-color="#514f84"/><stop offset=".6986" stop-color="#4e4d80"/><stop offset=".7529" stop-color="#525085"/><stop offset=".7729" stop-color="#59558e"/><stop offset=".7871" stop-color="#635896"/><stop offset=".7957" stop-color="#72579a"/><stop offset=".82" stop-color="#a25299"/><stop offset=".8257" stop-color="#b5559b"/><stop offset=".8286" stop-color="#c95b9d"/><stop offset=".8314" stop-color="#e5649f"/><stop offset=".8329" stop-color="#ec689c"/><stop offset=".8357" stop-color="#ee738d"/><stop offset=".8386" stop-color="#f0867b"/><stop offset=".8429" stop-color="#f39e6e"/><stop offset=".8471" stop-color="#f5a76b"/><stop offset=".8543" stop-color="#f4a56b"/><stop offset=".87" stop-color="#f0857b"/><stop offset=".8814" stop-color="#ee6e92"/><stop offset=".8857" stop-color="#ec699a"/><stop offset=".89" stop-color="#e563a0"/><stop offset=".8957" stop-color="#c95b9d"/><stop offset=".9014" stop-color="#b6569b"/><stop offset=".9143" stop-color="#a35299"/><stop offset=".9271" stop-color="#9b5299"/><stop offset=".9386" stop-color="#a05299"/><stop offset=".9457" stop-color="#aa539a"/><stop offset=".9514" stop-color="#b8569b"/><stop offset=".9629" stop-color="#e563a0"/><stop offset=".9671" stop-color="#ec689c"/><stop offset=".9829" stop-color="#ef7e82"/><stop offset=".99" stop-color="#f0847c"/><stop offset="1" stop-color="#f0877a"/></linearGradient>
<linearGradient id="h27" x1="0" y1="0" x2="0" y2="1"><stop offset="0" stop-color="#c75a9d"/><stop offset=".0214" stop-color="#b5559b"/><stop offset=".0529" stop-color="#ac549a"/><stop offset=".0771" stop-color="#b3559b"/><stop offset=".1" stop-color="#c2599c"/><stop offset=".1129" stop-color="#ce5c9e"/><stop offset=".1271" stop-color="#e463a0"/><stop offset=".1357" stop-color="#ec689b"/><stop offset=".1429" stop-color="#ee6e93"/><stop offset=".1529" stop-color="#ef7d83"/><stop offset=".1614" stop-color="#f0857c"/><stop offset=".1757" stop-color="#f18e76"/><stop offset=".2043" stop-color="#f29671"/><stop offset=".2386" stop-color="#f5aa6a"/><stop offset=".2443" stop-color="#f5aa6a"/><stop offset=".25" stop-color="#f4a46c"/><stop offset=".2543" stop-color="#f39b70"/><stop offset=".2614" stop-color="#f0847c"/><stop offset=".2671" stop-color="#ee7090"/><stop offset=".2714" stop-color="#ec689c"/><stop offset=".2757" stop-color="#e363a0"/><stop offset=".2857" stop-color="#b7569b"/><stop offset=".2943" stop-color="#9f5299"/><stop offset=".3243" stop-color="#73579a"/><stop offset=".34" stop-color="#625896"/><stop offset=".3557" stop-color="#5c5691"/><stop offset=".3929" stop-color="#555289"/><stop offset=".43" stop-color="#514f84"/><stop offset=".5" stop-color="#4f4e82"/><stop offset=".5414" stop-color="#545288"/><stop offset=".5543" stop-color="#59558f"/><stop offset=".5614" stop-color="#615794"/><stop offset=".5657" stop-color="#6b5798"/><stop offset=".57" stop-color="#7f559a"/><stop offset=".5743" stop-color="#9c5299"/><stop offset=".5786" stop-color="#ca5b9e"/><stop offset=".58" stop-color="#d65e9f"/><stop offset=".5814" stop-color="#da609f"/><stop offset=".5829" stop-color="#d75f9f"/><stop offset=".5843" stop-color="#cd5c9e"/><stop offset=".5886" stop-color="#9f5299"/><stop offset=".5957" stop-color="#72579a"/><stop offset=".6" stop-color="#645896"/><stop offset=".6057" stop-color="#5c5691"/><stop offset=".6443" stop-color="#514f84"/><stop offset=".7243" stop-color="#4f4e81"/><stop offset=".7586" stop-color="#535187"/><stop offset=".7757" stop-color="#59558f"/><stop offset=".7886" stop-color="#635896"/><stop offset=".7986" stop-color="#74579a"/><stop offset=".8229" stop-color="#a15299"/><stop offset=".8271" stop-color="#b2559a"/><stop offset=".8286" stop-color="#bb579b"/><stop offset=".8329" stop-color="#e8659e"/><stop offset=".8357" stop-color="#ee6f91"/><stop offset=".84" stop-color="#f18c77"/><stop offset=".8429" stop-color="#f39b70"/><stop offset=".8471" stop-color="#f4a56c"/><stop offset=".8543" stop-color="#f4a36c"/><stop offset=".8686" stop-color="#f0857b"/><stop offset=".88" stop-color="#ee6e92"/><stop offset=".8857" stop-color="#eb679c"/><stop offset=".8886" stop-color="#e564a0"/><stop offset=".8957" stop-color="#c1589c"/><stop offset=".9" stop-color="#b3559b"/><stop offset=".9114" stop-color="#a25299"/><stop offset=".9271" stop-color="#98539a"/><stop offset=".9371" stop-color="#9c5299"/><stop offset=".9457" stop-color="#a55299"/><stop offset=".9529" stop-color="#b7569b"/><stop offset=".9643" stop-color="#e463a0"/><stop offset=".9686" stop-color="#ec689c"/><stop offset=".9829" stop-color="#ef7b85"/><stop offset="1" stop-color="#f0857b"/></linearGradient>
<linearGradient id="h28" x1="0" y1="0" x2="0" y2="1"><stop offset="0" stop-color="#bb579b"/><stop offset=".0229" stop-color="#ac549a"/><stop offset=".0529" stop-color="#a35299"/><stop offset=".0771" stop-color="#aa549a"/><stop offset=".1071" stop-color="#bc579c"/><stop offset=".1229" stop-color="#d05d9e"/><stop offset=".1314" stop-color="#e363a0"/><stop offset=".14" stop-color="#ec699b"/><stop offset=".1543" stop-color="#ef7b85"/><stop offset=".1671" stop-color="#f0847c"/><stop offset=".2057" stop-color="#f29373"/><stop offset=".2386" stop-color="#f5a76b"/><stop offset=".2443" stop-color="#f5a76b"/><stop offset=".25" stop-color="#f4a16d"/><stop offset=".26" stop-color="#f0847c"/><stop offset=".2657" stop-color="#ee7090"/><stop offset=".27" stop-color="#eb679d"/><stop offset=".2729" stop-color="#e262a0"/><stop offset=".2814" stop-color="#ba569b"/><stop offset=".2886" stop-color="#a25299"/><stop offset=".2943" stop-color="#97539a"/><stop offset=".3214" stop-color="#72579a"/><stop offset=".3371" stop-color="#625895"/><stop offset=".3529" stop-color="#5b5690"/><stop offset=".39" stop-color="#545289"/><stop offset=".4286" stop-color="#514f84"/><stop offset=".5" stop-color="#4f4e82"/><stop offset=".5414" stop-color="#535187"/><stop offset=".5543" stop-color="#58558e"/><stop offset=".5614" stop-color="#5f5793"/><stop offset=".5657" stop-color="#685897"/><stop offset=".57" stop-color="#7b569a"/><stop offset=".5757" stop-color="#a15299"/><stop offset=".58" stop-color="#c95b9d"/><stop offset=".5814" stop-color="#cd5c9e"/><stop offset=".5829" stop-color="#ca5b9e"/><stop offset=".5843" stop-color="#c1589c"/><stop offset=".5871" stop-color="#a65399"/><stop offset=".59" stop-color="#90539a"/><stop offset=".5957" stop-color="#705799"/><stop offset=".6" stop-color="#625895"/><stop offset=".6071" stop-color="#5a558f"/><stop offset=".6457" stop-color="#504f83"/><stop offset=".7286" stop-color="#4f4e82"/><stop offset=".7514" stop-color="#514f84"/><stop offset=".77" stop-color="#56538b"/><stop offset=".7914" stop-color="#655896"/><stop offset=".8" stop-color="#73579a"/><stop offset=".8229" stop-color="#9a5299"/><stop offset=".8257" stop-color="#a05299"/><stop offset=".8286" stop-color="#b0559a"/><stop offset=".83" stop-color="#bc579c"/><stop offset=".8329" stop-color="#e162a0"/><stop offset=".8343" stop-color="#eb679d"/><stop offset=".8371" stop-color="#ef748c"/><stop offset=".84" stop-color="#f18879"/><stop offset=".8429" stop-color="#f39871"/><stop offset=".8471" stop-color="#f4a26c"/><stop offset=".8529" stop-color="#f4a26d"/><stop offset=".8671" stop-color="#f0867b"/><stop offset=".8786" stop-color="#ee6e92"/><stop offset=".8843" stop-color="#eb689c"/><stop offset=".8886" stop-color="#df61a0"/><stop offset=".8957" stop-color="#b9569b"/><stop offset=".9" stop-color="#ae549a"/><stop offset=".9071" stop-color="#a25299"/><stop offset=".9271" stop-color="#95539a"/><stop offset=".9371" stop-color="#99539a"/><stop offset=".9471" stop-color="#a25299"/><stop offset=".9557" stop-color="#ba579b"/><stop offset=".9657" stop-color="#e463a0"/><stop offset=".97" stop-color="#ec689b"/><stop offset=".9829" stop-color="#ef7987"/><stop offset="1" stop-color="#f0837d"/></linearGradient>
<linearGradient id="h29" x1="0" y1="0" x2="0" y2="1"><stop offset="0" stop-color="#b2559a"/><stop offset=".0229" stop-color="#a35299"/><stop offset=".0443" stop-color="#9e5299"/><stop offset=".0757" stop-color="#a25299"/><stop offset=".1143" stop-color="#b8569b"/><stop offset=".1271" stop-color="#cc5b9e"/><stop offset=".1357" stop-color="#e463a0"/><stop offset=".1429" stop-color="#ec699a"/><stop offset=".1543" stop-color="#ef7789"/><stop offset=".1729" stop-color="#f0847c"/><stop offset=".2057" stop-color="#f18f75"/><stop offset=".2386" stop-color="#f4a46c"/><stop offset=".2471" stop-color="#f4a16d"/><stop offset=".2529" stop-color="#f29771"/><stop offset=".2586" stop-color="#f0857c"/><stop offset=".2643" stop-color="#ee7090"/><stop offset=".2686" stop-color="#ea679d"/><stop offset=".2714" stop-color="#dc619f"/><stop offset=".2743" stop-color="#ca5b9e"/><stop offset=".2786" stop-color="#b6569b"/><stop offset=".2843" stop-color="#a35299"/><stop offset=".29" stop-color="#97539a"/><stop offset=".3114" stop-color="#79569a"/><stop offset=".3314" stop-color="#645896"/><stop offset=".35" stop-color="#5a568f"/><stop offset=".4214" stop-color="#514f84"/><stop offset=".4943" stop-color="#4f4e81"/><stop offset=".5371" stop-color="#525085"/><stop offset=".5529" stop-color="#56548b"/><stop offset=".5614" stop-color="#5d5692"/><stop offset=".5671" stop-color="#6a5898"/><stop offset=".57" stop-color="#77569a"/><stop offset=".5757" stop-color="#9b5299"/><stop offset=".58" stop-color="#bd579c"/><stop offset=".5814" stop-color="#c1589c"/><stop offset=".5829" stop-color="#be589c"/><stop offset=".5843" stop-color="#b6569b"/><stop offset=".5871" stop-color="#9f5299"/><stop offset=".5957" stop-color="#6d5799"/><stop offset=".6" stop-color="#615794"/><stop offset=".6071" stop-color="#59558e"/><stop offset=".6457" stop-color="#504f83"/><stop offset=".6943" stop-color="#4e4d80"/><stop offset=".7443" stop-color="#504f83"/><stop offset=".7714" stop-color="#56538b"/><stop offset=".7871" stop-color="#5e5792"/><stop offset=".8014" stop-color="#71579a"/><stop offset=".8214" stop-color="#91539a"/><stop offset=".8257" stop-color="#9a5299"/><stop offset=".8286" stop-color="#a65399"/><stop offset=".8314" stop-color="#c0589c"/><stop offset=".8343" stop-color="#e7659f"/><stop offset=".8371" stop-color="#ee718f"/><stop offset=".84" stop-color="#f0857b"/><stop offset=".8429" stop-color="#f29572"/><stop offset=".8471" stop-color="#f4a06e"/><stop offset=".8529" stop-color="#f49f6e"/><stop offset=".8657" stop-color="#f0867b"/><stop offset=".8771" stop-color="#ee6f91"/><stop offset=".8829" stop-color="#ec689c"/><stop offset=".8871" stop-color="#e062a0"/><stop offset=".8943" stop-color="#b8569b"/><stop offset=".9" stop-color="#a8539a"/><stop offset=".9086" stop-color="#9d5299"/><stop offset=".9271" stop-color="#92539a"/><stop offset=".9386" stop-color="#96539a"/><stop offset=".9486" stop-color="#a15299"/><stop offset=".9571" stop-color="#b8569b"/><stop offset=".9671" stop-color="#e463a0"/><stop offset=".9714" stop-color="#ec699b"/><stop offset=".9814" stop-color="#ef768a"/><stop offset="1" stop-color="#f08080"/></linearGradient>
<linearGradient id="h30" x1="0" y1="0" x2="0" y2="1"><stop offset="0" stop-color="#aa539a"/><stop offset=".0186" stop-color="#9f5299"/><stop offset=".0457" stop-color="#99539a"/><stop offset=".0786" stop-color="#9d5299"/><stop offset=".1071" stop-color="#aa539a"/><stop offset=".1214" stop-color="#b7569b"/><stop offset=".1286" stop-color="#c4599d"/><stop offset=".1386" stop-color="#e363a0"/><stop offset=".1443" stop-color="#ec689c"/><stop offset=".1543" stop-color="#ef738d"/><stop offset=".1743" stop-color="#f0817f"/><stop offset=".2057" stop-color="#f18b78"/><stop offset=".2386" stop-color="#f4a16d"/><stop offset=".2457" stop-color="#f4a06d"/><stop offset=".2514" stop-color="#f29771"/><stop offset=".2571" stop-color="#f0867b"/><stop offset=".2629" stop-color="#ee718f"/><stop offset=".2671" stop-color="#ea679d"/><stop offset=".2686" stop-color="#e5649f"/><stop offset=".2729" stop-color="#c4599d"/><stop offset=".2757" stop-color="#b5559b"/><stop offset=".2814" stop-color="#a25299"/><stop offset=".29" stop-color="#90539a"/><stop offset=".31" stop-color="#76579a"/><stop offset=".3286" stop-color="#635896"/><stop offset=".3486" stop-color="#59558f"/><stop offset=".4329" stop-color="#504e82"/><stop offset=".5014" stop-color="#4f4e81"/><stop offset=".5371" stop-color="#515085"/><stop offset=".5529" stop-color="#55538a"/><stop offset=".5614" stop-color="#5c5691"/><stop offset=".5671" stop-color="#675897"/><stop offset=".5714" stop-color="#7b569a"/><stop offset=".5771" stop-color="#9f5299"/><stop offset=".58" stop-color="#b3559b"/><stop offset=".5814" stop-color="#b6569b"/><stop offset=".5843" stop-color="#ad549a"/><stop offset=".5929" stop-color="#78569a"/><stop offset=".5971" stop-color="#655897"/><stop offset=".6014" stop-color="#5d5692"/><stop offset=".6086" stop-color="#57548c"/><stop offset=".6471" stop-color="#504e82"/><stop offset=".6957" stop-color="#4e4d80"/><stop offset=".7486" stop-color="#504f83"/><stop offset=".7743" stop-color="#56538b"/><stop offset=".7886" stop-color="#5e5792"/><stop offset=".8043" stop-color="#72579a"/><stop offset=".8229" stop-color="#8d539a"/><stop offset=".8271" stop-color="#98539a"/><stop offset=".83" stop-color="#a75399"/><stop offset=".8314" stop-color="#b5559b"/><stop offset=".8343" stop-color="#e062a0"/><stop offset=".8357" stop-color="#ec689c"/><stop offset=".8371" stop-color="#ee6e92"/><stop offset=".84" stop-color="#f0827e"/><stop offset=".8429" stop-color="#f29274"/><stop offset=".8471" stop-color="#f39d6f"/><stop offset=".8529" stop-color="#f39d6f"/><stop offset=".8657" stop-color="#f0837d"/><stop offset=".8757" stop-color="#ee6f91"/><stop offset=".8814" stop-color="#ec689c"/><stop offset=".8857" stop-color="#e162a0"/><stop offset=".8929" stop-color="#b8569b"/><stop offset=".9" stop-color="#a35299"/><stop offset=".9271" stop-color="#8f539a"/><stop offset=".9414" stop-color="#96539a"/><stop offset=".9514" stop-color="#a35299"/><stop offset=".9586" stop-color="#b7569b"/><stop offset=".9686" stop-color="#e563a0"/><stop offset=".9714" stop-color="#eb679c"/><stop offset=".9814" stop-color="#ef748c"/><stop offset="1" stop-color="#ef7e82"/></linearGradient>
<linearGradient id="h31" x1="0" y1="0" x2="0" y2="1"><stop offset="0" stop-color="#a25299"/><stop offset=".0486" stop-color="#94539a"/><stop offset=".0986" stop-color="#9f5299"/><stop offset=".1114" stop-color="#a55399"/><stop offset=".1271" stop-color="#b7569b"/><stop offset=".1343" stop-color="#cb5b9e"/><stop offset=".1414" stop-color="#e463a0"/><stop offset=".1471" stop-color="#ec699a"/><stop offset=".1557" stop-color="#ee728e"/><stop offset=".1757" stop-color="#ef7e82"/><stop offset=".2057" stop-color="#f1887a"/><stop offset=".2386" stop-color="#f39e6e"/><stop offset=".2457" stop-color="#f39d6f"/><stop offset=".25" stop-color="#f29771"/><stop offset=".2557" stop-color="#f0877a"/><stop offset=".2629" stop-color="#ee6e92"/><stop offset=".2657" stop-color="#eb679c"/><stop offset=".2671" stop-color="#e6649f"/><stop offset=".2729" stop-color="#b7569b"/><stop offset=".2757" stop-color="#ab549a"/><stop offset=".2786" stop-color="#a15299"/><stop offset=".29" stop-color="#8a549a"/><stop offset=".31" stop-color="#71579a"/><stop offset=".3257" stop-color="#625896"/><stop offset=".3471" stop-color="#58558e"/><stop offset=".4314" stop-color="#504e82"/><stop offset=".5014" stop-color="#4f4e81"/><stop offset=".5529" stop-color="#545289"/><stop offset=".5614" stop-color="#5b5690"/><stop offset=".5671" stop-color="#645896"/><stop offset=".5714" stop-color="#77569a"/><stop offset=".58" stop-color="#aa549a"/><stop offset=".5814" stop-color="#ad549a"/><stop offset=".5843" stop-color="#a55399"/><stop offset=".5929" stop-color="#75579a"/><stop offset=".5971" stop-color="#635896"/><stop offset=".6086" stop-color="#56538b"/><stop offset=".6471" stop-color="#504e82"/><stop offset=".75" stop-color="#504e83"/><stop offset=".7886" stop-color="#5c5691"/><stop offset=".8071" stop-color="#71579a"/><stop offset=".8229" stop-color="#88549a"/><stop offset=".8271" stop-color="#92539a"/><stop offset=".83" stop-color="#a05299"/><stop offset=".8314" stop-color="#ac549a"/><stop offset=".8329" stop-color="#be589c"/><stop offset=".8343" stop-color="#d65e9f"/><stop offset=".8357" stop-color="#e9669e"/><stop offset=".84" stop-color="#f07f81"/><stop offset=".8429" stop-color="#f18f75"/><stop offset=".8471" stop-color="#f39b70"/><stop offset=".8529" stop-color="#f39b70"/><stop offset=".8643" stop-color="#f0847c"/><stop offset=".8743" stop-color="#ee6f91"/><stop offset=".88" stop-color="#ec689b"/><stop offset=".8843" stop-color="#e363a0"/><stop offset=".8914" stop-color="#b9569b"/><stop offset=".8986" stop-color="#a15299"/><stop offset=".9171" stop-color="#91539a"/><stop offset=".9271" stop-color="#8d549a"/><stop offset=".9414" stop-color="#93539a"/><stop offset=".9529" stop-color="#a25299"/><stop offset=".96" stop-color="#b7569b"/><stop offset=".9643" stop-color="#c95b9d"/><stop offset=".9686" stop-color="#e062a0"/><stop offset=".9729" stop-color="#ec689c"/><stop offset=".9829" stop-color="#ef738d"/><stop offset="1" stop-color="#ef7c84"/></linearGradient>
<linearGradient id="h32" x1="0" y1="0" x2="0" y2="1"><stop offset="0" stop-color="#9e5299"/><stop offset=".0486" stop-color="#90539a"/><stop offset=".1057" stop-color="#9d5299"/><stop offset=".1157" stop-color="#a25299"/><stop offset=".1286" stop-color="#b2559a"/><stop offset=".1357" stop-color="#c65a9d"/><stop offset=".1429" stop-color="#e262a0"/><stop offset=".1486" stop-color="#ec699a"/><stop offset=".1557" stop-color="#ee6f91"/><stop offset=".1757" stop-color="#ef7b85"/><stop offset=".2043" stop-color="#f0847c"/><stop offset=".2386" stop-color="#f39b6f"/><stop offset=".2457" stop-color="#f39a70"/><stop offset=".2514" stop-color="#f29075"/><stop offset=".2557" stop-color="#f0847c"/><stop offset=".2643" stop-color="#ec689b"/><stop offset=".2671" stop-color="#dd619f"/><stop offset=".2714" stop-color="#b6569b"/><stop offset=".2743" stop-color="#a75399"/><stop offset=".2771" stop-color="#9e5299"/><stop offset=".2886" stop-color="#87549a"/><stop offset=".3071" stop-color="#6f5799"/><stop offset=".3214" stop-color="#625896"/><stop offset=".3457" stop-color="#57548c"/><stop offset=".4314" stop-color="#4f4e82"/><stop offset=".5029" stop-color="#4f4e81"/><stop offset=".5543" stop-color="#545288"/><stop offset=".5614" stop-color="#59558f"/><stop offset=".5671" stop-color="#625895"/><stop offset=".5714" stop-color="#73579a"/><stop offset=".5786" stop-color="#9d5299"/><stop offset=".5814" stop-color="#a55399"/><stop offset=".5857" stop-color="#99539a"/><stop offset=".5929" stop-color="#72579a"/><stop offset=".5957" stop-color="#665897"/><stop offset=".6" stop-color="#5d5691"/><stop offset=".6086" stop-color="#55538a"/><stop offset=".6471" stop-color="#4f4e82"/><stop offset=".75" stop-color="#504e82"/><stop offset=".7886" stop-color="#5a5690"/><stop offset=".8" stop-color="#645896"/><stop offset=".8229" stop-color="#83559a"/><stop offset=".8271" stop-color="#8d549a"/><stop offset=".8314" stop-color="#a35299"/><stop offset=".8329" stop-color="#b4559b"/><stop offset=".8357" stop-color="#e5649f"/><stop offset=".8371" stop-color="#ed6a99"/><stop offset=".8414" stop-color="#f0857b"/><stop offset=".8429" stop-color="#f18d77"/><stop offset=".8471" stop-color="#f39871"/><stop offset=".8529" stop-color="#f39971"/><stop offset=".8629" stop-color="#f0857c"/><stop offset=".8729" stop-color="#ee7090"/><stop offset=".8786" stop-color="#ec699b"/><stop offset=".8829" stop-color="#e463a0"/><stop offset=".8914" stop-color="#b4559b"/><stop offset=".8971" stop-color="#a05299"/><stop offset=".9129" stop-color="#92539a"/><stop offset=".9271" stop-color="#8a549a"/><stop offset=".9429" stop-color="#91539a"/><stop offset=".9543" stop-color="#a15299"/><stop offset=".9629" stop-color="#bb579b"/><stop offset=".97" stop-color="#e363a0"/><stop offset=".9743" stop-color="#ec699b"/><stop offset=".9843" stop-color="#ee728e"/><stop offset="1" stop-color="#ef7a86"/></linearGradient>
<linearGradient id="h33" x1="0" y1="0" x2="0" y2="1"><stop offset="0" stop-color="#9a5299"/><stop offset=".0486" stop-color="#8c549a"/><stop offset=".1071" stop-color="#99539a"/><stop offset=".1214" stop-color="#a25299"/><stop offset=".1286" stop-color="#ab549a"/><stop offset=".1357" stop-color="#bd579c"/><stop offset=".1457" stop-color="#e5649f"/><stop offset=".15" stop-color="#ec699b"/><stop offset=".1571" stop-color="#ee6e93"/><stop offset=".1729" stop-color="#ef768a"/><stop offset=".2029" stop-color="#f08080"/><stop offset=".2386" stop-color="#f39970"/><stop offset=".2443" stop-color="#f39971"/><stop offset=".25" stop-color="#f29174"/><stop offset=".2543" stop-color="#f0867b"/><stop offset=".26" stop-color="#ee718f"/><stop offset=".2643" stop-color="#e9669d"/><stop offset=".2657" stop-color="#e262a0"/><stop offset=".27" stop-color="#b6569b"/><stop offset=".2729" stop-color="#a55299"/><stop offset=".2771" stop-color="#98539a"/><stop offset=".2871" stop-color="#85559a"/><stop offset=".3" stop-color="#72579a"/><stop offset=".3157" stop-color="#635896"/><stop offset=".3443" stop-color="#56538b"/><stop offset=".43" stop-color="#4f4e81"/><stop offset=".5029" stop-color="#4f4e81"/><stop offset=".5543" stop-color="#535187"/><stop offset=".5629" stop-color="#59558f"/><stop offset=".5686" stop-color="#645896"/><stop offset=".5714" stop-color="#705799"/><stop offset=".5786" stop-color="#98539a"/><stop offset=".5814" stop-color="#9f5299"/><stop offset=".5843" stop-color="#9a5299"/><stop offset=".5914" stop-color="#76579a"/><stop offset=".5957" stop-color="#635896"/><stop offset=".6014" stop-color="#5a558f"/><stop offset=".6086" stop-color="#555289"/><stop offset=".6471" stop-color="#4f4e82"/><stop offset=".7514" stop-color="#4f4e82"/><stop offset=".7886" stop-color="#59558f"/><stop offset=".8029" stop-color="#645896"/><stop offset=".8229" stop-color="#7d569a"/><stop offset=".8271" stop-color="#88549a"/><stop offset=".8314" stop-color="#9d5299"/><stop offset=".8329" stop-color="#ac549a"/><stop offset=".8343" stop-color="#c1589c"/><stop offset=".8357" stop-color="#dd619f"/><stop offset=".8371" stop-color="#ec689c"/><stop offset=".84" stop-color="#ef7987"/><stop offset=".8414" stop-color="#f0837d"/><stop offset=".8443" stop-color="#f29075"/><stop offset=".8471" stop-color="#f29672"/><stop offset=".8514" stop-color="#f39771"/><stop offset=".8614" stop-color="#f0857b"/><stop offset=".8714" stop-color="#ee7090"/><stop offset=".8786" stop-color="#eb679d"/><stop offset=".8814" stop-color="#e564a0"/><stop offset=".89" stop-color="#b5559b"/><stop offset=".8957" stop-color="#a05299"/><stop offset=".9086" stop-color="#92539a"/><stop offset=".9286" stop-color="#88549a"/><stop offset=".9443" stop-color="#90539a"/><stop offset=".9557" stop-color="#a15299"/><stop offset=".9629" stop-color="#b6569b"/><stop offset=".9657" stop-color="#c3599c"/><stop offset=".9714" stop-color="#e563a0"/><stop offset=".9743" stop-color="#eb689c"/><stop offset=".9843" stop-color="#ee718f"/><stop offset="1" stop-color="#ef7888"/></linearGradient>
<linearGradient id="h34" x1="0" y1="0" x2="0" y2="1"><stop offset="0" stop-color="#96539a"/><stop offset=".0486" stop-color="#88549a"/><stop offset=".1086" stop-color="#96539a"/><stop offset=".1243" stop-color="#a05299"/><stop offset=".13" stop-color="#a75399"/><stop offset=".1371" stop-color="#b9569b"/><stop offset=".1471" stop-color="#e564a0"/><stop offset=".1514" stop-color="#ec689b"/><stop offset=".1743" stop-color="#ef748c"/><stop offset=".2029" stop-color="#ef7d83"/><stop offset=".2386" stop-color="#f29672"/><stop offset=".2443" stop-color="#f29672"/><stop offset=".25" stop-color="#f18e76"/><stop offset=".2543" stop-color="#f0837d"/><stop offset=".2629" stop-color="#ec689c"/><stop offset=".2643" stop-color="#e6649f"/><stop offset=".2686" stop-color="#b8569b"/><stop offset=".2714" stop-color="#a45299"/><stop offset=".2786" stop-color="#90539a"/><stop offset=".2957" stop-color="#72579a"/><stop offset=".3114" stop-color="#625896"/><stop offset=".3429" stop-color="#55538a"/><stop offset=".4286" stop-color="#4f4e81"/><stop offset=".5029" stop-color="#4f4d81"/><stop offset=".5543" stop-color="#525086"/><stop offset=".5629" stop-color="#58558e"/><stop offset=".5686" stop-color="#615795"/><stop offset=".5714" stop-color="#6c5798"/><stop offset=".5786" stop-color="#93539a"/><stop offset=".5814" stop-color="#9a5299"/><stop offset=".5843" stop-color="#95539a"/><stop offset=".5914" stop-color="#72579a"/><stop offset=".5957" stop-color="#625895"/><stop offset=".6014" stop-color="#59558e"/><stop offset=".6086" stop-color="#545288"/><stop offset=".6457" stop-color="#4f4e81"/><stop offset=".7529" stop-color="#4f4e82"/><stop offset=".79" stop-color="#58558e"/><stop offset=".8071" stop-color="#645896"/><stop offset=".8229" stop-color="#78569a"/><stop offset=".8271" stop-color="#83559a"/><stop offset=".8314" stop-color="#98539a"/><stop offset=".8329" stop-color="#a35299"/><stop offset=".8343" stop-color="#b7569b"/><stop offset=".8357" stop-color="#d35e9e"/><stop offset=".8371" stop-color="#e9669d"/><stop offset=".84" stop-color="#ef768a"/><stop offset=".8414" stop-color="#f08080"/><stop offset=".8443" stop-color="#f18d76"/><stop offset=".8471" stop-color="#f29473"/><stop offset=".8514" stop-color="#f29572"/><stop offset=".86" stop-color="#f0867b"/><stop offset=".8714" stop-color="#ee6e92"/><stop offset=".8771" stop-color="#eb689c"/><stop offset=".8814" stop-color="#e062a0"/><stop offset=".8886" stop-color="#b6569b"/><stop offset=".8929" stop-color="#a45299"/><stop offset=".8957" stop-color="#9d5299"/><stop offset=".9057" stop-color="#91539a"/><stop offset=".9286" stop-color="#85559a"/><stop offset=".9457" stop-color="#8e539a"/><stop offset=".9571" stop-color="#a05299"/><stop offset=".9643" stop-color="#b6569b"/><stop offset=".9714" stop-color="#e062a0"/><stop offset=".9757" stop-color="#ec689c"/><stop offset=".9871" stop-color="#ee718f"/><stop offset="1" stop-color="#ef768a"/></linearGradient>
<linearGradient id="h35" x1="0" y1="0" x2="0" y2="1"><stop offset="0" stop-color="#93539a"/><stop offset=".0486" stop-color="#86549a"/><stop offset=".1086" stop-color="#93539a"/><stop offset=".13" stop-color="#a25299"/><stop offset=".1386" stop-color="#b8569b"/><stop offset=".1486" stop-color="#e5649f"/><stop offset=".1529" stop-color="#ec689b"/><stop offset=".1743" stop-color="#ee728e"/><stop offset=".2029" stop-color="#ef7b85"/><stop offset=".2386" stop-color="#f29472"/><stop offset=".2443" stop-color="#f29472"/><stop offset=".2486" stop-color="#f18f75"/><stop offset=".2529" stop-color="#f0857b"/><stop offset=".26" stop-color="#ee6d94"/><stop offset=".2629" stop-color="#e9669d"/><stop offset=".2643" stop-color="#e162a0"/><stop offset=".2686" stop-color="#b2559a"/><stop offset=".2714" stop-color="#9f5299"/><stop offset=".2757" stop-color="#92539a"/><stop offset=".29" stop-color="#76579a"/><stop offset=".3086" stop-color="#625895"/><stop offset=".3386" stop-color="#56538b"/><stop offset=".3543" stop-color="#525085"/><stop offset=".4186" stop-color="#4f4e81"/><stop offset=".5029" stop-color="#4e4d81"/><stop offset=".5543" stop-color="#525085"/><stop offset=".5629" stop-color="#57548c"/><stop offset=".5686" stop-color="#5f5793"/><stop offset=".5714" stop-color="#695898"/><stop offset=".5786" stop-color="#8f539a"/><stop offset=".5814" stop-color="#96539a"/><stop offset=".5857" stop-color="#8c549a"/><stop offset=".5914" stop-color="#705799"/><stop offset=".5957" stop-color="#605794"/><stop offset=".6" stop-color="#59558f"/><stop offset=".6086" stop-color="#535187"/><stop offset=".6457" stop-color="#4f4e81"/><stop offset=".7543" stop-color="#4f4e82"/><stop offset=".7914" stop-color="#58558d"/><stop offset=".81" stop-color="#635896"/><stop offset=".8229" stop-color="#74579a"/><stop offset=".8271" stop-color="#7f559a"/><stop offset=".8314" stop-color="#94539a"/><stop offset=".8329" stop-color="#9f5299"/><stop offset=".8343" stop-color="#b1559a"/><stop offset=".8371" stop-color="#e7659f"/><stop offset=".8386" stop-color="#ed6b96"/><stop offset=".84" stop-color="#ef748c"/><stop offset=".8429" stop-color="#f0867b"/><stop offset=".8457" stop-color="#f28f75"/><stop offset=".8514" stop-color="#f29373"/><stop offset=".86" stop-color="#f0857c"/><stop offset=".87" stop-color="#ee6f91"/><stop offset=".8757" stop-color="#ec689c"/><stop offset=".88" stop-color="#e363a0"/><stop offset=".8886" stop-color="#b2559a"/><stop offset=".8929" stop-color="#a15299"/><stop offset=".8957" stop-color="#9a5299"/><stop offset=".9043" stop-color="#90539a"/><stop offset=".9286" stop-color="#83559a"/><stop offset=".9457" stop-color="#8c549a"/><stop offset=".9586" stop-color="#a15299"/><stop offset=".9657" stop-color="#b7569b"/><stop offset=".9729" stop-color="#e463a0"/><stop offset=".9757" stop-color="#eb679d"/><stop offset=".9886" stop-color="#ee718f"/><stop offset="1" stop-color="#ef758b"/></linearGradient>
<linearGradient id="h36" x1="0" y1="0" x2="0" y2="1"><stop offset="0" stop-color="#91539a"/><stop offset=".05" stop-color="#84559a"/><stop offset=".11" stop-color="#91539a"/><stop offset=".1314" stop-color="#a25299"/><stop offset=".14" stop-color="#b9569b"/><stop offset=".1486" stop-color="#e463a0"/><stop offset=".1529" stop-color="#eb679c"/><stop offset=".1743" stop-color="#ee718f"/><stop offset=".2029" stop-color="#ef7987"/><stop offset=".2386" stop-color="#f29373"/><stop offset=".2443" stop-color="#f29373"/><stop offset=".2486" stop-color="#f18e76"/><stop offset=".2529" stop-color="#f0847c"/><stop offset=".2614" stop-color="#ec699b"/><stop offset=".2629" stop-color="#e7659e"/><stop offset=".2643" stop-color="#dc619f"/><stop offset=".2671" stop-color="#bb579b"/><stop offset=".27" stop-color="#a35299"/><stop offset=".2757" stop-color="#8f539a"/><stop offset=".2929" stop-color="#6f5799"/><stop offset=".3086" stop-color="#605794"/><stop offset=".3286" stop-color="#58558e"/><stop offset=".3514" stop-color="#525085"/><stop offset=".4129" stop-color="#4f4e81"/><stop offset=".5014" stop-color="#4e4d80"/><stop offset=".5543" stop-color="#514f84"/><stop offset=".5629" stop-color="#56538b"/><stop offset=".5686" stop-color="#5e5792"/><stop offset=".5714" stop-color="#675897"/><stop offset=".5786" stop-color="#8d549a"/><stop offset=".5814" stop-color="#93539a"/><stop offset=".5857" stop-color="#8a549a"/><stop offset=".5943" stop-color="#635896"/><stop offset=".6" stop-color="#58558e"/><stop offset=".6086" stop-color="#535187"/><stop offset=".6457" stop-color="#4f4e81"/><stop offset=".7557" stop-color="#4f4e82"/><stop offset=".7814" stop-color="#535187"/><stop offset=".7943" stop-color="#58558e"/><stop offset=".8114" stop-color="#625895"/><stop offset=".8243" stop-color="#73579a"/><stop offset=".8286" stop-color="#81559a"/><stop offset=".8329" stop-color="#9c5299"/><stop offset=".8343" stop-color="#ac549a"/><stop offset=".8371" stop-color="#e563a0"/><stop offset=".8386" stop-color="#ed6b98"/><stop offset=".84" stop-color="#ee738d"/><stop offset=".8429" stop-color="#f0847c"/><stop offset=".8457" stop-color="#f18e76"/><stop offset=".8514" stop-color="#f29273"/><stop offset=".86" stop-color="#f0837d"/><stop offset=".87" stop-color="#ee6e92"/><stop offset=".8757" stop-color="#eb679d"/><stop offset=".88" stop-color="#df62a0"/><stop offset=".8871" stop-color="#b6569b"/><stop offset=".8914" stop-color="#a35299"/><stop offset=".8957" stop-color="#98539a"/><stop offset=".9029" stop-color="#90539a"/><stop offset=".9286" stop-color="#82559a"/><stop offset=".9457" stop-color="#8b549a"/><stop offset=".96" stop-color="#a15299"/><stop offset=".9671" stop-color="#bc579b"/><stop offset=".9729" stop-color="#e262a0"/><stop offset=".9771" stop-color="#ec689c"/><stop offset=".99" stop-color="#ee718f"/><stop offset="1" stop-color="#ef748c"/></linearGradient>
<linearGradient id="h37" x1="0" y1="0" x2="0" y2="1"><stop offset="0" stop-color="#8f539a"/><stop offset=".0486" stop-color="#83559a"/><stop offset=".11" stop-color="#90539a"/><stop offset=".1257" stop-color="#9a5299"/><stop offset=".1329" stop-color="#a25299"/><stop offset=".1414" stop-color="#bb579b"/><stop offset=".15" stop-color="#e5649f"/><stop offset=".1543" stop-color="#ec689c"/><stop offset=".1743" stop-color="#ee7090"/><stop offset=".2029" stop-color="#ef7888"/><stop offset=".2386" stop-color="#f29274"/><stop offset=".2443" stop-color="#f29274"/><stop offset=".2486" stop-color="#f18d77"/><stop offset=".2529" stop-color="#f0827e"/><stop offset=".2614" stop-color="#ec689c"/><stop offset=".2629" stop-color="#e6649f"/><stop offset=".2671" stop-color="#b7569b"/><stop offset=".27" stop-color="#a05299"/><stop offset=".2757" stop-color="#8d549a"/><stop offset=".2929" stop-color="#6d5799"/><stop offset=".3086" stop-color="#5f5793"/><stop offset=".3257" stop-color="#58558e"/><stop offset=".3514" stop-color="#514f84"/><stop offset=".41" stop-color="#4f4d81"/><stop offset=".5543" stop-color="#514f84"/><stop offset=".5629" stop-color="#55538a"/><stop offset=".5686" stop-color="#5d5692"/><stop offset=".5714" stop-color="#655897"/><stop offset=".5786" stop-color="#8a549a"/><stop offset=".5814" stop-color="#90539a"/><stop offset=".5857" stop-color="#87549a"/><stop offset=".5929" stop-color="#665897"/><stop offset=".5957" stop-color="#5e5793"/><stop offset=".6" stop-color="#58558e"/><stop offset=".6086" stop-color="#525186"/><stop offset=".6457" stop-color="#4f4d81"/><stop offset=".7571" stop-color="#4f4e81"/><stop offset=".7829" stop-color="#535187"/><stop offset=".7971" stop-color="#58558e"/><stop offset=".8143" stop-color="#635896"/><stop offset=".8243" stop-color="#705799"/><stop offset=".8286" stop-color="#7e559a"/><stop offset=".8329" stop-color="#99539a"/><stop offset=".8343" stop-color="#a8539a"/><stop offset=".8357" stop-color="#c1589c"/><stop offset=".8371" stop-color="#e162a0"/><stop offset=".8386" stop-color="#ed6a99"/><stop offset=".84" stop-color="#ee718f"/><stop offset=".8429" stop-color="#f0837d"/><stop offset=".8457" stop-color="#f18d77"/><stop offset=".8514" stop-color="#f29174"/><stop offset=".8586" stop-color="#f0867b"/><stop offset=".8686" stop-color="#ee6f91"/><stop offset=".8743" stop-color="#ec689c"/><stop offset=".8786" stop-color="#e463a0"/><stop offset=".8857" stop-color="#ba579b"/><stop offset=".89" stop-color="#a65399"/><stop offset=".8957" stop-color="#97539a"/><stop offset=".9029" stop-color="#8e539a"/><stop offset=".9286" stop-color="#81559a"/><stop offset=".9457" stop-color="#89549a"/><stop offset=".9614" stop-color="#a35299"/><stop offset=".9671" stop-color="#b8569b"/><stop offset=".9743" stop-color="#e5649f"/><stop offset=".9771" stop-color="#eb689c"/><stop offset=".99" stop-color="#ee7090"/><stop offset="1" stop-color="#ee738d"/></linearGradient>
<linearGradient id="h38" x1="0" y1="0" x2="0" y2="1"><stop offset="0" stop-color="#8e539a"/><stop offset=".05" stop-color="#81559a"/><stop offset=".1114" stop-color="#8f539a"/><stop offset=".1257" stop-color="#98539a"/><stop offset=".1343" stop-color="#a35299"/><stop offset=".1414" stop-color="#b7569b"/><stop offset=".15" stop-color="#e463a0"/><stop offset=".1557" stop-color="#ec689c"/><stop offset=".1743" stop-color="#ee6f91"/><stop offset=".2043" stop-color="#ef7888"/><stop offset=".2386" stop-color="#f29174"/><stop offset=".2443" stop-color="#f29174"/><stop offset=".2514" stop-color="#f0857b"/><stop offset=".2614" stop-color="#ea679d"/><stop offset=".2629" stop-color="#e463a0"/><stop offset=".2671" stop-color="#b3559b"/><stop offset=".2686" stop-color="#a75399"/><stop offset=".2714" stop-color="#98539a"/><stop offset=".2743" stop-color="#8e539a"/><stop offset=".29" stop-color="#6f5799"/><stop offset=".3" stop-color="#635896"/><stop offset=".3186" stop-color="#59558f"/><stop offset=".35" stop-color="#514f84"/><stop offset=".3843" stop-color="#4f4e82"/><stop offset=".5543" stop-color="#504f83"/><stop offset=".5629" stop-color="#545289"/><stop offset=".5686" stop-color="#5c5691"/><stop offset=".5714" stop-color="#635896"/><stop offset=".5786" stop-color="#87549a"/><stop offset=".5814" stop-color="#8d539a"/><stop offset=".5843" stop-color="#8a549a"/><stop offset=".5929" stop-color="#645896"/><stop offset=".5957" stop-color="#5d5692"/><stop offset=".6086" stop-color="#525086"/><stop offset=".6457" stop-color="#4e4d81"/><stop offset=".7586" stop-color="#4f4e81"/><stop offset=".7829" stop-color="#525086"/><stop offset=".8029" stop-color="#5a558f"/><stop offset=".8171" stop-color="#635896"/><stop offset=".8243" stop-color="#6d5799"/><stop offset=".8286" stop-color="#7b569a"/><stop offset=".8329" stop-color="#96539a"/><stop offset=".8343" stop-color="#a35299"/><stop offset=".8357" stop-color="#bb579b"/><stop offset=".8371" stop-color="#dc609f"/><stop offset=".8386" stop-color="#ec699b"/><stop offset=".84" stop-color="#ee7090"/><stop offset=".8429" stop-color="#f0817f"/><stop offset=".8443" stop-color="#f0877a"/><stop offset=".8471" stop-color="#f18e76"/><stop offset=".8514" stop-color="#f29075"/><stop offset=".8586" stop-color="#f0847c"/><stop offset=".8686" stop-color="#ee6e92"/><stop offset=".8743" stop-color="#eb679c"/><stop offset=".8786" stop-color="#e062a0"/><stop offset=".8857" stop-color="#b7569b"/><stop offset=".89" stop-color="#a35299"/><stop offset=".8957" stop-color="#95539a"/><stop offset=".9029" stop-color="#8d549a"/><stop offset=".9286" stop-color="#7f559a"/><stop offset=".9457" stop-color="#88549a"/><stop offset=".9614" stop-color="#a15299"/><stop offset=".9671" stop-color="#b5569b"/><stop offset=".9743" stop-color="#e463a0"/><stop offset=".9771" stop-color="#ea679d"/><stop offset=".99" stop-color="#ee6f91"/><stop offset="1" stop-color="#ee728e"/></linearGradient>
<linearGradient id="h39" x1="0" y1="0" x2="0" y2="1"><stop offset="0" stop-color="#8c549a"/><stop offset=".05" stop-color="#80559a"/><stop offset=".1114" stop-color="#8d549a"/><stop offset=".1257" stop-color="#96539a"/><stop offset=".1343" stop-color="#a15299"/><stop offset=".1414" stop-color="#b5559b"/><stop offset=".15" stop-color="#e162a0"/><stop offset=".1571" stop-color="#ec689c"/><stop offset=".1743" stop-color="#ee6e92"/><stop offset=".2043" stop-color="#ef7789"/><stop offset=".2386" stop-color="#f29075"/><stop offset=".2443" stop-color="#f29075"/><stop offset=".2514" stop-color="#f0847c"/><stop offset=".2586" stop-color="#ee6d94"/><stop offset=".2614" stop-color="#e9669d"/><stop offset=".2629" stop-color="#e162a0"/><stop offset=".2657" stop-color="#bf589c"/><stop offset=".2686" stop-color="#a45299"/><stop offset=".2743" stop-color="#8d549a"/><stop offset=".29" stop-color="#6d5799"/><stop offset=".2986" stop-color="#635896"/><stop offset=".3157" stop-color="#59558f"/><stop offset=".3557" stop-color="#504f83"/><stop offset=".5543" stop-color="#504e82"/><stop offset=".5629" stop-color="#535187"/><stop offset=".5686" stop-color="#5a5690"/><stop offset=".5714" stop-color="#625895"/><stop offset=".5743" stop-color="#6f5799"/><stop offset=".5786" stop-color="#85559a"/><stop offset=".5814" stop-color="#8b549a"/><stop offset=".5857" stop-color="#82559a"/><stop offset=".5914" stop-color="#685897"/><stop offset=".5943" stop-color="#5f5793"/><stop offset=".6" stop-color="#56548c"/><stop offset=".6086" stop-color="#525085"/><stop offset=".6457" stop-color="#4e4d80"/><stop offset=".7614" stop-color="#4f4e81"/><stop offset=".7843" stop-color="#525085"/><stop offset=".8057" stop-color="#59558f"/><stop offset=".8186" stop-color="#625895"/><stop offset=".8243" stop-color="#6a5898"/><stop offset=".8286" stop-color="#78569a"/><stop offset=".8329" stop-color="#93539a"/><stop offset=".8343" stop-color="#a05299"/><stop offset=".8357" stop-color="#b6569b"/><stop offset=".8371" stop-color="#d75f9f"/><stop offset=".8386" stop-color="#eb689c"/><stop offset=".84" stop-color="#ee6e92"/><stop offset=".8443" stop-color="#f0867b"/><stop offset=".8471" stop-color="#f18d77"/><stop offset=".8514" stop-color="#f18f76"/><stop offset=".8586" stop-color="#f0837d"/><stop offset=".8671" stop-color="#ee7090"/><stop offset=".8729" stop-color="#ec689b"/><stop offset=".8771" stop-color="#e463a0"/><stop offset=".8843" stop-color="#bb579b"/><stop offset=".8886" stop-color="#a75399"/><stop offset=".8957" stop-color="#93539a"/><stop offset=".9029" stop-color="#8b549a"/><stop offset=".9286" stop-color="#7e569a"/><stop offset=".9471" stop-color="#88549a"/><stop offset=".9629" stop-color="#a25299"/><stop offset=".9686" stop-color="#ba579b"/><stop offset=".9743" stop-color="#e162a0"/><stop offset=".9786" stop-color="#eb689c"/><stop offset=".9914" stop-color="#ee6f91"/><stop offset="1" stop-color="#ee718f"/></linearGradient>
<linearGradient id="h40" x1="0" y1="0" x2="0" y2="1"><stop offset="0" stop-color="#8c549a"/><stop offset=".05" stop-color="#7f559a"/><stop offset=".1114" stop-color="#8d549a"/><stop offset=".1271" stop-color="#97539a"/><stop offset=".1357" stop-color="#a45299"/><stop offset=".1429" stop-color="#ba579b"/><stop offset=".15" stop-color="#e162a0"/><stop offset=".1571" stop-color="#ec689c"/><stop offset=".1743" stop-color="#ee6e92"/><stop offset=".2043" stop-color="#ef768a"/><stop offset=".2386" stop-color="#f29075"/><stop offset=".2443" stop-color="#f29075"/><stop offset=".2514" stop-color="#f0847c"/><stop offset=".2586" stop-color="#ee6d94"/><stop offset=".2614" stop-color="#e9669d"/><stop offset=".2629" stop-color="#e162a0"/><stop offset=".2657" stop-color="#be589c"/><stop offset=".2686" stop-color="#a35299"/><stop offset=".2743" stop-color="#8c549a"/><stop offset=".29" stop-color="#6c5798"/><stop offset=".2986" stop-color="#635896"/><stop offset=".3171" stop-color="#59558e"/><stop offset=".3557" stop-color="#504e83"/><stop offset=".5543" stop-color="#4f4e82"/><stop offset=".5629" stop-color="#535187"/><stop offset=".5686" stop-color="#59558f"/><stop offset=".5729" stop-color="#665897"/><stop offset=".5757" stop-color="#74579a"/><stop offset=".5786" stop-color="#83559a"/><stop offset=".5814" stop-color="#89549a"/><stop offset=".5843" stop-color="#85559a"/><stop offset=".5886" stop-color="#73579a"/><stop offset=".5943" stop-color="#5e5793"/><stop offset=".6" stop-color="#56538b"/><stop offset=".6086" stop-color="#515085"/><stop offset=".6471" stop-color="#4e4d80"/><stop offset=".7729" stop-color="#504e83"/><stop offset=".8071" stop-color="#58558e"/><stop offset=".8243" stop-color="#685897"/><stop offset=".8286" stop-color="#76579a"/><stop offset=".8329" stop-color="#91539a"/><stop offset=".8343" stop-color="#9e5299"/><stop offset=".8357" stop-color="#b3559b"/><stop offset=".8371" stop-color="#d35e9e"/><stop offset=".8386" stop-color="#ea679d"/><stop offset=".8414" stop-color="#ef768a"/><stop offset=".8443" stop-color="#f0857b"/><stop offset=".8457" stop-color="#f18979"/><stop offset=".8514" stop-color="#f18e76"/><stop offset=".8571" stop-color="#f0857b"/><stop offset=".8671" stop-color="#ee6f91"/><stop offset=".8729" stop-color="#ec689c"/><stop offset=".8771" stop-color="#e162a0"/><stop offset=".8843" stop-color="#b8569b"/><stop offset=".8886" stop-color="#a55399"/><stop offset=".8957" stop-color="#92539a"/><stop offset=".9029" stop-color="#8a549a"/><stop offset=".9286" stop-color="#7c569a"/><stop offset=".9471" stop-color="#87549a"/><stop offset=".9629" stop-color="#a05299"/><stop offset=".9686" stop-color="#b7569b"/><stop offset=".9743" stop-color="#df61a0"/><stop offset=".9757" stop-color="#e5649f"/><stop offset=".9786" stop-color="#eb679d"/><stop offset=".9914" stop-color="#ee6e92"/><stop offset="1" stop-color="#ee7090"/></linearGradient>
<linearGradient id="h41" x1="0" y1="0" x2="0" y2="1"><stop offset="0" stop-color="#8c549a"/><stop offset=".05" stop-color="#7f559a"/><stop offset=".1114" stop-color="#8d549a"/><stop offset=".1271" stop-color="#97539a"/><stop offset=".1357" stop-color="#a45299"/><stop offset=".1429" stop-color="#ba579b"/><stop offset=".15" stop-color="#e162a0"/><stop offset=".1571" stop-color="#ec689c"/><stop offset=".1743" stop-color="#ee6e92"/><stop offset=".2043" stop-color="#ef768a"/><stop offset=".2386" stop-color="#f29075"/><stop offset=".2443" stop-color="#f29075"/><stop offset=".2514" stop-color="#f0847c"/><stop offset=".2586" stop-color="#ee6d94"/><stop offset=".2614" stop-color="#e9669d"/><stop offset=".2629" stop-color="#e162a0"/><stop offset=".2657" stop-color="#be589c"/><stop offset=".2686" stop-color="#a35299"/><stop offset=".2743" stop-color="#8c549a"/><stop offset=".29" stop-color="#6c5798"/><stop offset=".2986" stop-color="#635896"/><stop offset=".3171" stop-color="#59558e"/><stop offset=".3557" stop-color="#504e83"/><stop offset=".5543" stop-color="#4f4e81"/><stop offset=".5629" stop-color="#525086"/><stop offset=".5686" stop-color="#59558e"/><stop offset=".5729" stop-color="#655896"/><stop offset=".5757" stop-color="#73579a"/><stop offset=".5786" stop-color="#81559a"/><stop offset=".5814" stop-color="#87549a"/><stop offset=".5843" stop-color="#84559a"/><stop offset=".5886" stop-color="#72579a"/><stop offset=".5943" stop-color="#5e5792"/><stop offset=".6" stop-color="#55538a"/><stop offset=".6086" stop-color="#514f84"/><stop offset=".6486" stop-color="#4e4d80"/><stop offset=".7786" stop-color="#504f83"/><stop offset=".81" stop-color="#58558e"/><stop offset=".8214" stop-color="#625895"/><stop offset=".8257" stop-color="#695898"/><stop offset=".8286" stop-color="#74579a"/><stop offset=".8329" stop-color="#8f539a"/><stop offset=".8343" stop-color="#9c5299"/><stop offset=".8357" stop-color="#b0559a"/><stop offset=".8371" stop-color="#d05d9e"/><stop offset=".8386" stop-color="#e9669d"/><stop offset=".8414" stop-color="#ef768a"/><stop offset=".8443" stop-color="#f0847c"/><stop offset=".8471" stop-color="#f18b78"/><stop offset=".8514" stop-color="#f18d77"/><stop offset=".8571" stop-color="#f0857c"/><stop offset=".8671" stop-color="#ee6e92"/><stop offset=".8729" stop-color="#eb679d"/><stop offset=".8771" stop-color="#df61a0"/><stop offset=".8843" stop-color="#b7569b"/><stop offset=".8886" stop-color="#a35299"/><stop offset=".8957" stop-color="#91539a"/><stop offset=".9029" stop-color="#89549a"/><stop offset=".9286" stop-color="#7c569a"/><stop offset=".9471" stop-color="#86549a"/><stop offset=".9629" stop-color="#9f5299"/><stop offset=".9686" stop-color="#b6569b"/><stop offset=".9757" stop-color="#e563a0"/><stop offset=".9786" stop-color="#ea679d"/><stop offset=".9914" stop-color="#ee6d93"/><stop offset="1" stop-color="#ee6f91"/></linearGradient>
<linearGradient id="h42" x1="0" y1="0" x2="0" y2="1"><stop offset="0" stop-color="#8c549a"/><stop offset=".05" stop-color="#7f559a"/><stop offset=".1114" stop-color="#8d549a"/><stop offset=".1271" stop-color="#97539a"/><stop offset=".1357" stop-color="#a45299"/><stop offset=".1429" stop-color="#ba579b"/><stop offset=".15" stop-color="#e162a0"/><stop offset=".1571" stop-color="#ec689c"/><stop offset=".1743" stop-color="#ee6e92"/><stop offset=".2043" stop-color="#ef768a"/><stop offset=".2386" stop-color="#f29075"/><stop offset=".2443" stop-color="#f29075"/><stop offset=".2514" stop-color="#f0847c"/><stop offset=".2586" stop-color="#ee6d94"/><stop offset=".2614" stop-color="#e9669d"/><stop offset=".2629" stop-color="#e162a0"/><stop offset=".2657" stop-color="#be589c"/><stop offset=".2686" stop-color="#a35299"/><stop offset=".2743" stop-color="#8c549a"/><stop offset=".29" stop-color="#6c5798"/><stop offset=".2986" stop-color="#635896"/><stop offset=".3171" stop-color="#59558e"/><stop offset=".3557" stop-color="#504e83"/><stop offset=".5557" stop-color="#4f4e81"/><stop offset=".5643" stop-color="#535187"/><stop offset=".57" stop-color="#5b5690"/><stop offset=".5729" stop-color="#635896"/><stop offset=".5757" stop-color="#71579a"/><stop offset=".5786" stop-color="#80559a"/><stop offset=".5814" stop-color="#86549a"/><stop offset=".5843" stop-color="#82559a"/><stop offset=".5886" stop-color="#71579a"/><stop offset=".5943" stop-color="#5d5692"/><stop offset=".6" stop-color="#55538a"/><stop offset=".6086" stop-color="#514f84"/><stop offset=".6471" stop-color="#4e4d80"/><stop offset=".78" stop-color="#504f83"/><stop offset=".81" stop-color="#57548d"/><stop offset=".8229" stop-color="#625895"/><stop offset=".8257" stop-color="#685897"/><stop offset=".8286" stop-color="#72579a"/><stop offset=".8329" stop-color="#8e539a"/><stop offset=".8343" stop-color="#9b5299"/><stop offset=".8357" stop-color="#ae549a"/><stop offset=".8386" stop-color="#e8669e"/><stop offset=".8414" stop-color="#ef758b"/><stop offset=".8443" stop-color="#f0837d"/><stop offset=".8457" stop-color="#f0887a"/><stop offset=".8514" stop-color="#f18c77"/><stop offset=".8571" stop-color="#f0847c"/><stop offset=".8657" stop-color="#ee7090"/><stop offset=".8714" stop-color="#ec689b"/><stop offset=".8757" stop-color="#e463a0"/><stop offset=".8843" stop-color="#b5559b"/><stop offset=".8886" stop-color="#a25299"/><stop offset=".8943" stop-color="#92539a"/><stop offset=".9014" stop-color="#89549a"/><stop offset=".9286" stop-color="#7b569a"/><stop offset=".9471" stop-color="#85559a"/><stop offset=".9643" stop-color="#a15299"/><stop offset=".9686" stop-color="#b4559b"/><stop offset=".9757" stop-color="#e463a0"/><stop offset=".9786" stop-color="#e9669d"/><stop offset=".9914" stop-color="#ee6d93"/><stop offset="1" stop-color="#ee6f91"/></linearGradient>
<linearGradient id="h43" x1="0" y1="0" x2="0" y2="1"><stop offset="0" stop-color="#8c549a"/><stop offset=".05" stop-color="#7f559a"/><stop offset=".1114" stop-color="#8d549a"/><stop offset=".1271" stop-color="#97539a"/><stop offset=".1357" stop-color="#a45299"/><stop offset=".1429" stop-color="#ba579b"/><stop offset=".15" stop-color="#e162a0"/><stop offset=".1571" stop-color="#ec689c"/><stop offset=".1743" stop-color="#ee6e92"/><stop offset=".2043" stop-color="#ef768a"/><stop offset=".2386" stop-color="#f29075"/><stop offset=".2443" stop-color="#f29075"/><stop offset=".2514" stop-color="#f0847c"/><stop offset=".2586" stop-color="#ee6d94"/><stop offset=".2614" stop-color="#e9669d"/><stop offset=".2629" stop-color="#e162a0"/><stop offset=".2657" stop-color="#be589c"/><stop offset=".2686" stop-color="#a35299"/><stop offset=".2743" stop-color="#8c549a"/><stop offset=".29" stop-color="#6c5798"/><stop offset=".2986" stop-color="#635896"/><stop offset=".3171" stop-color="#59558e"/><stop offset=".3557" stop-color="#504e83"/><stop offset=".5557" stop-color="#4f4d81"/><stop offset=".5643" stop-color="#535186"/><stop offset=".57" stop-color="#5b5690"/><stop offset=".5729" stop-color="#635896"/><stop offset=".5757" stop-color="#71579a"/><stop offset=".5786" stop-color="#7f559a"/><stop offset=".5814" stop-color="#85559a"/><stop offset=".5843" stop-color="#82559a"/><stop offset=".5914" stop-color="#645896"/><stop offset=".5943" stop-color="#5d5692"/><stop offset=".6" stop-color="#55538a"/><stop offset=".6086" stop-color="#514f84"/><stop offset=".6471" stop-color="#4e4d80"/><stop offset=".7814" stop-color="#504f83"/><stop offset=".81" stop-color="#57548d"/><stop offset=".8214" stop-color="#605794"/><stop offset=".8257" stop-color="#675897"/><stop offset=".8286" stop-color="#71579a"/><stop offset=".8329" stop-color="#8d549a"/><stop offset=".8343" stop-color="#9a5299"/><stop offset=".8357" stop-color="#ad549a"/><stop offset=".8386" stop-color="#e8659e"/><stop offset=".8414" stop-color="#ef758b"/><stop offset=".8443" stop-color="#f0837d"/><stop offset=".8457" stop-color="#f0877a"/><stop offset=".8514" stop-color="#f18c77"/><stop offset=".8571" stop-color="#f0847c"/><stop offset=".8657" stop-color="#ee7090"/><stop offset=".8714" stop-color="#ec689b"/><stop offset=".8757" stop-color="#e463a0"/><stop offset=".8871" stop-color="#a75399"/><stop offset=".8943" stop-color="#92539a"/><stop offset=".9014" stop-color="#89549a"/><stop offset=".9286" stop-color="#7a569a"/><stop offset=".9471" stop-color="#85559a"/><stop offset=".9643" stop-color="#a15299"/><stop offset=".9686" stop-color="#b4559b"/><stop offset=".9757" stop-color="#e363a0"/><stop offset=".9786" stop-color="#e9669d"/><stop offset=".9914" stop-color="#ee6d94"/><stop offset="1" stop-color="#ee6e92"/></linearGradient>
<linearGradient id="h44" x1="0" y1="0" x2="0" y2="1"><stop offset="0" stop-color="#8c549a"/><stop offset=".05" stop-color="#7f559a"/><stop offset=".1114" stop-color="#8d549a"/><stop offset=".1271" stop-color="#97539a"/><stop offset=".1357" stop-color="#a45299"/><stop offset=".1429" stop-color="#ba579b"/><stop offset=".15" stop-color="#e162a0"/><stop offset=".1571" stop-color="#ec689c"/><stop offset=".1743" stop-color="#ee6e92"/><stop offset=".2043" stop-color="#ef768a"/><stop offset=".2386" stop-color="#f29075"/><stop offset=".2443" stop-color="#f29075"/><stop offset=".2514" stop-color="#f0847c"/><stop offset=".2586" stop-color="#ee6d94"/><stop offset=".2614" stop-color="#e9669d"/><stop offset=".2629" stop-color="#e162a0"/><stop offset=".2657" stop-color="#be589c"/><stop offset=".2686" stop-color="#a35299"/><stop offset=".2743" stop-color="#8c549a"/><stop offset=".29" stop-color="#6c5798"/><stop offset=".2986" stop-color="#635896"/><stop offset=".3171" stop-color="#59558e"/><stop offset=".3557" stop-color="#504e83"/><stop offset=".5557" stop-color="#4f4d81"/><stop offset=".5643" stop-color="#525086"/><stop offset=".57" stop-color="#5a5690"/><stop offset=".5729" stop-color="#625896"/><stop offset=".5757" stop-color="#70579a"/><stop offset=".5786" stop-color="#7e559a"/><stop offset=".5814" stop-color="#85559a"/><stop offset=".5843" stop-color="#81559a"/><stop offset=".5914" stop-color="#645896"/><stop offset=".5943" stop-color="#5d5691"/><stop offset=".6" stop-color="#555289"/><stop offset=".6086" stop-color="#514f84"/><stop offset=".6471" stop-color="#4e4d80"/><stop offset=".7814" stop-color="#504e83"/><stop offset=".81" stop-color="#57548c"/><stop offset=".8257" stop-color="#665897"/><stop offset=".8286" stop-color="#71579a"/><stop offset=".8329" stop-color="#8d549a"/><stop offset=".8343" stop-color="#99539a"/><stop offset=".8357" stop-color="#ac549a"/><stop offset=".8386" stop-color="#e7659e"/><stop offset=".8414" stop-color="#ef748c"/><stop offset=".8443" stop-color="#f0837d"/><stop offset=".8457" stop-color="#f0877a"/><stop offset=".8514" stop-color="#f18c77"/><stop offset=".8571" stop-color="#f0837d"/><stop offset=".8657" stop-color="#ee7090"/><stop offset=".8714" stop-color="#ec689c"/><stop offset=".8757" stop-color="#e363a0"/><stop offset=".8829" stop-color="#bb579b"/><stop offset=".8871" stop-color="#a75399"/><stop offset=".8943" stop-color="#92539a"/><stop offset=".9014" stop-color="#88549a"/><stop offset=".9286" stop-color="#7a569a"/><stop offset=".9471" stop-color="#84559a"/><stop offset=".9643" stop-color="#a15299"/><stop offset=".9686" stop-color="#b3559b"/><stop offset=".9757" stop-color="#e363a0"/><stop offset=".9786" stop-color="#e9669e"/><stop offset=".9914" stop-color="#ee6d94"/><stop offset="1" stop-color="#ee6e92"/></linearGradient>
<linearGradient id="cb" x1="0" y1="1" x2="0" y2="0"><stop offset="0" stop-color="#3d2a62"/><stop offset="0.0312" stop-color="#402a68"/><stop offset="0.0625" stop-color="#452a70"/><stop offset="0.1041" stop-color="#492a73"/><stop offset="0.1562" stop-color="#552a74"/><stop offset="0.2082" stop-color="#652a76"/><stop offset="0.2603" stop-color="#772a78"/><stop offset="0.3124" stop-color="#8b2a7b"/><stop offset="0.3644" stop-color="#a22a7e"/><stop offset="0.4165" stop-color="#bf2a80"/><stop offset="0.4581" stop-color="#da2c7f"/><stop offset="0.4894" stop-color="#e43a75"/><stop offset="0.5206" stop-color="#e8486a"/><stop offset="0.5727" stop-color="#ea5559"/><stop offset="0.6247" stop-color="#ec684c"/><stop offset="0.6768" stop-color="#ef7a44"/><stop offset="0.7289" stop-color="#f18b3e"/><stop offset="0.7809" stop-color="#f59c3a"/><stop offset="0.833" stop-color="#f8b03a"/><stop offset="0.885" stop-color="#fac53e"/><stop offset="0.9163" stop-color="#f8d840"/><stop offset="0.9475" stop-color="#f3e644"/><stop offset="0.9996" stop-color="#f0ea48"/></linearGradient>
<clipPath id="cliph"><rect x="160.5" y="76.2" width="704.5" height="879.2"/></clipPath>
<filter id="hb" filterUnits="userSpaceOnUse" x="80.5" y="66.2" width="864.5" height="899.2" color-interpolation-filters="sRGB"><feGaussianBlur stdDeviation="9 0.01"/></filter>
<clipPath id="clipb"><rect x="1367.2" y="60" width="1034.5" height="870"/></clipPath>
<clipPath id="clipc"><rect x="758" y="1190" width="1004.6" height="800"/></clipPath>
</defs>
<g clip-path="url(#cliph)"><g filter="url(#hb)">
<rect x="100.5" y="76.2" width="75.66" height="879.2" fill="url(#h0)"/>
<rect x="176.16" y="76.2" width="16.26" height="879.2" fill="url(#h1)"/>
<rect x="191.81" y="76.2" width="16.26" height="879.2" fill="url(#h2)"/>
<rect x="207.47" y="76.2" width="16.26" height="879.2" fill="url(#h3)"/>
<rect x="223.12" y="76.2" width="16.26" height="879.2" fill="url(#h4)"/>
<rect x="238.78" y="76.2" width="16.26" height="879.2" fill="url(#h5)"/>
<rect x="254.43" y="76.2" width="16.26" height="879.2" fill="url(#h6)"/>
<rect x="270.09" y="76.2" width="16.26" height="879.2" fill="url(#h7)"/>
<rect x="285.74" y="76.2" width="16.26" height="879.2" fill="url(#h8)"/>
<rect x="301.4" y="76.2" width="16.26" height="879.2" fill="url(#h9)"/>
<rect x="317.06" y="76.2" width="16.26" height="879.2" fill="url(#h10)"/>
<rect x="332.71" y="76.2" width="16.26" height="879.2" fill="url(#h11)"/>
<rect x="348.37" y="76.2" width="16.26" height="879.2" fill="url(#h12)"/>
<rect x="364.02" y="76.2" width="16.26" height="879.2" fill="url(#h13)"/>
<rect x="379.68" y="76.2" width="16.26" height="879.2" fill="url(#h14)"/>
<rect x="395.33" y="76.2" width="16.26" height="879.2" fill="url(#h15)"/>
<rect x="410.99" y="76.2" width="16.26" height="879.2" fill="url(#h16)"/>
<rect x="426.64" y="76.2" width="16.26" height="879.2" fill="url(#h17)"/>
<rect x="442.3" y="76.2" width="16.26" height="879.2" fill="url(#h18)"/>
<rect x="457.96" y="76.2" width="16.26" height="879.2" fill="url(#h19)"/>
<rect x="473.61" y="76.2" width="16.26" height="879.2" fill="url(#h20)"/>
<rect x="489.27" y="76.2" width="16.26" height="879.2" fill="url(#h21)"/>
<rect x="504.92" y="76.2" width="16.26" height="879.2" fill="url(#h22)"/>
<rect x="520.58" y="76.2" width="16.26" height="879.2" fill="url(#h23)"/>
<rect x="536.23" y="76.2" width="16.26" height="879.2" fill="url(#h24)"/>
<rect x="551.89" y="76.2" width="16.26" height="879.2" fill="url(#h25)"/>
<rect x="567.54" y="76.2" width="16.26" height="879.2" fill="url(#h26)"/>
<rect x="583.2" y="76.2" width="16.26" height="879.2" fill="url(#h27)"/>
<rect x="598.86" y="76.2" width="16.26" height="879.2" fill="url(#h28)"/>
<rect x="614.51" y="76.2" width="16.26" height="879.2" fill="url(#h29)"/>
<rect x="630.17" y="76.2" width="16.26" height="879.2" fill="url(#h30)"/>
<rect x="645.82" y="76.2" width="16.26" height="879.2" fill="url(#h31)"/>
<rect x="661.48" y="76.2" width="16.26" height="879.2" fill="url(#h32)"/>
<rect x="677.13" y="76.2" width="16.26" height="879.2" fill="url(#h33)"/>
<rect x="692.79" y="76.2" width="16.26" height="879.2" fill="url(#h34)"/>
<rect x="708.44" y="76.2" width="16.26" height="879.2" fill="url(#h35)"/>
<rect x="724.1" y="76.2" width="16.26" height="879.2" fill="url(#h36)"/>
<rect x="739.76" y="76.2" width="16.26" height="879.2" fill="url(#h37)"/>
<rect x="755.41" y="76.2" width="16.26" height="879.2" fill="url(#h38)"/>
<rect x="771.07" y="76.2" width="16.26" height="879.2" fill="url(#h39)"/>
<rect x="786.72" y="76.2" width="16.26" height="879.2" fill="url(#h40)"/>
<rect x="802.38" y="76.2" width="16.26" height="879.2" fill="url(#h41)"/>
<rect x="818.03" y="76.2" width="16.26" height="879.2" fill="url(#h42)"/>
<rect x="833.69" y="76.2" width="16.26" height="879.2" fill="url(#h43)"/>
<rect x="849.34" y="76.2" width="75.66" height="879.2" fill="url(#h44)"/>
</g></g>
<path d="M238.8 76.2V955.4M317.1 76.2V955.4M395.3 76.2V955.4M473.6 76.2V955.4M551.9 76.2V955.4M630.2 76.2V955.4M708.4 76.2V955.4M786.7 76.2V955.4M160.5 892H865.0M160.5 766.5H865.0M160.5 641H865.0M160.5 515.5H865.0M160.5 390.1H865.0M160.5 264.6H865.0M160.5 139.1H865.0" stroke="#1a1a40" stroke-opacity="0.07" stroke-width="1.4" fill="none"/>
<path d="M238.8 955.4v-11M317.1 955.4v-11M395.3 955.4v-11M473.6 955.4v-11M551.9 955.4v-11M630.2 955.4v-11M708.4 955.4v-11M786.7 955.4v-11M160.5 892h9M160.5 766.5h9M160.5 641h9M160.5 515.5h9M160.5 390.1h9M160.5 264.6h9M160.5 139.1h9" stroke="#30204a" stroke-opacity="0.4" stroke-width="1.5" fill="none"/>
<path d="M160.5 76.2V955.4H865.0" stroke="#3a2a3a" stroke-opacity="0.4" stroke-width="1.4" fill="none"/>
<text class="b" x="150" y="908.6" font-size="43.5" text-anchor="end">600</text>
<text class="b" x="150" y="783.1" font-size="43.5" text-anchor="end">650</text>
<text class="b" x="150" y="657.6" font-size="43.5" text-anchor="end">700</text>
<text class="b" x="150" y="532.1" font-size="43.5" text-anchor="end">750</text>
<text class="b" x="150" y="406.7" font-size="43.5" text-anchor="end">800</text>
<text class="b" x="150" y="281.2" font-size="43.5" text-anchor="end">850</text>
<text class="b" x="150" y="155.7" font-size="43.5" text-anchor="end">900</text>
<text class="b" x="160.5" y="1004.5" font-size="43.5" text-anchor="middle">0</text>
<text class="b" x="238.8" y="1004.5" font-size="43.5" text-anchor="middle">10</text>
<text class="b" x="317.1" y="1004.5" font-size="43.5" text-anchor="middle">20</text>
<text class="b" x="395.3" y="1004.5" font-size="43.5" text-anchor="middle">30</text>
<text class="b" x="473.6" y="1004.5" font-size="43.5" text-anchor="middle">40</text>
<text class="b" x="551.9" y="1004.5" font-size="43.5" text-anchor="middle">50</text>
<text class="b" x="630.2" y="1004.5" font-size="43.5" text-anchor="middle">60</text>
<text class="b" x="708.4" y="1004.5" font-size="43.5" text-anchor="middle">70</text>
<text class="b" x="786.7" y="1004.5" font-size="43.5" text-anchor="middle">80</text>
<text class="b" x="865" y="1004.5" font-size="43.5" text-anchor="middle">90</text>
<text x="21.5" y="68.8" font-size="63" textLength="84" lengthAdjust="spacingAndGlyphs">(a)</text>
<text class="b" x="563" y="54.4" font-size="42.7" textLength="494" lengthAdjust="spacingAndGlyphs">Transmittance (arb.units)</text>
<text class="b" transform="translate(55.1 729) rotate(-90)" font-size="42.6" textLength="353" lengthAdjust="spacingAndGlyphs">Wavelength (nm)</text>
<text class="b" x="345.5" y="1066" font-size="42.6" textLength="289" lengthAdjust="spacingAndGlyphs">Polarization (°)</text>
<rect x="899.0" y="76.2" width="39.3" height="879.2" fill="url(#cb)" stroke="#3a3a3a" stroke-width="1.5"/>
<text class="b" x="956" y="881.5" font-size="43.5">0.1</text>
<text class="b" x="956" y="789.9" font-size="43.5">0.2</text>
<text class="b" x="956" y="698.4" font-size="43.5">0.3</text>
<text class="b" x="956" y="606.8" font-size="43.5">0.4</text>
<text class="b" x="956" y="515.3" font-size="43.5">0.5</text>
<text class="b" x="956" y="423.7" font-size="43.5">0.6</text>
<text class="b" x="956" y="332.1" font-size="43.5">0.7</text>
<text class="b" x="956" y="240.6" font-size="43.5">0.8</text>
<text class="b" x="956" y="149" font-size="43.5">0.9</text>
<path d="M938.3 864h-7M938.3 772.4h-7M938.3 680.9h-7M938.3 589.3h-7M938.3 497.8h-7M938.3 406.2h-7M938.3 314.6h-7M938.3 223.1h-7M938.3 131.5h-7" stroke="#222" stroke-width="1.8" fill="none"/>
<path d="M1625.8 81.8V928.7M1884.5 81.8V928.7M2143.1 81.8V928.7M1367.2 740.5H2401.7M1367.2 552.3H2401.7M1367.2 364.1H2401.7M1367.2 175.9H2401.7" stroke="#8a949c" stroke-width="1.8" fill="none"/>
<g clip-path="url(#clipb)" fill="none" stroke-width="8" stroke-linejoin="round" stroke-linecap="butt">
<polyline points="1367.2,840.6 1372.4,840 1377.5,839.1 1382.7,837.8 1387.9,837 1393.1,836.7 1398.2,836.3 1403.4,835.2 1408.6,833.7 1413.8,832.5 1418.9,831.6 1424.1,830.5 1429.3,828.8 1434.4,827.3 1439.6,826.4 1444.8,825.9 1450,825 1455.1,823.4 1460.3,822 1465.5,820.9 1470.7,819.7 1475.8,817.8 1481,815.6 1486.2,813.9 1491.3,812.8 1496.5,811.6 1501.7,809.8 1506.9,808 1512,806.6 1517.2,805.3 1522.4,803.3 1527.6,800.7 1532.7,798.2 1537.9,796.2 1543.1,794.3 1548.2,792 1553.4,789.4 1558.6,787.1 1563.8,785.3 1568.9,783.2 1574.1,780.2 1579.3,776.9 1584.4,773.9 1589.6,771.1 1594.8,767.8 1600,764 1605.1,760.3 1610.3,757.2 1615.5,754.2 1620.7,750.4 1625.8,746 1631,741.6 1636.2,737.3 1641.3,732.6 1646.5,727.1 1651.7,721.3 1656.9,715.8 1662,710.5 1667.2,704.8 1672.4,698.3 1677.6,691.4 1682.7,684.7 1687.9,677.7 1693.1,669.6 1698.2,660.6 1703.4,651.4 1708.6,642.5 1713.8,633.2 1718.9,623 1724.1,612.1 1729.3,601.4 1734.5,590.5 1739.6,578.6 1744.8,565.6 1750,551.9 1755.1,538.2 1760.3,524.2 1765.5,509.4 1770.7,493.9 1775.8,478.3 1781,462.9 1786.2,447.1 1791.4,430.4 1796.5,413.2 1801.7,396 1806.9,378.9 1812,361.6 1817.2,343.9 1822.4,326.4 1827.6,309.6 1832.7,293.4 1837.9,277.3 1843.1,261.6 1848.3,246.7 1853.4,232.8 1858.6,219.7 1863.8,207.4 1868.9,196.2 1874.1,186.5 1879.3,178.3 1884.5,171.5 1889.6,166.2 1894.8,162.5 1900,160.5 1905.2,160.1 1910.3,161.3 1915.5,164.2 1920.7,168.7 1925.8,174.8 1931,182.4 1936.2,191.3 1941.4,201.5 1946.5,213.1 1951.7,225.8 1956.9,239.6 1962,254 1967.2,269.1 1972.4,284.9 1977.6,301.2 1982.7,317.9 1987.9,334.5 1993.1,351.4 1998.3,368.7 2003.4,386.2 2008.6,403.4 2013.8,420.1 2018.9,436.7 2024.1,453.3 2029.3,469.4 2034.5,484.6 2039.6,499.2 2044.8,513.7 2050,528.3 2055.2,542.2 2060.3,555.3 2065.5,567.9 2070.7,580.5 2075.8,592.7 2081,603.8 2086.2,613.7 2091.4,623.4 2096.5,633.2 2101.7,642.6 2106.9,651.1 2112.1,659.1 2117.2,667.2 2122.4,675.4 2127.6,682.9 2132.7,689.4 2137.9,695.3 2143.1,701.4 2148.3,707.3 2153.4,712.6 2158.6,717.1 2163.8,721.9 2169,727 2174.1,732.1 2179.3,736.4 2184.5,740.2 2189.6,744.1 2194.8,748.1 2200,751.6 2205.2,754.3 2210.3,756.9 2215.5,760 2220.7,763.4 2225.9,766.4 2231,768.9 2236.2,771.5 2241.4,774.5 2246.5,777.3 2251.7,779.3 2256.9,780.8 2262.1,782.6 2267.2,784.9 2272.4,787 2277.6,788.7 2282.8,790.3 2287.9,792.4 2293.1,794.8 2298.3,796.7 2303.4,797.9 2308.6,799 2313.8,800.5 2319,802.1 2324.1,803.2 2329.3,804 2334.5,805.3 2339.6,807.2 2344.8,809 2350,810.1 2355.2,811 2360.3,812.1 2365.5,813.5 2370.7,814.4 2375.9,814.8 2381,815.2 2386.2,816.4 2391.4,817.9 2396.5,818.9 2401.7,819.6" stroke="#4c545e"/>
<polyline points="1367.2,844.2 1372.4,843 1377.5,841.7 1382.7,840.9 1387.9,840.2 1393.1,839.1 1398.2,837.6 1403.4,836.5 1408.6,836 1413.8,835.7 1418.9,834.7 1424.1,833.4 1429.3,832.3 1434.4,831.6 1439.6,830.4 1444.8,828.7 1450,826.9 1455.1,825.7 1460.3,825 1465.5,823.9 1470.7,822.4 1475.8,821.1 1481,820.1 1486.2,819.1 1491.3,817.3 1496.5,815 1501.7,813.1 1506.9,811.7 1512,810.2 1517.2,808.2 1522.4,806.2 1527.6,804.8 1532.7,803.5 1537.9,801.7 1543.1,799.2 1548.2,796.6 1553.4,794.5 1558.6,792.3 1563.8,789.7 1568.9,786.7 1574.1,784.1 1579.3,782.1 1584.4,779.9 1589.6,776.9 1594.8,773.6 1600,770.5 1605.1,767.5 1610.3,763.9 1615.5,759.7 1620.7,755.5 1625.8,751.8 1631,748.3 1636.2,744.2 1641.3,739.4 1646.5,734.7 1651.7,730.2 1656.9,725.2 1662,719.2 1667.2,712.7 1672.4,706.4 1677.6,700.3 1682.7,693.7 1687.9,686.3 1693.1,678.7 1698.2,671.3 1703.4,663.6 1708.6,654.8 1713.8,645.1 1718.9,635 1724.1,625 1729.3,614.5 1734.5,603 1739.6,591 1744.8,579.1 1750,567.2 1755.1,554.6 1760.3,540.8 1765.5,526.4 1770.7,511.9 1775.8,497.1 1781,481.5 1786.2,465.3 1791.4,449 1796.5,433.1 1801.7,417 1806.9,400.4 1812,383.5 1817.2,366.9 1822.4,350.6 1827.6,334.2 1832.7,317.9 1837.9,301.9 1843.1,286.8 1848.3,272.5 1853.4,258.9 1858.6,246.1 1863.8,234.3 1868.9,223.8 1874.1,214.5 1879.3,206.4 1884.5,199.6 1889.6,194.3 1894.8,190.7 1900,188.7 1905.2,188.2 1910.3,189.4 1915.5,192.1 1920.7,196.5 1925.8,202.4 1931,209.7 1936.2,218.3 1941.4,228.2 1946.5,239.4 1951.7,251.5 1956.9,264.4 1962,278.4 1967.2,293.2 1972.4,308.7 1977.6,324.5 1982.7,340.5 1987.9,357 1993.1,373.7 1998.3,390.3 2003.4,406.5 2008.6,422.6 2013.8,438.9 2018.9,455.3 2024.1,471.1 2029.3,486.3 2034.5,501.4 2039.6,516.5 2044.8,531 2050,544.4 2055.2,557 2060.3,569.5 2065.5,581.9 2070.7,593.7 2075.8,604.6 2081,615.1 2086.2,625.8 2091.4,636.2 2096.5,645.6 2101.7,654 2106.9,662.1 2112.1,670.2 2117.2,677.8 2122.4,684.6 2127.6,690.8 2132.7,697.3 2137.9,704.1 2143.1,710.4 2148.3,715.7 2153.4,720.7 2158.6,725.9 2163.8,730.9 2169,735.2 2174.1,738.7 2179.3,742.3 2184.5,746.4 2189.6,750.6 2194.8,754.1 2200,757.3 2205.2,760.7 2210.3,764.3 2215.5,767.4 2220.7,769.7 2225.9,771.7 2231,774.2 2236.2,777 2241.4,779.3 2246.5,781.3 2251.7,783.4 2256.9,786.1 2262.1,788.8 2267.2,790.7 2272.4,792.1 2277.6,793.6 2282.8,795.5 2287.9,797.2 2293.1,798.4 2298.3,799.5 2303.4,801.3 2308.6,803.5 2313.8,805.3 2319,806.4 2324.1,807.5 2329.3,809 2334.5,810.5 2339.6,811.4 2344.8,811.8 2350,812.7 2355.2,814.2 2360.3,815.7 2365.5,816.7 2370.7,817.6 2375.9,818.8 2381,820.2 2386.2,821.2 2391.4,821.5 2396.5,821.7 2401.7,822.6" stroke="#e8423d"/>
<polyline points="1367.2,847.4 1372.4,846.8 1377.5,846.7 1382.7,846.4 1387.9,845.5 1393.1,844.4 1398.2,843.8 1403.4,843.2 1408.6,842.1 1413.8,840.5 1418.9,839.2 1424.1,838.5 1429.3,838.1 1434.4,837.1 1439.6,835.9 1444.8,835 1450,834.5 1455.1,833.6 1460.3,831.9 1465.5,830.1 1470.7,828.8 1475.8,827.8 1481,826.6 1486.2,825 1491.3,823.6 1496.5,822.8 1501.7,822 1506.9,820.4 1512,818.3 1517.2,816.4 1522.4,815 1527.6,813.3 1532.7,811.1 1537.9,808.9 1543.1,807.3 1548.2,806.1 1553.4,804.5 1558.6,802.2 1563.8,799.7 1568.9,797.7 1574.1,795.6 1579.3,792.8 1584.4,789.6 1589.6,786.7 1594.8,784.5 1600,782.1 1605.1,779.1 1610.3,775.8 1615.5,772.8 1620.7,769.9 1625.8,766.4 1631,762 1636.2,757.5 1641.3,753.5 1646.5,749.5 1651.7,745 1656.9,740 1662,735.1 1667.2,730.4 1672.4,725.4 1677.6,719.3 1682.7,712.5 1687.9,705.8 1693.1,699.2 1698.2,692 1703.4,683.9 1708.6,675.7 1713.8,667.8 1718.9,659.7 1724.1,650.7 1729.3,640.7 1734.5,630.3 1739.6,619.9 1744.8,609 1750,597 1755.1,584.3 1760.3,571.9 1765.5,559.5 1770.7,546.6 1775.8,532.7 1781,518.5 1786.2,504.2 1791.4,489.7 1796.5,474.5 1801.7,458.7 1806.9,443 1812,427.6 1817.2,412.4 1822.4,396.9 1827.6,381.6 1832.7,366.7 1837.9,352.4 1843.1,338.4 1848.3,324.7 1853.4,311.7 1858.6,299.6 1863.8,288.7 1868.9,278.6 1874.1,269.6 1879.3,262 1884.5,255.7 1889.6,250.9 1894.8,247.3 1900,245.2 1905.2,244.7 1910.3,245.7 1915.5,248.1 1920.7,252 1925.8,257.3 1931,264.1 1936.2,272.2 1941.4,281.4 1946.5,291.7 1951.7,303 1956.9,315.4 1962,328.5 1967.2,342.1 1972.4,356 1977.6,370.5 1982.7,385.7 1987.9,401.1 1993.1,416.5 1998.3,431.9 2003.4,447.5 2008.6,463.2 2013.8,478.5 2018.9,493 2024.1,507.2 2029.3,521.5 2034.5,535.6 2039.6,549.1 2044.8,561.9 2050,574.5 2055.2,587.3 2060.3,599.6 2065.5,610.8 2070.7,621 2075.8,631.2 2081,641.2 2086.2,650.5 2091.4,658.9 2096.5,667 2101.7,675.4 2106.9,683.7 2112.1,691.2 2117.2,697.9 2122.4,704.3 2127.6,710.8 2132.7,716.9 2137.9,722 2143.1,726.5 2148.3,731.4 2153.4,736.5 2158.6,741.4 2163.8,745.6 2169,749.5 2174.1,753.8 2179.3,758 2184.5,761.4 2189.6,764.1 2194.8,766.8 2200,769.9 2205.2,773.1 2210.3,775.7 2215.5,778 2220.7,780.8 2225.9,783.9 2231,786.7 2236.2,788.6 2241.4,790.3 2246.5,792.2 2251.7,794.4 2256.9,796.2 2262.1,797.5 2267.2,799 2272.4,801.2 2277.6,803.5 2282.8,805.3 2287.9,806.5 2293.1,807.9 2298.3,809.6 2303.4,811 2308.6,811.8 2313.8,812.5 2319,813.7 2324.1,815.5 2329.3,816.9 2334.5,817.9 2339.6,819 2344.8,820.4 2350,821.9 2355.2,822.6 2360.3,822.9 2365.5,823.4 2370.7,824.5 2375.9,825.7 2381,826.4 2386.2,827 2391.4,828.1 2396.5,829.6 2401.7,830.6" stroke="#4a5ba2"/>
<polyline points="1367.2,856.3 1372.4,855.8 1377.5,854.7 1382.7,853.3 1387.9,852.5 1393.1,852.3 1398.2,852 1403.4,851.2 1408.6,850.4 1413.8,850 1418.9,849.7 1424.1,848.8 1429.3,847.3 1434.4,846 1439.6,845.3 1444.8,844.7 1450,843.7 1455.1,842.5 1460.3,841.7 1465.5,841.4 1470.7,840.8 1475.8,839.5 1481,837.8 1486.2,836.6 1491.3,835.7 1496.5,834.4 1501.7,832.7 1506.9,831.2 1512,830.5 1517.2,829.8 1522.4,828.6 1527.6,826.8 1532.7,825.3 1537.9,824 1543.1,822.5 1548.2,820.3 1553.4,818 1558.6,816.3 1563.8,815.1 1568.9,813.6 1574.1,811.5 1579.3,809.4 1584.4,807.6 1589.6,805.8 1594.8,803.3 1600,800.2 1605.1,797.3 1610.3,795 1615.5,792.6 1620.7,789.6 1625.8,786.4 1631,783.6 1636.2,781 1641.3,777.9 1646.5,773.8 1651.7,769.5 1656.9,765.5 1662,761.5 1667.2,756.9 1672.4,751.8 1677.6,746.9 1682.7,742.3 1687.9,737.5 1693.1,731.7 1698.2,725.3 1703.4,718.9 1708.6,712.4 1713.8,705.3 1718.9,697.2 1724.1,689 1729.3,681 1734.5,673 1739.6,664.3 1744.8,654.7 1750,644.8 1755.1,635 1760.3,624.6 1765.5,613.1 1770.7,601 1775.8,588.9 1781,577 1786.2,564.7 1791.4,551.8 1796.5,538.6 1801.7,525.6 1806.9,512.5 1812,499 1817.2,485 1822.4,471.2 1827.6,457.7 1832.7,444.6 1837.9,431.6 1843.1,418.9 1848.3,406.9 1853.4,395.7 1858.6,385.1 1863.8,375.1 1868.9,365.9 1874.1,357.9 1879.3,350.9 1884.5,345.1 1889.6,340.4 1894.8,337 1900,335.1 1905.2,334.4 1910.3,335.1 1915.5,337.1 1920.7,340.4 1925.8,345.1 1931,350.9 1936.2,357.8 1941.4,365.7 1946.5,374.8 1951.7,384.8 1956.9,395.7 1962,407.1 1967.2,419.1 1972.4,431.9 1977.6,445.1 1982.7,458.4 1987.9,471.6 1993.1,485 1998.3,498.7 2003.4,512.4 2008.6,525.8 2013.8,538.9 2018.9,552.2 2024.1,565.6 2029.3,578.4 2034.5,590.4 2039.6,601.9 2044.8,613.3 2050,624.5 2055.2,634.8 2060.3,644.4 2065.5,653.9 2070.7,663.8 2075.8,673.2 2081,681.7 2086.2,689.5 2091.4,697.1 2096.5,704.7 2101.7,711.6 2106.9,717.4 2112.1,723 2117.2,728.9 2122.4,735 2127.6,740.4 2132.7,745.2 2137.9,749.9 2143.1,754.8 2148.3,759.4 2153.4,763.1 2158.6,766.2 2163.8,769.5 2169,773.1 2174.1,776.5 2179.3,779.3 2184.5,782.1 2189.6,785.3 2194.8,788.7 2200,791.4 2205.2,793.4 2210.3,795.3 2215.5,797.5 2220.7,799.8 2225.9,801.5 2231,803 2236.2,804.9 2241.4,807.3 2246.5,809.6 2251.7,811.2 2256.9,812.5 2262.1,814.1 2267.2,815.8 2272.4,817.1 2277.6,817.8 2282.8,818.7 2287.9,820.2 2293.1,822 2298.3,823.4 2303.4,824.3 2308.6,825.5 2313.8,827.1 2319,828.4 2324.1,828.9 2329.3,829.2 2334.5,830 2339.6,831.2 2344.8,832.3 2350,832.9 2355.2,833.6 2360.3,834.9 2365.5,836.4 2370.7,837.1 2375.9,837.3 2381,837.7 2386.2,838.5 2391.4,839.3 2396.5,839.5 2401.7,839.8" stroke="#36a866"/>
<polyline points="1367.2,864.4 1372.4,863.7 1377.5,863.2 1382.7,863.2 1387.9,863 1393.1,862.1 1398.2,860.9 1403.4,860 1408.6,859.7 1413.8,859.3 1418.9,858.5 1424.1,857.7 1429.3,857.5 1434.4,857.5 1439.6,857 1444.8,855.8 1450,854.6 1455.1,854 1460.3,853.4 1465.5,852.3 1470.7,851 1475.8,850.2 1481,850.1 1486.2,849.7 1491.3,848.7 1496.5,847.5 1501.7,846.6 1506.9,845.9 1512,844.7 1517.2,843 1522.4,841.5 1527.6,840.7 1532.7,840.1 1537.9,839 1543.1,837.6 1548.2,836.4 1553.4,835.6 1558.6,834.4 1563.8,832.5 1568.9,830.3 1574.1,828.6 1579.3,827.4 1584.4,825.9 1589.6,823.9 1594.8,822.1 1600,820.7 1605.1,819.4 1610.3,817.3 1615.5,814.6 1620.7,812 1625.8,809.8 1631,807.5 1636.2,804.6 1641.3,801.5 1646.5,798.9 1651.7,796.6 1656.9,793.9 1662,790.4 1667.2,786.6 1672.4,783 1677.6,779.4 1682.7,775 1687.9,770 1693.1,765.3 1698.2,760.9 1703.4,756.4 1708.6,751.2 1713.8,745.3 1718.9,739.6 1724.1,733.8 1729.3,727.2 1734.5,719.7 1739.6,711.8 1744.8,704.2 1750,696.7 1755.1,688.5 1760.3,679.6 1765.5,670.6 1770.7,661.7 1775.8,652.3 1781,642 1786.2,631.1 1791.4,620.2 1796.5,609.4 1801.7,598.3 1806.9,586.7 1812,575.1 1817.2,563.8 1822.4,552.7 1827.6,541.3 1832.7,529.8 1837.9,518.5 1843.1,507.7 1848.3,497.3 1853.4,487.2 1858.6,477.6 1863.8,468.9 1868.9,461.1 1874.1,454.1 1879.3,447.8 1884.5,442.5 1889.6,438.3 1894.8,435.2 1900,433.2 1905.2,432.3 1910.3,432.7 1915.5,434.2 1920.7,436.8 1925.8,440.6 1931,445.4 1936.2,451.3 1941.4,458.2 1946.5,466 1951.7,474.4 1956.9,483.4 1962,493.1 1967.2,503.5 1972.4,514.3 1977.6,525.3 1982.7,536.6 1987.9,548.4 1993.1,560.4 1998.3,572.2 2003.4,583.6 2008.6,594.9 2013.8,606.4 2018.9,617.6 2024.1,628.2 2029.3,638.4 2034.5,648.8 2039.6,659.3 2044.8,669.2 2050,678.3 2055.2,687 2060.3,695.6 2065.5,704 2070.7,711.4 2075.8,717.9 2081,724.5 2086.2,731.4 2091.4,738.1 2096.5,744 2101.7,749.3 2106.9,754.8 2112.1,760.3 2117.2,765.2 2122.4,769.1 2127.6,772.6 2132.7,776.5 2137.9,780.5 2143.1,784.1 2148.3,787.1 2153.4,790.2 2158.6,793.8 2163.8,797.3 2169,799.9 2174.1,801.9 2179.3,804.1 2184.5,806.6 2189.6,808.8 2194.8,810.4 2200,812 2205.2,814.2 2210.3,816.8 2215.5,818.9 2220.7,820.3 2225.9,821.7 2231,823.4 2236.2,825.1 2241.4,826.1 2246.5,826.8 2251.7,827.9 2256.9,829.6 2262.1,831.3 2267.2,832.4 2272.4,833.4 2277.6,834.7 2282.8,836.3 2287.9,837.3 2293.1,837.6 2298.3,838 2303.4,839 2308.6,840.2 2313.8,841 2319,841.6 2324.1,842.5 2329.3,843.9 2334.5,845.1 2339.6,845.6 2344.8,845.7 2350,846.2 2355.2,847.1 2360.3,847.7 2365.5,847.8 2370.7,848.2 2375.9,849.2 2381,850.5 2386.2,851.3 2391.4,851.5 2396.5,851.8 2401.7,852.5" stroke="#9a6bad"/>
<polyline points="1367.2,873.1 1372.4,872.7 1377.5,872.7 1382.7,872.4 1387.9,871.7 1393.1,871.3 1398.2,871.6 1403.4,871.7 1408.6,871.2 1413.8,870.2 1418.9,869.5 1424.1,869.3 1429.3,868.8 1434.4,867.9 1439.6,867.1 1444.8,866.9 1450,867.2 1455.1,867 1460.3,866.2 1465.5,865.4 1470.7,865 1475.8,864.6 1481,863.6 1486.2,862.3 1491.3,861.5 1496.5,861.4 1501.7,861.2 1506.9,860.5 1512,859.6 1517.2,859.1 1522.4,858.8 1527.6,858 1532.7,856.5 1537.9,855.1 1543.1,854.4 1548.2,853.8 1553.4,852.9 1558.6,851.7 1563.8,850.9 1568.9,850.5 1574.1,849.9 1579.3,848.4 1584.4,846.7 1589.6,845.3 1594.8,844.3 1600,842.9 1605.1,841.1 1610.3,839.5 1615.5,838.5 1620.7,837.7 1625.8,836.2 1631,834.1 1636.2,832.1 1641.3,830.5 1646.5,828.6 1651.7,826 1656.9,823.2 1662,820.9 1667.2,819.1 1672.4,817 1677.6,814.2 1682.7,811.1 1687.9,808.4 1693.1,805.6 1698.2,802 1703.4,797.7 1708.6,793.4 1713.8,789.6 1718.9,785.8 1724.1,781.2 1729.3,776.3 1734.5,771.5 1739.6,766.8 1744.8,761.5 1750,755.2 1755.1,748.4 1760.3,741.8 1765.5,735.2 1770.7,728 1775.8,720.2 1781,712.4 1786.2,704.9 1791.4,697.1 1796.5,688.5 1801.7,679.4 1806.9,670.3 1812,661.3 1817.2,652 1822.4,642.4 1827.6,632.8 1832.7,623.7 1837.9,614.9 1843.1,606.1 1848.3,597.4 1853.4,589 1858.6,581.3 1863.8,574 1868.9,567 1874.1,560.7 1879.3,555.3 1884.5,550.8 1889.6,547 1894.8,544.2 1900,542.2 1905.2,541.2 1910.3,541.2 1915.5,542.2 1920.7,544 1925.8,546.8 1931,550.5 1936.2,555.2 1941.4,560.5 1946.5,566.6 1951.7,573.4 1956.9,581 1962,589.2 1967.2,597.6 1972.4,606.1 1977.6,615.2 1982.7,624.5 1987.9,633.9 1993.1,643.1 1998.3,652.4 2003.4,662 2008.6,671.8 2013.8,681.1 2018.9,690 2024.1,698.6 2029.3,707.3 2034.5,715.7 2039.6,723.1 2044.8,730.1 2050,737.2 2055.2,744.5 2060.3,751.4 2065.5,757.4 2070.7,763.2 2075.8,769.2 2081,774.9 2086.2,779.7 2091.4,783.7 2096.5,787.6 2101.7,791.8 2106.9,796 2112.1,799.4 2117.2,802.6 2122.4,806 2127.6,809.7 2132.7,813 2137.9,815.3 2143.1,817.3 2148.3,819.6 2153.4,822 2158.6,824 2163.8,825.5 2169,827.2 2174.1,829.5 2179.3,831.9 2184.5,833.6 2189.6,834.8 2194.8,836.2 2200,837.9 2205.2,839.3 2210.3,840 2215.5,840.6 2220.7,841.8 2225.9,843.5 2231,844.9 2236.2,845.8 2241.4,846.7 2246.5,848.1 2251.7,849.4 2256.9,850 2262.1,850.1 2267.2,850.6 2272.4,851.6 2277.6,852.6 2282.8,853.2 2287.9,853.7 2293.1,854.8 2298.3,856.1 2303.4,857 2308.6,857.2 2313.8,857.3 2319,857.8 2324.1,858.6 2329.3,858.9 2334.5,859 2339.6,859.5 2344.8,860.6 2350,861.7 2355.2,862.1 2360.3,862.2 2365.5,862.6 2370.7,863.3 2375.9,863.6 2381,863.4 2386.2,863.3 2391.4,863.9 2396.5,864.9 2401.7,865.5" stroke="#c48e27"/>
<polyline points="1367.2,881.8 1372.4,881.9 1377.5,881.3 1382.7,880.6 1387.9,880.2 1393.1,880.2 1398.2,879.8 1403.4,879 1408.6,878.6 1413.8,878.9 1418.9,879.3 1424.1,879.1 1429.3,878.5 1434.4,878.1 1439.6,878 1444.8,877.7 1450,876.8 1455.1,875.9 1460.3,875.7 1465.5,875.9 1470.7,875.9 1475.8,875.3 1481,874.9 1486.2,874.9 1491.3,874.8 1496.5,874.1 1501.7,873 1506.9,872.2 1512,872 1517.2,871.8 1522.4,871.2 1527.6,870.5 1532.7,870.3 1537.9,870.5 1543.1,870.1 1548.2,869 1553.4,867.9 1558.6,867.3 1563.8,866.9 1568.9,866 1574.1,864.9 1579.3,864.2 1584.4,864.1 1589.6,864 1594.8,863.1 1600,861.9 1605.1,860.9 1610.3,860.3 1615.5,859.2 1620.7,857.6 1625.8,856.2 1631,855.4 1636.2,854.9 1641.3,853.9 1646.5,852.4 1651.7,851.1 1656.9,850.1 1662,848.8 1667.2,846.8 1672.4,844.5 1677.6,842.5 1682.7,841 1687.9,839.4 1693.1,837.1 1698.2,834.8 1703.4,832.9 1708.6,830.9 1713.8,828.3 1718.9,824.8 1724.1,821.3 1729.3,818.1 1734.5,814.9 1739.6,811 1744.8,806.7 1750,802.7 1755.1,799 1760.3,794.8 1765.5,789.6 1770.7,783.9 1775.8,778.4 1781,772.8 1786.2,766.6 1791.4,759.8 1796.5,753 1801.7,746.6 1806.9,740 1812,732.9 1817.2,725.4 1822.4,718 1827.6,710.7 1832.7,703.2 1837.9,695.5 1843.1,687.9 1848.3,680.7 1853.4,674 1858.6,667.5 1863.8,661.2 1868.9,655.4 1874.1,650.2 1879.3,645.6 1884.5,641.4 1889.6,637.9 1894.8,635.2 1900,633.3 1905.2,632.2 1910.3,631.8 1915.5,632.3 1920.7,633.6 1925.8,635.7 1931,638.6 1936.2,642.1 1941.4,646.2 1946.5,651.1 1951.7,656.6 1956.9,662.5 1962,668.7 1967.2,675.4 1972.4,682.7 1977.6,690.3 1982.7,697.8 1987.9,705.3 1993.1,713 1998.3,720.9 2003.4,728.5 2008.6,735.6 2013.8,742.6 2018.9,749.8 2024.1,757.1 2029.3,763.9 2034.5,770.2 2039.6,776.4 2044.8,782.7 2050,788.5 2055.2,793.5 2060.3,797.8 2065.5,802.1 2070.7,806.8 2075.8,811 2081,814.6 2086.2,818 2091.4,821.8 2096.5,825.6 2101.7,828.7 2106.9,830.9 2112.1,833 2117.2,835.4 2122.4,837.7 2127.6,839.4 2132.7,840.8 2137.9,842.7 2143.1,845 2148.3,847.1 2153.4,848.5 2158.6,849.5 2163.8,850.9 2169,852.4 2174.1,853.4 2179.3,853.8 2184.5,854.5 2189.6,855.8 2194.8,857.3 2200,858.3 2205.2,858.9 2210.3,859.9 2215.5,861.2 2220.7,862.1 2225.9,862.3 2231,862.3 2236.2,862.9 2241.4,863.8 2246.5,864.6 2251.7,864.9 2256.9,865.5 2262.1,866.6 2267.2,867.7 2272.4,868.2 2277.6,868.1 2282.8,868.2 2287.9,868.8 2293.1,869.3 2298.3,869.4 2303.4,869.4 2308.6,870.1 2313.8,871.2 2319,872 2324.1,872.1 2329.3,872.2 2334.5,872.6 2339.6,873.2 2344.8,873.2 2350,872.8 2355.2,872.9 2360.3,873.6 2365.5,874.5 2370.7,874.8 2375.9,874.8 2381,875.3 2386.2,876 2391.4,876.3 2396.5,875.9 2401.7,875.5" stroke="#4eb8a9"/>
<polyline points="1367.2,887.6 1372.4,887.1 1377.5,887.1 1382.7,887.6 1387.9,888 1393.1,887.7 1398.2,887.3 1403.4,887.2 1408.6,887.3 1413.8,886.9 1418.9,886.1 1424.1,885.6 1429.3,885.8 1434.4,886.2 1439.6,886.2 1444.8,885.8 1450,885.7 1455.1,886 1460.3,886 1465.5,885.3 1470.7,884.4 1475.8,884.1 1481,884.3 1486.2,884.2 1491.3,883.8 1496.5,883.5 1501.7,883.8 1506.9,884.2 1512,883.9 1517.2,883 1522.4,882.4 1527.6,882.3 1532.7,882.1 1537.9,881.5 1543.1,880.8 1548.2,880.8 1553.4,881.3 1558.6,881.3 1563.8,880.7 1568.9,880 1574.1,879.8 1579.3,879.6 1584.4,878.9 1589.6,877.9 1594.8,877.2 1600,877.3 1605.1,877.4 1610.3,877 1615.5,876.3 1620.7,875.9 1625.8,875.8 1631,875.3 1636.2,874 1641.3,872.8 1646.5,872.2 1651.7,872 1656.9,871.4 1662,870.4 1667.2,869.6 1672.4,869.3 1677.6,868.9 1682.7,867.6 1687.9,865.9 1693.1,864.5 1698.2,863.5 1703.4,862.2 1708.6,860.4 1713.8,858.7 1718.9,857.4 1724.1,856.3 1729.3,854.6 1734.5,852.1 1739.6,849.5 1744.8,847.1 1750,844.5 1755.1,841.2 1760.3,837.5 1765.5,834.2 1770.7,831.1 1775.8,827.7 1781,823.5 1786.2,819 1791.4,814.5 1796.5,809.8 1801.7,804.6 1806.9,798.8 1812,793 1817.2,787.4 1822.4,781.9 1827.6,776 1832.7,769.9 1837.9,763.9 1843.1,758.2 1848.3,752.4 1853.4,746.5 1858.6,740.7 1863.8,735.4 1868.9,730.5 1874.1,726 1879.3,721.8 1884.5,718.2 1889.6,715.2 1894.8,712.8 1900,710.9 1905.2,709.6 1910.3,709.1 1915.5,709.3 1920.7,710.2 1925.8,711.7 1931,713.9 1936.2,716.8 1941.4,720.5 1946.5,724.8 1951.7,729.5 1956.9,734.8 1962,740.6 1967.2,746.8 1972.4,753.2 1977.6,759.6 1982.7,766.2 1987.9,773.3 1993.1,780.5 1998.3,787.4 2003.4,793.9 2008.6,800.5 2013.8,807 2018.9,812.9 2024.1,817.9 2029.3,822.4 2034.5,826.9 2039.6,831.4 2044.8,835.1 2050,838.3 2055.2,841.4 2060.3,844.7 2065.5,847.8 2070.7,849.9 2075.8,851.5 2081,853.1 2086.2,855.1 2091.4,856.7 2096.5,857.8 2101.7,858.9 2106.9,860.6 2112.1,862.6 2117.2,864.1 2122.4,865 2127.6,865.9 2132.7,867.1 2137.9,868.2 2143.1,868.7 2148.3,868.9 2153.4,869.5 2158.6,870.7 2163.8,871.9 2169,872.5 2174.1,872.9 2179.3,873.8 2184.5,874.8 2189.6,875.3 2194.8,875.2 2200,875.1 2205.2,875.6 2210.3,876.4 2215.5,876.8 2220.7,876.9 2225.9,877.5 2231,878.5 2236.2,879.3 2241.4,879.3 2246.5,879.1 2251.7,879.2 2256.9,879.7 2262.1,880 2267.2,879.8 2272.4,879.9 2277.6,880.6 2282.8,881.6 2287.9,882 2293.1,881.9 2298.3,881.9 2303.4,882.4 2308.6,882.6 2313.8,882.4 2319,882 2324.1,882.2 2329.3,883 2334.5,883.6 2339.6,883.6 2344.8,883.7 2350,884.2 2355.2,884.7 2360.3,884.6 2365.5,884.1 2370.7,883.8 2375.9,884.2 2381,884.7 2386.2,884.8 2391.4,884.7 2396.5,885.1 2401.7,885.9" stroke="#6d4247"/>
<polyline points="1367.2,891.8 1372.4,891.9 1377.5,892 1382.7,891.5 1387.9,890.8 1393.1,890.6 1398.2,891.1 1403.4,891.5 1408.6,891.3 1413.8,891.1 1418.9,891.3 1424.1,891.7 1429.3,891.5 1434.4,890.7 1439.6,890.1 1444.8,890.1 1450,890.4 1455.1,890.3 1460.3,890 1465.5,890.1 1470.7,890.6 1475.8,890.9 1481,890.5 1486.2,889.8 1491.3,889.5 1496.5,889.6 1501.7,889.5 1506.9,888.9 1512,888.7 1517.2,889 1522.4,889.6 1527.6,889.6 1532.7,889.1 1537.9,888.8 1543.1,888.8 1548.2,888.7 1553.4,888.1 1558.6,887.4 1563.8,887.3 1568.9,887.7 1574.1,888 1579.3,887.7 1584.4,887.4 1589.6,887.5 1594.8,887.6 1600,887.2 1605.1,886.2 1610.3,885.6 1615.5,885.7 1620.7,885.8 1625.8,885.5 1631,885.1 1636.2,885.1 1641.3,885.5 1646.5,885.4 1651.7,884.6 1656.9,883.6 1662,883.2 1667.2,883.1 1672.4,882.6 1677.6,881.7 1682.7,881.2 1687.9,881.3 1693.1,881.3 1698.2,880.6 1703.4,879.4 1708.6,878.4 1713.8,877.8 1718.9,876.7 1724.1,875.1 1729.3,873.4 1734.5,872.3 1739.6,871.5 1744.8,870.1 1750,868 1755.1,865.9 1760.3,863.9 1765.5,861.7 1770.7,858.6 1775.8,855 1781,851.7 1786.2,848.6 1791.4,845.3 1796.5,841.3 1801.7,837.1 1806.9,832.9 1812,828.7 1817.2,824 1822.4,818.7 1827.6,813.3 1832.7,808.2 1837.9,803.2 1843.1,797.9 1848.3,792.6 1853.4,787.6 1858.6,782.9 1863.8,778.3 1868.9,773.8 1874.1,769.5 1879.3,765.7 1884.5,762.3 1889.6,759.4 1894.8,756.9 1900,755 1905.2,753.8 1910.3,753 1915.5,752.9 1920.7,753.3 1925.8,754.3 1931,756 1936.2,758.1 1941.4,760.7 1946.5,763.7 1951.7,767.3 1956.9,771.4 1962,775.8 1967.2,780.4 1972.4,785.2 1977.6,790.4 1982.7,795.8 1987.9,801 1993.1,805.9 1998.3,810.9 2003.4,816.1 2008.6,821.3 2013.8,826.1 2018.9,830.6 2024.1,835.3 2029.3,840.2 2034.5,844.5 2039.6,848.1 2044.8,851.2 2050,854.5 2055.2,857.7 2060.3,860.4 2065.5,862.5 2070.7,864.7 2075.8,867.4 2081,870 2086.2,871.8 2091.4,873.1 2096.5,874.4 2101.7,876 2106.9,877.1 2112.1,877.5 2117.2,877.9 2122.4,878.8 2127.6,880.1 2132.7,881.1 2137.9,881.5 2143.1,882 2148.3,882.9 2153.4,883.7 2158.6,883.8 2163.8,883.4 2169,883.4 2174.1,884 2179.3,884.6 2184.5,884.7 2189.6,884.8 2194.8,885.4 2200,886.3 2205.2,886.7 2210.3,886.4 2215.5,886.1 2220.7,886.4 2225.9,886.7 2231,886.7 2236.2,886.4 2241.4,886.6 2246.5,887.4 2251.7,888.2 2256.9,888.2 2262.1,888 2267.2,888.1 2272.4,888.5 2277.6,888.5 2282.8,888 2287.9,887.7 2293.1,888.1 2298.3,888.8 2303.4,889.2 2308.6,889.1 2313.8,889.2 2319,889.7 2324.1,890 2329.3,889.7 2334.5,889.1 2339.6,889 2344.8,889.4 2350,889.8 2355.2,889.7 2360.3,889.7 2365.5,890.2 2370.7,890.9 2375.9,891 2381,890.4 2386.2,890.1 2391.4,890.2 2396.5,890.5 2401.7,890.3" stroke="#868f2a"/>
<polyline points="1367.2,893.2 1372.4,893.5 1377.5,893.3 1382.7,893.2 1387.9,893.5 1393.1,893.8 1398.2,893.4 1403.4,892.7 1408.6,892.3 1413.8,892.6 1418.9,892.8 1424.1,892.6 1429.3,892.4 1434.4,892.8 1439.6,893.4 1444.8,893.5 1450,892.9 1455.1,892.3 1460.3,892.3 1465.5,892.4 1470.7,892.2 1475.8,891.7 1481,891.7 1486.2,892.3 1491.3,892.8 1496.5,892.6 1501.7,892.2 1506.9,892.1 1512,892.2 1517.2,892 1522.4,891.3 1527.6,890.9 1532.7,891.1 1537.9,891.7 1543.1,891.8 1548.2,891.5 1553.4,891.4 1558.6,891.8 1563.8,891.8 1568.9,891.3 1574.1,890.5 1579.3,890.2 1584.4,890.5 1589.6,890.7 1594.8,890.5 1600,890.3 1605.1,890.6 1610.3,891.1 1615.5,890.9 1620.7,890.2 1625.8,889.6 1631,889.6 1636.2,889.7 1641.3,889.3 1646.5,888.8 1651.7,888.8 1656.9,889.4 1662,889.6 1667.2,889.2 1672.4,888.5 1677.6,888.2 1682.7,888.1 1687.9,887.6 1693.1,886.6 1698.2,885.9 1703.4,885.9 1708.6,886 1713.8,885.5 1718.9,884.5 1724.1,883.8 1729.3,883.2 1734.5,882.2 1739.6,880.4 1744.8,878.4 1750,876.9 1755.1,875.7 1760.3,874.1 1765.5,871.8 1770.7,869.5 1775.8,867.4 1781,865 1786.2,861.8 1791.4,858 1796.5,854.3 1801.7,850.7 1806.9,846.9 1812,842.5 1817.2,838 1822.4,833.7 1827.6,829.4 1832.7,824.7 1837.9,819.7 1843.1,814.6 1848.3,809.7 1853.4,805 1858.6,800.2 1863.8,795.6 1868.9,791.3 1874.1,787.5 1879.3,784 1884.5,780.7 1889.6,777.8 1894.8,775.4 1900,773.5 1905.2,772.2 1910.3,771.3 1915.5,771.1 1920.7,771.4 1925.8,772.3 1931,773.7 1936.2,775.6 1941.4,778 1946.5,781 1951.7,784.4 1956.9,788 1962,791.8 1967.2,796 1972.4,800.6 1977.6,805.4 1982.7,810.1 1987.9,814.9 1993.1,820 1998.3,825.2 2003.4,830.1 2008.6,834.5 2013.8,838.7 2018.9,843.1 2024.1,847.4 2029.3,851.1 2034.5,854.4 2039.6,858 2044.8,861.8 2050,865.2 2055.2,867.8 2060.3,870 2065.5,872.4 2070.7,874.7 2075.8,876.3 2081,877.3 2086.2,878.4 2091.4,880.1 2096.5,881.8 2101.7,883 2106.9,883.7 2112.1,884.6 2117.2,885.8 2122.4,886.5 2127.6,886.5 2132.7,886.3 2137.9,886.7 2143.1,887.4 2148.3,887.8 2153.4,887.9 2158.6,888.1 2163.8,888.9 2169,889.7 2174.1,889.8 2179.3,889.4 2184.5,889.2 2189.6,889.5 2194.8,889.7 2200,889.5 2205.2,889.3 2210.3,889.7 2215.5,890.5 2220.7,891 2225.9,890.8 2231,890.6 2236.2,890.8 2241.4,891.1 2246.5,890.9 2251.7,890.3 2256.9,890.2 2262.1,890.8 2267.2,891.4 2272.4,891.5 2277.6,891.4 2282.8,891.6 2287.9,892.1 2293.1,892.2 2298.3,891.6 2303.4,891.1 2308.6,891.2 2313.8,891.7 2319,891.9 2324.1,891.7 2329.3,891.8 2334.5,892.5 2339.6,893 2344.8,892.8 2350,892.2 2355.2,892 2360.3,892.3 2365.5,892.4 2370.7,892 2375.9,891.9 2381,892.4 2386.2,893.1 2391.4,893.4 2396.5,893.1 2401.7,892.8" stroke="#ef6d2c"/>
</g>
<path d="M1367.2 80.5V944.7M1351.2 928.7H2403" stroke="#0a0a0a" stroke-width="3" fill="none"/>
<path d="M1367.2 834.6h-8M1367.2 740.5h-16M1367.2 646.4h-8M1367.2 552.3h-16M1367.2 458.2h-8M1367.2 364.1h-16M1367.2 270h-8M1367.2 175.9h-16M1367.2 81.8h-8M1496.5 928.7v8M1625.8 928.7v16M1755.1 928.7v8M1884.5 928.7v16M2013.8 928.7v8M2143.1 928.7v16M2272.4 928.7v8M2401.7 928.7v16" stroke="#0a0a0a" stroke-width="2.8" fill="none"/>
<text class="b" x="1338" y="942.9" font-size="47.5" text-anchor="end">0.0</text>
<text class="b" x="1338" y="754.7" font-size="47.5" text-anchor="end">0.2</text>
<text class="b" x="1338" y="566.5" font-size="47.5" text-anchor="end">0.4</text>
<text class="b" x="1338" y="378.3" font-size="47.5" text-anchor="end">0.6</text>
<text class="b" x="1338" y="190.1" font-size="47.5" text-anchor="end">0.8</text>
<text class="b" x="1367.7" y="994.4" font-size="47.5" text-anchor="middle">700</text>
<text class="b" x="1626.3" y="994.4" font-size="47.5" text-anchor="middle">710</text>
<text class="b" x="1885" y="994.4" font-size="47.5" text-anchor="middle">720</text>
<text class="b" x="2143.6" y="994.4" font-size="47.5" text-anchor="middle">730</text>
<text class="b" x="2402.2" y="994.4" font-size="47.5" text-anchor="middle">740</text>
<text x="1142.5" y="70.2" font-size="64" textLength="86.5" lengthAdjust="spacingAndGlyphs">(b)</text>
<text class="b" transform="translate(1224.5 785) rotate(-90)" font-size="48" textLength="558" lengthAdjust="spacingAndGlyphs">Transmittance (rel.units)</text>
<text class="b" x="1714.5" y="1063.8" font-size="48" textLength="378" lengthAdjust="spacingAndGlyphs">Wavelength (nm)</text>
<rect x="2184.6" y="52.3" width="202.2" height="664.7" fill="#fdfdfc" stroke="#2a2a2a" stroke-width="1.5"/>
<text x="2193.5" y="101" font-size="46.5"><tspan class="i">Ψ</tspan><tspan font-size="31.5" dy="14" dx="-2">0</tspan><tspan dy="-14" dx="1"> =</tspan></text>
<line x1="2192.5" y1="155.4" x2="2295.5" y2="155.4" stroke="#4c545e" stroke-width="8.4" stroke-linecap="round"/>
<text x="2310.5" y="171.9" font-size="46.8"> 0°</text>
<line x1="2192.5" y1="214.1" x2="2295.5" y2="214.1" stroke="#e8423d" stroke-width="8.4" stroke-linecap="round"/>
<text x="2310.5" y="230.6" font-size="46.8">10°</text>
<line x1="2192.5" y1="272.8" x2="2295.5" y2="272.8" stroke="#4a5ba2" stroke-width="8.4" stroke-linecap="round"/>
<text x="2310.5" y="289.3" font-size="46.8">20°</text>
<line x1="2192.5" y1="331.5" x2="2295.5" y2="331.5" stroke="#36a866" stroke-width="8.4" stroke-linecap="round"/>
<text x="2310.5" y="348" font-size="46.8">30°</text>
<line x1="2192.5" y1="390.2" x2="2295.5" y2="390.2" stroke="#9a6bad" stroke-width="8.4" stroke-linecap="round"/>
<text x="2310.5" y="406.7" font-size="46.8">40°</text>
<line x1="2192.5" y1="448.9" x2="2295.5" y2="448.9" stroke="#c48e27" stroke-width="8.4" stroke-linecap="round"/>
<text x="2310.5" y="465.4" font-size="46.8">50°</text>
<line x1="2192.5" y1="507.6" x2="2295.5" y2="507.6" stroke="#4eb8a9" stroke-width="8.4" stroke-linecap="round"/>
<text x="2310.5" y="524.1" font-size="46.8">60°</text>
<line x1="2192.5" y1="566.3" x2="2295.5" y2="566.3" stroke="#6d4247" stroke-width="8.4" stroke-linecap="round"/>
<text x="2310.5" y="582.8" font-size="46.8">70°</text>
<line x1="2192.5" y1="625" x2="2295.5" y2="625" stroke="#868f2a" stroke-width="8.4" stroke-linecap="round"/>
<text x="2310.5" y="641.5" font-size="46.8">80°</text>
<line x1="2192.5" y1="683.7" x2="2295.5" y2="683.7" stroke="#ef6d2c" stroke-width="8.4" stroke-linecap="round"/>
<text x="2310.5" y="700.2" font-size="46.8">90°</text>
<path d="M871 1201.8V1979.8M982.5 1201.8V1979.8M1093.9 1201.8V1979.8M1205.3 1201.8V1979.8M1316.8 1201.8V1979.8M1428.2 1201.8V1979.8M1539.6 1201.8V1979.8M1651.1 1201.8V1979.8M759.6 1893.4H1762.5M759.6 1806.9H1762.5M759.6 1720.5H1762.5M759.6 1634H1762.5M759.6 1547.6H1762.5M759.6 1461.2H1762.5M759.6 1374.7H1762.5M759.6 1288.3H1762.5" stroke="#404040" stroke-width="1.3" fill="none"/>
<g clip-path="url(#clipc)">
<circle cx="765.2" cy="1273.6" r="13.6" fill="#0c0c0e"/>
<circle cx="820.9" cy="1300.4" r="13.6" fill="#0c0c0e"/>
<circle cx="876.6" cy="1352.2" r="13.6" fill="#0c0c0e"/>
<circle cx="932.3" cy="1433.5" r="13.6" fill="#0c0c0e"/>
<circle cx="988" cy="1523.4" r="13.6" fill="#0c0c0e"/>
<circle cx="1043.8" cy="1625.4" r="13.6" fill="#0c0c0e"/>
<circle cx="1099.5" cy="1709.2" r="13.6" fill="#0c0c0e"/>
<circle cx="1155.2" cy="1781" r="13.6" fill="#0c0c0e"/>
<circle cx="1210.9" cy="1821.6" r="13.6" fill="#0c0c0e"/>
<circle cx="1266.6" cy="1837.2" r="13.6" fill="#0c0c0e"/>
<circle cx="1322.3" cy="1813.8" r="13.6" fill="#0c0c0e"/>
<circle cx="1378.1" cy="1769.8" r="13.6" fill="#0c0c0e"/>
<circle cx="1433.8" cy="1690.2" r="13.6" fill="#0c0c0e"/>
<circle cx="1489.5" cy="1602.1" r="13.6" fill="#0c0c0e"/>
<circle cx="1545.2" cy="1497.5" r="13.6" fill="#0c0c0e"/>
<circle cx="1600.9" cy="1410.2" r="13.6" fill="#0c0c0e"/>
<circle cx="1656.6" cy="1334.1" r="13.6" fill="#0c0c0e"/>
<circle cx="1712.4" cy="1290.9" r="13.6" fill="#0c0c0e"/>
<circle cx="1768.1" cy="1279.6" r="13.6" fill="#0c0c0e"/>
<rect x="752.4" y="1259.9" width="25.6" height="25.6" fill="#e8432a"/>
<rect x="808.1" y="1278.1" width="25.6" height="25.6" fill="#e8432a"/>
<rect x="863.8" y="1324.8" width="25.6" height="25.6" fill="#e8432a"/>
<rect x="919.5" y="1402.5" width="25.6" height="25.6" fill="#e8432a"/>
<rect x="975.2" y="1490.7" width="25.6" height="25.6" fill="#e8432a"/>
<rect x="1031" y="1590.1" width="25.6" height="25.6" fill="#e8432a"/>
<rect x="1086.7" y="1679.2" width="25.6" height="25.6" fill="#e8432a"/>
<rect x="1142.4" y="1754.4" width="25.6" height="25.6" fill="#e8432a"/>
<rect x="1198.1" y="1800.2" width="25.6" height="25.6" fill="#e8432a"/>
<rect x="1253.8" y="1822.6" width="25.6" height="25.6" fill="#e8432a"/>
<rect x="1309.5" y="1806.2" width="25.6" height="25.6" fill="#e8432a"/>
<rect x="1365.3" y="1767.3" width="25.6" height="25.6" fill="#e8432a"/>
<rect x="1421" y="1692.1" width="25.6" height="25.6" fill="#e8432a"/>
<rect x="1476.7" y="1607.4" width="25.6" height="25.6" fill="#e8432a"/>
<rect x="1532.4" y="1506.3" width="25.6" height="25.6" fill="#e8432a"/>
<rect x="1588.1" y="1414.6" width="25.6" height="25.6" fill="#e8432a"/>
<rect x="1643.8" y="1335.1" width="25.6" height="25.6" fill="#e8432a"/>
<rect x="1699.6" y="1285" width="25.6" height="25.6" fill="#e8432a"/>
<rect x="1755.3" y="1266" width="25.6" height="25.6" fill="#e8432a"/>
<polyline points="759.6,1305.7 765.2,1306.1 770.7,1306.8 776.3,1307.8 781.9,1309.1 787.5,1310.7 793,1312.5 798.6,1314.6 804.2,1316.9 809.7,1319.5 815.3,1322.3 820.9,1325.4 826.5,1328.7 832,1332.4 837.6,1336.3 843.2,1340.5 848.7,1345.1 854.3,1350 859.9,1355.3 865.5,1360.9 871,1366.8 876.6,1373 882.2,1379.5 887.7,1386.3 893.3,1393.3 898.9,1400.5 904.5,1407.8 910,1415.4 915.6,1423.1 921.2,1430.8 926.8,1438.7 932.3,1446.8 937.9,1454.9 943.5,1463 949,1471.3 954.6,1479.7 960.2,1488.1 965.8,1496.6 971.3,1505.2 976.9,1513.8 982.5,1522.5 988,1531.2 993.6,1540 999.2,1548.8 1004.8,1557.5 1010.3,1566.3 1015.9,1575.1 1021.5,1583.8 1027,1592.6 1032.6,1601.2 1038.2,1609.8 1043.8,1618.4 1049.3,1626.9 1054.9,1635.3 1060.5,1643.6 1066,1651.7 1071.6,1659.8 1077.2,1667.8 1082.8,1675.6 1088.3,1683.3 1093.9,1690.8 1099.5,1698.1 1105,1705.3 1110.6,1712.3 1116.2,1719.1 1121.8,1725.7 1127.3,1732.2 1132.9,1738.4 1138.5,1744.3 1144,1750.1 1149.6,1755.6 1155.2,1760.9 1160.8,1765.9 1166.3,1770.7 1171.9,1775.2 1177.5,1779.4 1183,1783.4 1188.6,1787.1 1194.2,1790.5 1199.8,1793.6 1205.3,1796.5 1210.9,1799 1216.5,1801.3 1222.1,1803.2 1227.6,1804.9 1233.2,1806.3 1238.8,1807.3 1244.3,1808.1 1249.9,1808.5 1255.5,1808.6 1261.1,1808.5 1266.6,1808 1272.2,1807.2 1277.8,1806.1 1283.3,1804.8 1288.9,1803.1 1294.5,1801.1 1300.1,1798.8 1305.6,1796.2 1311.2,1793.3 1316.8,1790.2 1322.3,1786.7 1327.9,1783 1333.5,1779 1339.1,1774.7 1344.6,1770.2 1350.2,1765.4 1355.8,1760.4 1361.3,1755.1 1366.9,1749.5 1372.5,1743.7 1378.1,1737.7 1383.6,1731.5 1389.2,1725.1 1394.8,1718.5 1400.3,1711.6 1405.9,1704.6 1411.5,1697.4 1417.1,1690 1422.6,1682.5 1428.2,1674.8 1433.8,1667 1439.3,1659 1444.9,1650.9 1450.5,1642.7 1456.1,1634.4 1461.6,1626 1467.2,1617.5 1472.8,1609 1478.3,1600.4 1483.9,1591.7 1489.5,1583 1495.1,1574.2 1500.6,1565.4 1506.2,1556.7 1511.8,1547.9 1517.4,1539.1 1522.9,1530.4 1528.5,1521.7 1534.1,1513 1539.6,1504.4 1545.2,1495.8 1550.8,1487.3 1556.4,1478.9 1561.9,1470.6 1567.5,1462.4 1573.1,1454.3 1578.6,1446.3 1584.2,1438.4 1589.8,1430.6 1595.4,1423 1600.9,1415.5 1606.5,1408.1 1612.1,1400.9 1617.6,1393.9 1623.2,1387.1 1628.8,1380.4 1634.4,1374 1639.9,1367.8 1645.5,1361.8 1651.1,1356.2 1656.6,1350.8 1662.2,1345.7 1667.8,1341 1673.4,1336.6 1678.9,1332.5 1684.5,1328.7 1690.1,1325.2 1695.6,1322.1 1701.2,1319.2 1706.8,1316.6 1712.4,1314.2 1717.9,1312.2 1723.5,1310.4 1729.1,1308.9 1734.6,1307.6 1740.2,1306.7 1745.8,1306 1751.4,1305.6 1756.9,1305.5 1762.5,1305.7" fill="none" stroke="#4b2a86" stroke-width="7.2" stroke-linejoin="round"/>
<polyline points="759.6,1305.7 765.2,1305.5 770.7,1305.5 776.3,1305.9 781.9,1306.6 787.5,1307.5 793,1308.7 798.6,1310.1 804.2,1311.8 809.7,1313.8 815.3,1316 820.9,1318.5 826.5,1321.2 832,1324.3 837.6,1327.6 843.2,1331.3 848.7,1335.3 854.3,1339.7 859.9,1344.4 865.5,1349.5 871,1354.9 876.6,1360.7 882.2,1366.7 887.7,1373 893.3,1379.6 898.9,1386.3 904.5,1393.3 910,1400.5 915.6,1407.8 921.2,1415.2 926.8,1422.8 932.3,1430.5 937.9,1438.3 943.5,1446.2 949,1454.2 954.6,1462.4 960.2,1470.6 965.8,1478.9 971.3,1487.3 976.9,1495.8 982.5,1504.4 988,1513 993.6,1521.7 999.2,1530.4 1004.8,1539.1 1010.3,1547.9 1015.9,1556.7 1021.5,1565.4 1027,1574.2 1032.6,1583 1038.2,1591.7 1043.8,1600.4 1049.3,1609 1054.9,1617.5 1060.5,1626 1066,1634.4 1071.6,1642.7 1077.2,1650.9 1082.8,1659 1088.3,1667 1093.9,1674.8 1099.5,1682.5 1105,1690 1110.6,1697.4 1116.2,1704.6 1121.8,1711.6 1127.3,1718.5 1132.9,1725.1 1138.5,1731.5 1144,1737.7 1149.6,1743.7 1155.2,1749.5 1160.8,1755.1 1166.3,1760.4 1171.9,1765.4 1177.5,1770.2 1183,1774.7 1188.6,1779 1194.2,1783 1199.8,1786.7 1205.3,1790.2 1210.9,1793.3 1216.5,1796.2 1222.1,1798.8 1227.6,1801.1 1233.2,1803.1 1238.8,1804.8 1244.3,1806.1 1249.9,1807.2 1255.5,1808 1261.1,1808.5 1266.6,1808.6 1272.2,1808.5 1277.8,1808.1 1283.3,1807.3 1288.9,1806.3 1294.5,1804.9 1300.1,1803.2 1305.6,1801.3 1311.2,1799 1316.8,1796.5 1322.3,1793.6 1327.9,1790.5 1333.5,1787.1 1339.1,1783.4 1344.6,1779.4 1350.2,1775.2 1355.8,1770.7 1361.3,1765.9 1366.9,1760.9 1372.5,1755.6 1378.1,1750.1 1383.6,1744.3 1389.2,1738.4 1394.8,1732.2 1400.3,1725.7 1405.9,1719.1 1411.5,1712.3 1417.1,1705.3 1422.6,1698.1 1428.2,1690.8 1433.8,1683.3 1439.3,1675.6 1444.9,1667.8 1450.5,1659.8 1456.1,1651.7 1461.6,1643.6 1467.2,1635.3 1472.8,1626.9 1478.3,1618.4 1483.9,1609.8 1489.5,1601.2 1495.1,1592.6 1500.6,1583.8 1506.2,1575.1 1511.8,1566.3 1517.4,1557.5 1522.9,1548.8 1528.5,1540 1534.1,1531.2 1539.6,1522.5 1545.2,1513.9 1550.8,1505.2 1556.4,1496.7 1561.9,1488.1 1567.5,1479.7 1573.1,1471.4 1578.6,1463.1 1584.2,1455 1589.8,1446.9 1595.4,1439 1600.9,1431.1 1606.5,1423.4 1612.1,1415.9 1617.6,1408.4 1623.2,1401.2 1628.8,1394.1 1634.4,1387.2 1639.9,1380.6 1645.5,1374.2 1651.1,1368 1656.6,1362.1 1662.2,1356.6 1667.8,1351.3 1673.4,1346.3 1678.9,1341.7 1684.5,1337.4 1690.1,1333.3 1695.6,1329.6 1701.2,1326.1 1706.8,1322.9 1712.4,1319.9 1717.9,1317.3 1723.5,1314.9 1729.1,1312.7 1734.6,1310.8 1740.2,1309.2 1745.8,1307.9 1751.4,1306.9 1756.9,1306.1 1762.5,1305.7" fill="none" stroke="#f7e826" stroke-width="7.2" stroke-linejoin="round"/>
</g>
<path d="M1092 1557H1100.6V1614L1110.8 1611L1098.3 1660H1094.3L1081.8 1611L1092 1614Z" fill="#0c0c0e" stroke="#0c0c0e" stroke-width="1.5" stroke-linejoin="round"/>
<path d="M1424.7 1553H1433.3V1609L1443.5 1606L1431 1655.5H1427L1414.5 1606L1424.7 1609Z" fill="#0c0c0e" stroke="#0c0c0e" stroke-width="1.5" stroke-linejoin="round"/>
<path d="M759.6 1200.3V1993.8M745.1 1979.8H1764" stroke="#0a0a0a" stroke-width="3" fill="none"/>
<path d="M759.6 1936.6h-7.5M759.6 1893.4h-14.5M759.6 1850.1h-7.5M759.6 1806.9h-14.5M759.6 1763.7h-7.5M759.6 1720.5h-14.5M759.6 1677.3h-7.5M759.6 1634h-14.5M759.6 1590.8h-7.5M759.6 1547.6h-14.5M759.6 1504.4h-7.5M759.6 1461.2h-14.5M759.6 1417.9h-7.5M759.6 1374.7h-14.5M759.6 1331.5h-7.5M759.6 1288.3h-14.5M759.6 1245.1h-7.5M759.6 1201.8h-14.5M815.3 1979.8v7M871 1979.8v14M926.8 1979.8v7M982.5 1979.8v14M1038.2 1979.8v7M1093.9 1979.8v14M1149.6 1979.8v7M1205.3 1979.8v14M1261.1 1979.8v7M1316.8 1979.8v14M1372.5 1979.8v7M1428.2 1979.8v14M1483.9 1979.8v7M1539.6 1979.8v14M1595.4 1979.8v7M1651.1 1979.8v14M1706.8 1979.8v7M1762.5 1979.8v14" stroke="#0a0a0a" stroke-width="3" fill="none"/>
<text class="b" x="734.5" y="1995" font-size="47.5" text-anchor="end">0.0</text>
<text class="b" x="734.5" y="1908.6" font-size="47.5" text-anchor="end">0.1</text>
<text class="b" x="734.5" y="1822.1" font-size="47.5" text-anchor="end">0.2</text>
<text class="b" x="734.5" y="1735.7" font-size="47.5" text-anchor="end">0.3</text>
<text class="b" x="734.5" y="1649.2" font-size="47.5" text-anchor="end">0.4</text>
<text class="b" x="734.5" y="1562.8" font-size="47.5" text-anchor="end">0.5</text>
<text class="b" x="734.5" y="1476.4" font-size="47.5" text-anchor="end">0.6</text>
<text class="b" x="734.5" y="1389.9" font-size="47.5" text-anchor="end">0.7</text>
<text class="b" x="734.5" y="1303.5" font-size="47.5" text-anchor="end">0.8</text>
<text class="b" x="734.5" y="1217" font-size="47.5" text-anchor="end">0.9</text>
<text class="b" x="759.9" y="2043.6" font-size="47.5" text-anchor="middle">0</text>
<text class="b" x="871.3" y="2043.6" font-size="47.5" text-anchor="middle">20</text>
<text class="b" x="982.8" y="2043.6" font-size="47.5" text-anchor="middle">40</text>
<text class="b" x="1094.2" y="2043.6" font-size="47.5" text-anchor="middle">60</text>
<text class="b" x="1205.6" y="2043.6" font-size="47.5" text-anchor="middle">80</text>
<text class="b" x="1317.1" y="2043.6" font-size="47.5" text-anchor="middle">100</text>
<text class="b" x="1428.5" y="2043.6" font-size="47.5" text-anchor="middle">120</text>
<text class="b" x="1539.9" y="2043.6" font-size="47.5" text-anchor="middle">140</text>
<text class="b" x="1651.4" y="2043.6" font-size="47.5" text-anchor="middle">160</text>
<text class="b" x="1762.8" y="2043.6" font-size="47.5" text-anchor="middle">180</text>
<text x="536.5" y="1170" font-size="64" textLength="80" lengthAdjust="spacingAndGlyphs">(c)</text>
<text class="b" transform="translate(638.4 1880) rotate(-90)" font-size="48" textLength="579" lengthAdjust="spacingAndGlyphs">Transmittance (rel.units)</text>
<text class="b" x="1090.8" y="2107.7" font-size="48" textLength="341" lengthAdjust="spacingAndGlyphs">Polarization  (°)</text>
<rect x="1081.9" y="1196" width="375.2" height="296.2" fill="#fdfdfc" stroke="#4a4a4a" stroke-width="1.5"/>
<circle cx="1141.2" cy="1230" r="14.2" fill="#0c0c0e"/>
<rect x="1128.2" y="1289.8" width="25.6" height="25.6" fill="#e8432a"/>
<line x1="1088.5" y1="1374.8" x2="1193.5" y2="1374.8" stroke="#4b2a86" stroke-width="8" stroke-linecap="round"/>
<line x1="1088.5" y1="1447.8" x2="1193.5" y2="1447.8" stroke="#f7e826" stroke-width="8" stroke-linecap="round"/>
<text class="s" y="1248.3" font-size="54"><tspan x="1207" textLength="79.5" lengthAdjust="spacingAndGlyphs">exp.</tspan><tspan class="i" x="1296.5" textLength="28" lengthAdjust="spacingAndGlyphs">T</tspan><tspan x="1328" textLength="16" lengthAdjust="spacingAndGlyphs">(</tspan><tspan x="1343.5" textLength="25" lengthAdjust="spacingAndGlyphs">+</tspan><tspan class="i" x="1366.5" textLength="47" lengthAdjust="spacingAndGlyphs">M</tspan><tspan class="i" font-size="25" x="1415.5" dy="11">z</tspan><tspan class="i" font-size="15" x="1426.5" dy="4">i</tspan><tspan dy="-15" x="1438" textLength="16" lengthAdjust="spacingAndGlyphs">)</tspan></text>
<text class="s" y="1321.3" font-size="54"><tspan x="1207" textLength="79.5" lengthAdjust="spacingAndGlyphs">exp.</tspan><tspan class="i" x="1296.5" textLength="28" lengthAdjust="spacingAndGlyphs">T</tspan><tspan x="1328" textLength="16" lengthAdjust="spacingAndGlyphs">(</tspan><tspan x="1343.5" textLength="25" lengthAdjust="spacingAndGlyphs">−</tspan><tspan class="i" x="1366.5" textLength="47" lengthAdjust="spacingAndGlyphs">M</tspan><tspan class="i" font-size="25" x="1415.5" dy="11">z</tspan><tspan class="i" font-size="15" x="1426.5" dy="4">i</tspan><tspan dy="-15" x="1438" textLength="16" lengthAdjust="spacingAndGlyphs">)</tspan></text>
<text class="s" y="1394" font-size="54"><tspan x="1207" textLength="79.5" lengthAdjust="spacingAndGlyphs">sim.</tspan><tspan class="i" x="1296.5" textLength="28" lengthAdjust="spacingAndGlyphs">T</tspan><tspan x="1328" textLength="16" lengthAdjust="spacingAndGlyphs">(</tspan><tspan x="1343.5" textLength="25" lengthAdjust="spacingAndGlyphs">+</tspan><tspan class="i" x="1366.5" textLength="47" lengthAdjust="spacingAndGlyphs">M</tspan><tspan class="i" font-size="25" x="1415.5" dy="11">z</tspan><tspan class="i" font-size="15" x="1426.5" dy="4">i</tspan><tspan dy="-15" x="1438" textLength="16" lengthAdjust="spacingAndGlyphs">)</tspan></text>
<text class="s" y="1467" font-size="54"><tspan x="1207" textLength="79.5" lengthAdjust="spacingAndGlyphs">sim.</tspan><tspan class="i" x="1296.5" textLength="28" lengthAdjust="spacingAndGlyphs">T</tspan><tspan x="1328" textLength="16" lengthAdjust="spacingAndGlyphs">(</tspan><tspan x="1343.5" textLength="25" lengthAdjust="spacingAndGlyphs">−</tspan><tspan class="i" x="1366.5" textLength="47" lengthAdjust="spacingAndGlyphs">M</tspan><tspan class="i" font-size="25" x="1415.5" dy="11">z</tspan><tspan class="i" font-size="15" x="1426.5" dy="4">i</tspan><tspan dy="-15" x="1438" textLength="16" lengthAdjust="spacingAndGlyphs">)</tspan></text>
</svg>
</body>
</html>
